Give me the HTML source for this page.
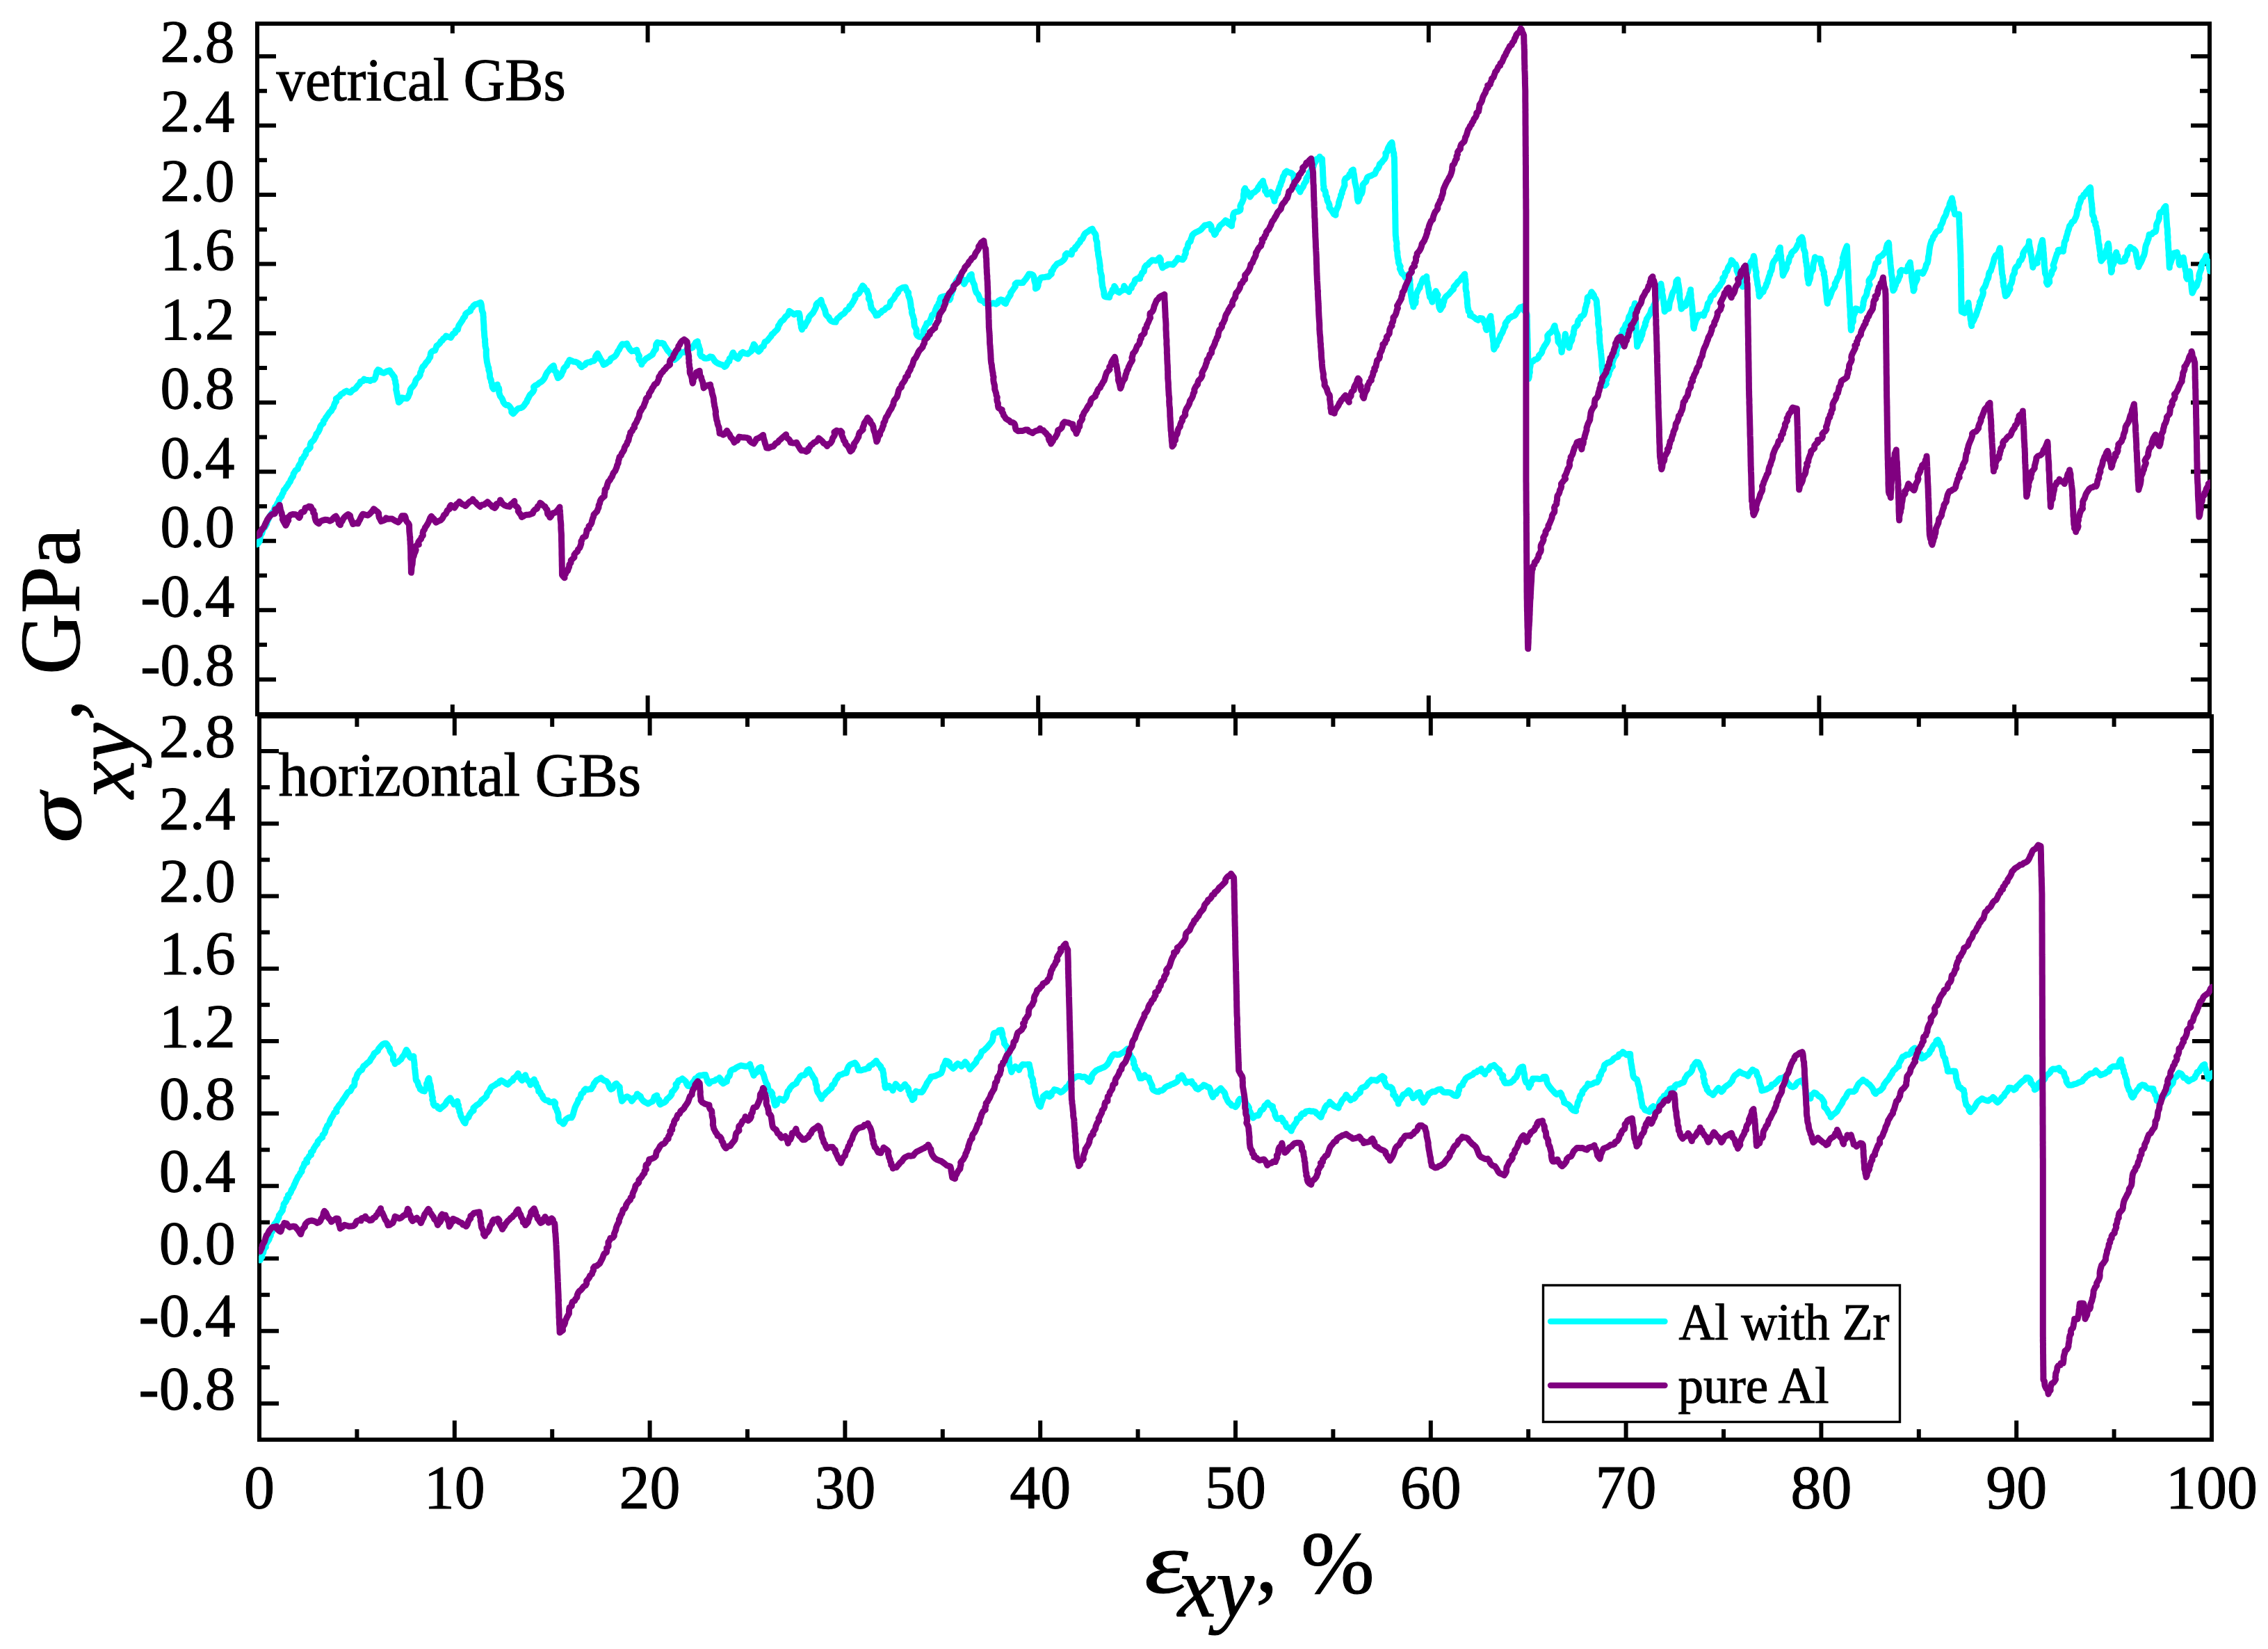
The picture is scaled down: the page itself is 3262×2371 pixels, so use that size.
<!DOCTYPE html>
<html><head><meta charset="utf-8"><title>chart</title>
<style>
html,body{margin:0;padding:0;background:#fff;}
body{width:3262px;height:2371px;overflow:hidden;font-family:"Liberation Serif",serif;}
svg{display:block;position:absolute;left:0;top:0;}
</style></head><body>
<svg width="3262" height="2371" viewBox="0 0 3262 2371">
<rect x="0" y="0" width="3262" height="2371" fill="#fff"/>
<defs>
<clipPath id="ct"><rect x="369" y="34" width="2810" height="993"/></clipPath>
<clipPath id="cb"><rect x="372" y="1030" width="2810" height="1040"/></clipPath>
</defs>
<g stroke="#000" stroke-width="6" fill="none" stroke-linecap="butt">
<rect x="370" y="34" width="2808" height="993"/>
<rect x="373" y="1030" width="2808" height="1040"/>
<path d="M370 81.0h27M3178 81.0h-27M370 130.8h14M3178 130.8h-14M370 180.5h27M3178 180.5h-27M370 230.3h14M3178 230.3h-14M370 280.1h27M3178 280.1h-27M370 329.9h14M3178 329.9h-14M370 379.6h27M3178 379.6h-27M370 429.4h14M3178 429.4h-14M370 479.2h27M3178 479.2h-27M370 528.9h14M3178 528.9h-14M370 578.7h27M3178 578.7h-27M370 628.5h14M3178 628.5h-14M370 678.2h27M3178 678.2h-27M370 728.0h14M3178 728.0h-14M370 777.8h27M3178 777.8h-27M370 827.5h14M3178 827.5h-14M370 877.3h27M3178 877.3h-27M370 927.1h14M3178 927.1h-14M370 976.9h27M3178 976.9h-27M650.8 34v14M650.8 1027v-14M931.6 34v27M931.6 1027v-27M1212.4 34v14M1212.4 1027v-14M1493.2 34v27M1493.2 1027v-27M1774.0 34v14M1774.0 1027v-14M2054.8 34v27M2054.8 1027v-27M2335.6 34v14M2335.6 1027v-14M2616.4 34v27M2616.4 1027v-27M2897.2 34v14M2897.2 1027v-14M373 1080.0h28M3181 1080.0h-28M373 1132.1h15M3181 1132.1h-15M373 1184.2h28M3181 1184.2h-28M373 1236.3h15M3181 1236.3h-15M373 1288.4h28M3181 1288.4h-28M373 1340.6h15M3181 1340.6h-15M373 1392.7h28M3181 1392.7h-28M373 1444.8h15M3181 1444.8h-15M373 1496.9h28M3181 1496.9h-28M373 1549.0h15M3181 1549.0h-15M373 1601.1h28M3181 1601.1h-28M373 1653.2h15M3181 1653.2h-15M373 1705.3h28M3181 1705.3h-28M373 1757.5h15M3181 1757.5h-15M373 1809.6h28M3181 1809.6h-28M373 1861.7h15M3181 1861.7h-15M373 1913.8h28M3181 1913.8h-28M373 1965.9h15M3181 1965.9h-15M373 2018.0h28M3181 2018.0h-28M513.4 1030v15M513.4 2070v-15M653.8 1030v27.5M653.8 2070v-27.5M794.2 1030v15M794.2 2070v-15M934.6 1030v27.5M934.6 2070v-27.5M1075.0 1030v15M1075.0 2070v-15M1215.4 1030v27.5M1215.4 2070v-27.5M1355.8 1030v15M1355.8 2070v-15M1496.2 1030v27.5M1496.2 2070v-27.5M1636.6 1030v15M1636.6 2070v-15M1777.0 1030v27.5M1777.0 2070v-27.5M1917.4 1030v15M1917.4 2070v-15M2057.8 1030v27.5M2057.8 2070v-27.5M2198.2 1030v15M2198.2 2070v-15M2338.6 1030v27.5M2338.6 2070v-27.5M2479.0 1030v15M2479.0 2070v-15M2619.4 1030v27.5M2619.4 2070v-27.5M2759.8 1030v15M2759.8 2070v-15M2900.2 1030v27.5M2900.2 2070v-27.5M3040.6 1030v15M3040.6 2070v-15"/>
</g>
<g clip-path="url(#ct)">
<polyline fill="none" stroke-width="9" stroke-linejoin="round" stroke-linecap="round" stroke="#00ffff" points="369.8,782.7 371.9,780.4 373.5,777.9 373.9,774.8 374.3,771.8 375.1,768.9 376.9,766.5 377.6,763.5 378.4,760.6 380.6,758.4 382.1,755.8 383.6,753.3 384.0,750.2 385.6,747.6 386.8,744.9 388.1,741.9 389.8,739.7 391.3,737.2 394.2,735.3 394.6,732.1 395.6,729.2 397.8,726.9 398.8,724.0 400.6,721.6 401.3,718.5 402.9,716.0 405.0,713.7 405.7,711.0 407.5,708.1 408.2,705.0 410.4,702.8 412.0,700.1 413.9,697.7 415.2,695.0 417.3,692.6 418.2,689.7 419.8,687.0 421.6,684.5 422.1,681.3 423.8,678.7 425.3,676.1 428.4,674.4 429.1,671.2 430.3,668.6 432.3,666.1 433.3,663.2 433.8,660.1 436.6,658.2 437.6,655.4 439.7,653.1 440.0,649.9 441.7,647.4 444.3,645.5 446.3,643.2 446.1,639.6 447.1,636.7 449.3,634.5 451.5,632.4 452.8,629.7 454.3,627.1 455.0,624.0 457.2,621.9 458.5,619.5 459.9,616.5 460.7,613.3 462.4,610.8 465.0,608.8 465.3,605.4 467.5,603.1 468.7,600.3 470.7,597.9 472.3,595.3 474.1,592.8 476.6,590.7 477.8,587.9 479.8,585.5 480.6,582.4 481.7,579.5 483.7,577.1 483.3,573.3 486.6,571.2 488.7,569.6 490.4,566.9 493.3,565.7 495.4,563.5 498.6,562.1 501.4,563.6 504.2,564.3 505.9,562.1 508.2,560.2 511.1,558.9 512.9,556.5 514.8,554.2 517.2,552.1 518.3,548.8 521.8,547.9 523.6,545.2 526.4,546.5 529.7,546.5 532.4,547.7 534.4,546.2 537.7,546.1 539.4,544.0 540.3,540.6 541.2,537.7 541.7,534.5 543.6,531.7 546.6,533.0 548.8,535.3 551.7,536.3 554.5,535.0 557.3,533.5 560.5,532.7 562.0,535.4 563.9,537.5 565.4,539.9 567.5,542.2 567.5,544.9 568.7,547.9 568.8,551.0 569.8,554.0 569.9,557.2 569.6,560.3 570.5,563.4 571.0,566.4 571.6,569.5 572.2,572.6 572.9,575.7 573.5,578.6 575.6,576.8 577.3,574.5 578.1,571.8 581.5,572.5 585.1,573.0 587.1,570.6 588.0,568.0 589.3,565.5 589.8,562.7 590.3,559.8 592.1,557.3 594.2,555.2 596.1,552.6 597.2,549.6 598.1,546.5 600.1,544.0 602.6,541.9 604.3,539.2 604.6,535.7 606.2,533.0 606.7,530.0 608.0,527.5 610.3,525.5 611.8,523.1 613.3,520.9 615.7,518.6 617.0,515.9 618.8,513.4 619.1,510.1 619.8,507.1 622.0,504.8 625.6,503.9 626.9,500.8 627.9,497.5 630.5,495.6 632.6,493.6 633.9,490.8 636.4,489.3 637.6,486.7 640.3,485.4 641.4,483.1 644.8,484.2 648.4,485.4 650.2,482.5 651.5,479.8 654.7,478.5 655.2,475.3 658.5,474.0 659.0,471.1 660.0,467.8 661.8,465.3 663.5,462.8 665.2,460.2 666.4,457.4 668.7,455.2 669.5,451.8 671.5,449.8 674.0,448.3 676.6,447.2 677.3,443.8 679.6,442.0 681.0,439.6 683.6,437.7 686.3,437.1 688.9,436.0 691.3,434.9 692.2,437.7 692.7,440.9 692.9,444.1 693.5,447.3 694.9,450.5 694.9,453.3 695.3,456.2 695.2,459.2 695.5,462.1 695.7,465.0 695.9,467.9 696.0,470.9 696.0,473.8 696.4,476.7 696.6,479.7 696.7,482.6 697.0,485.4 697.7,488.4 697.5,491.4 697.9,494.3 697.9,497.3 698.6,500.2 699.4,503.0 699.2,506.0 699.3,509.0 699.3,511.9 699.7,514.9 700.1,517.8 700.5,520.9 701.2,523.5 701.7,526.3 702.9,529.0 702.8,532.0 703.8,534.7 704.4,537.5 704.4,540.4 704.8,543.3 706.2,546.0 706.5,549.2 707.6,551.4 707.7,554.3 708.3,557.0 710.0,559.6 712.0,557.2 714.6,555.6 715.3,552.9 715.5,555.4 717.5,558.0 718.0,561.0 717.7,564.2 718.6,567.1 719.5,569.8 721.5,572.3 723.0,575.0 723.9,578.1 725.8,580.7 727.8,582.4 730.7,582.5 732.8,584.2 734.4,586.5 735.8,589.1 735.7,592.5 738.1,594.9 740.5,592.3 742.7,589.8 745.2,587.4 748.7,586.7 751.7,585.2 754.0,582.7 755.7,580.0 757.6,577.8 758.4,575.0 759.9,572.6 761.0,570.1 762.6,567.4 765.0,565.3 766.9,562.9 768.2,560.1 767.5,556.3 769.8,554.3 773.0,552.9 775.6,550.5 778.6,548.8 780.7,546.9 782.5,544.7 783.8,542.3 784.8,539.7 786.0,537.2 787.4,535.0 789.6,532.6 791.3,529.9 793.5,527.7 796.2,525.8 797.1,529.0 796.6,532.4 799.8,534.6 800.2,537.8 801.4,540.6 802.5,543.6 805.3,541.5 807.4,539.0 808.5,535.8 810.2,532.9 810.8,529.9 812.8,527.6 815.3,525.5 816.1,522.5 818.0,520.1 819.0,517.5 821.8,518.6 824.6,520.0 827.8,520.2 830.4,521.5 832.9,523.1 834.2,526.1 836.6,527.7 838.7,525.8 841.4,524.6 842.9,522.1 845.4,521.0 848.5,520.8 851.2,519.3 854.2,518.8 856.1,516.6 856.2,513.4 857.5,510.7 859.5,508.2 860.9,511.1 862.4,513.7 863.6,516.4 865.5,518.8 866.9,521.5 868.3,524.5 871.5,523.0 874.1,520.6 877.1,519.3 878.4,515.8 881.2,514.3 883.9,512.6 885.9,510.5 887.5,507.8 888.5,505.1 890.4,502.9 891.5,500.3 892.9,497.9 895.0,494.7 898.6,495.2 901.7,494.1 903.0,497.3 904.6,500.0 906.3,502.7 908.7,504.9 912.3,504.4 915.8,503.1 916.6,506.2 917.8,509.1 919.4,512.0 918.6,515.6 919.9,518.5 922.9,520.8 922.8,524.1 923.7,521.3 925.9,519.5 927.6,517.3 929.8,515.2 932.8,513.7 935.6,511.7 938.6,509.8 939.6,507.1 941.1,504.4 943.4,501.9 943.4,498.5 943.7,495.2 945.6,492.3 948.5,493.5 951.6,493.2 954.4,494.0 955.9,497.1 957.7,499.7 959.3,502.5 961.1,505.0 963.4,507.2 965.0,509.8 966.6,512.4 968.4,514.8 969.9,517.4 972.4,515.5 974.7,513.4 976.9,511.2 978.7,508.5 980.6,506.7 983.5,506.6 985.7,505.2 988.4,503.9 990.6,501.7 993.5,500.8 996.3,499.6 997.4,497.1 999.2,495.0 1000.5,492.4 1003.3,490.8 1003.6,494.2 1005.0,497.0 1005.6,500.1 1006.9,503.0 1006.9,506.2 1006.8,509.4 1008.6,512.2 1011.0,513.0 1012.9,515.0 1015.6,515.3 1018.6,514.9 1021.3,512.8 1024.4,513.5 1026.3,516.4 1028.0,519.2 1030.4,521.1 1033.2,522.8 1036.4,524.0 1039.8,524.9 1042.0,527.4 1044.1,526.1 1045.6,523.6 1046.5,520.8 1049.0,519.3 1049.2,515.6 1052.2,513.3 1052.9,509.9 1054.3,506.9 1055.6,509.4 1057.6,511.5 1058.8,514.1 1061.4,515.9 1063.0,513.4 1064.5,510.9 1065.7,508.3 1068.4,506.4 1071.8,508.2 1075.4,508.9 1078.2,506.6 1081.0,504.6 1081.7,501.3 1083.1,498.4 1084.2,495.1 1086.2,497.6 1086.5,501.1 1088.8,503.2 1091.2,505.3 1093.8,503.0 1095.0,499.5 1098.3,497.6 1099.0,494.7 1100.1,491.7 1103.5,490.2 1105.3,487.7 1107.1,485.4 1109.0,483.5 1110.1,480.8 1112.5,479.2 1114.1,477.2 1117.0,474.7 1119.0,471.9 1119.4,468.6 1121.3,466.2 1122.5,463.6 1124.2,461.5 1126.6,459.9 1128.2,457.8 1130.0,455.1 1132.8,453.1 1134.2,450.2 1135.2,447.3 1137.6,448.8 1139.9,450.6 1142.3,452.2 1145.6,450.6 1149.3,450.5 1150.1,453.4 1150.5,456.3 1150.4,459.2 1151.3,462.0 1151.4,465.0 1152.3,467.8 1152.3,470.7 1153.5,473.8 1154.2,470.6 1157.2,469.4 1158.3,466.9 1159.8,464.2 1161.1,462.1 1162.7,459.8 1163.2,456.8 1164.8,454.4 1166.9,452.3 1169.2,450.0 1170.7,447.2 1172.2,444.5 1173.6,441.6 1173.9,438.0 1175.8,435.6 1178.5,434.0 1180.9,431.3 1181.8,434.9 1182.3,438.0 1184.3,440.6 1185.3,443.5 1186.7,446.3 1187.2,449.4 1188.0,452.3 1189.8,454.5 1192.1,456.3 1193.2,459.0 1195.0,461.1 1198.4,462.7 1202.0,463.1 1203.1,460.2 1204.5,457.8 1207.0,456.3 1208.7,454.2 1210.8,452.4 1213.4,451.1 1215.4,449.0 1216.7,446.1 1219.6,444.8 1221.2,443.0 1221.9,440.2 1224.5,438.6 1225.6,436.0 1227.3,433.8 1228.4,431.1 1230.1,428.7 1230.1,425.0 1233.0,423.4 1235.6,421.5 1237.2,418.8 1237.7,416.0 1239.3,413.4 1240.7,410.8 1243.0,412.9 1244.0,416.0 1246.9,417.6 1247.8,420.7 1249.1,423.4 1249.7,426.3 1249.3,429.4 1250.8,432.0 1252.0,434.8 1252.0,437.8 1252.9,440.6 1253.0,443.1 1255.5,445.8 1257.2,448.4 1259.1,450.9 1260.1,453.7 1262.9,453.1 1264.3,450.4 1267.1,449.4 1268.9,446.9 1272.0,445.6 1274.3,442.8 1277.7,441.5 1279.4,439.6 1280.3,436.9 1280.7,433.9 1282.8,432.0 1284.7,429.9 1286.5,427.8 1287.6,424.8 1289.6,422.6 1291.7,420.3 1292.5,417.1 1295.3,415.1 1298.5,413.4 1302.3,412.9 1303.3,415.6 1304.2,418.4 1306.6,420.6 1306.4,423.7 1307.1,426.5 1308.3,429.1 1309.0,431.9 1309.3,434.3 1309.9,437.6 1310.1,440.4 1310.6,443.3 1311.6,446.0 1311.3,449.0 1312.0,451.8 1313.2,454.4 1313.7,457.3 1314.8,460.0 1314.6,462.6 1315.0,465.7 1315.2,468.6 1316.6,471.2 1318.1,473.7 1318.2,476.6 1317.9,479.6 1319.2,482.5 1321.9,484.2 1325.2,484.4 1327.6,481.7 1328.1,478.7 1328.1,475.5 1329.6,472.8 1330.4,470.6 1332.2,467.7 1332.9,464.7 1336.6,464.1 1337.5,461.5 1338.7,458.6 1339.8,456.0 1340.5,453.1 1343.2,451.4 1344.5,448.9 1345.2,446.0 1346.3,443.4 1347.4,440.7 1349.5,438.5 1350.1,435.7 1352.1,433.4 1351.9,430.2 1353.3,427.5 1356.7,426.4 1360.3,425.7 1363.1,428.5 1365.6,431.4 1367.1,428.7 1366.7,425.6 1368.5,423.1 1368.9,420.3 1370.4,417.7 1370.3,414.7 1370.9,411.8 1372.8,409.8 1374.3,407.5 1375.1,404.8 1376.7,402.5 1378.3,400.2 1379.7,397.9 1382.5,399.8 1384.3,402.4 1385.2,405.6 1386.7,408.4 1388.1,405.8 1389.1,402.8 1392.4,401.7 1393.7,399.0 1394.9,396.2 1397.3,394.5 1397.3,397.5 1398.0,400.5 1398.9,403.5 1399.8,406.5 1401.4,409.3 1401.9,412.4 1402.5,415.5 1403.3,418.3 1404.4,420.9 1406.6,423.1 1407.8,425.7 1408.8,428.4 1409.6,431.1 1412.4,432.4 1415.2,433.5 1416.6,435.9 1419.5,436.4 1422.5,436.5 1425.4,436.6 1429.1,435.7 1432.4,437.2 1435.1,435.8 1436.2,432.4 1439.5,430.7 1442.8,431.7 1443.9,435.1 1446.5,436.6 1447.3,433.7 1448.9,431.2 1450.0,428.6 1451.8,426.2 1453.4,423.8 1453.5,421.1 1455.5,418.6 1457.1,416.4 1458.6,414.1 1460.4,411.9 1460.0,408.4 1462.3,406.5 1465.3,406.6 1468.2,406.7 1471.1,406.6 1472.8,404.1 1474.9,401.9 1476.6,399.4 1478.3,396.9 1479.9,394.1 1483.2,394.2 1485.9,395.7 1487.2,398.7 1487.4,401.5 1487.9,404.3 1488.8,407.0 1489.4,409.7 1489.4,412.6 1489.4,415.1 1492.0,413.4 1493.1,410.6 1493.2,407.4 1494.4,404.7 1495.4,401.8 1497.5,399.2 1500.1,398.7 1502.8,398.5 1505.3,397.8 1508.1,397.9 1510.0,395.8 1512.4,394.0 1512.0,390.5 1514.2,388.6 1515.2,386.0 1516.9,383.4 1518.8,381.6 1520.4,379.2 1523.2,378.2 1525.6,377.2 1528.5,375.0 1530.6,372.8 1532.1,370.2 1532.1,366.5 1534.4,364.3 1537.8,365.2 1541.1,365.9 1541.8,362.8 1542.2,359.7 1546.0,358.3 1546.4,355.7 1549.1,353.3 1550.9,350.4 1553.4,348.2 1554.0,345.3 1556.6,343.5 1557.9,340.9 1559.0,338.3 1560.5,335.8 1563.0,334.0 1565.7,332.4 1568.2,330.3 1571.0,329.0 1572.1,331.6 1573.6,334.1 1575.5,336.5 1576.3,339.5 1576.2,342.3 1576.7,345.2 1577.9,348.0 1578.0,350.9 1578.0,353.8 1578.5,356.7 1578.6,359.6 1579.4,362.4 1579.5,365.3 1579.9,368.2 1580.5,370.6 1581.1,373.9 1581.4,376.9 1581.9,379.8 1582.3,382.7 1582.0,385.7 1582.7,388.6 1582.9,391.6 1583.9,394.5 1584.6,397.3 1584.7,400.3 1584.7,403.3 1585.1,406.1 1585.4,409.0 1585.7,411.8 1586.6,414.5 1587.1,417.3 1587.9,420.0 1587.8,422.9 1588.6,426.1 1591.9,427.1 1595.6,427.4 1596.3,424.5 1597.6,421.9 1599.7,419.6 1599.9,416.6 1602.4,414.5 1602.7,411.4 1604.4,413.7 1605.4,416.5 1606.7,419.1 1609.7,420.6 1612.0,418.6 1614.9,417.2 1616.2,414.6 1616.7,411.3 1618.4,413.6 1618.9,416.7 1622.3,417.3 1623.8,419.7 1623.9,416.1 1627.4,414.3 1627.8,411.0 1630.1,408.6 1631.8,405.9 1632.6,402.3 1635.8,400.5 1639.6,400.7 1639.7,397.7 1641.7,395.3 1642.6,392.3 1645.3,390.2 1645.7,387.1 1646.5,384.1 1648.4,381.6 1651.2,380.3 1652.9,377.8 1655.1,376.0 1657.2,374.0 1659.9,374.3 1662.5,374.9 1665.2,373.0 1667.7,370.3 1669.4,373.1 1669.2,376.3 1669.9,379.3 1670.9,382.2 1672.0,385.0 1674.5,383.2 1677.6,381.9 1680.0,380.0 1683.6,379.9 1687.1,380.6 1688.9,378.5 1690.7,376.1 1692.9,373.9 1694.1,370.9 1697.5,372.5 1701.1,373.3 1703.3,370.3 1703.9,367.1 1705.4,364.3 1705.2,360.8 1706.5,357.9 1708.2,355.6 1708.5,352.0 1709.6,349.2 1712.2,347.0 1712.8,344.0 1714.0,341.2 1714.8,338.2 1717.0,336.0 1719.7,334.1 1722.7,332.8 1725.8,331.2 1727.7,329.8 1729.3,327.7 1731.3,325.8 1732.8,324.0 1736.4,323.4 1739.8,322.3 1741.8,324.7 1742.4,327.5 1742.5,330.5 1745.1,332.3 1746.0,335.0 1746.9,337.5 1748.6,335.4 1749.2,332.4 1751.2,330.3 1753.0,328.1 1753.9,325.4 1756.1,323.1 1758.6,321.3 1760.9,319.1 1762.7,316.9 1765.3,318.3 1766.6,321.5 1769.3,323.2 1771.5,325.1 1771.7,322.5 1771.9,319.7 1772.7,317.0 1773.8,314.3 1773.2,311.4 1773.8,308.6 1775.0,305.8 1777.8,304.5 1781.1,304.1 1783.8,302.3 1784.3,299.6 1783.8,296.4 1784.9,293.6 1786.5,291.0 1787.6,288.2 1788.6,285.4 1788.5,282.4 1788.6,279.4 1789.3,276.5 1789.2,273.5 1790.8,270.7 1791.5,273.7 1794.0,275.5 1794.0,278.8 1797.0,280.3 1797.9,283.1 1799.6,280.5 1801.2,277.7 1804.4,276.4 1806.7,274.0 1808.9,272.4 1809.6,269.4 1811.5,267.2 1812.9,264.7 1814.9,262.6 1816.5,260.1 1816.9,263.1 1817.7,265.9 1818.9,268.6 1820.0,271.3 1819.5,274.4 1821.7,276.8 1822.5,279.5 1825.4,278.3 1827.8,276.2 1829.9,278.3 1830.3,281.3 1831.3,283.9 1832.8,286.4 1833.0,289.3 1833.2,286.2 1834.6,283.5 1835.1,280.4 1837.9,278.1 1838.1,274.9 1839.4,272.1 1840.1,269.2 1841.7,266.3 1842.3,263.2 1843.8,260.4 1844.6,257.3 1845.4,253.8 1847.1,251.5 1848.1,248.3 1850.6,246.2 1852.9,247.5 1855.4,248.3 1857.7,249.1 1860.3,251.7 1860.8,254.5 1861.0,257.4 1862.3,259.9 1861.1,263.2 1862.9,265.9 1864.6,268.2 1867.0,270.4 1868.6,273.2 1870.0,275.9 1870.9,273.2 1872.5,270.7 1874.4,268.4 1875.3,265.2 1876.7,262.7 1878.8,260.3 1878.8,256.7 1880.6,254.1 1882.3,251.3 1882.7,248.5 1885.2,246.6 1886.0,243.9 1888.1,241.8 1889.1,239.1 1889.8,236.4 1891.1,233.9 1892.7,231.5 1893.6,228.7 1896.9,227.7 1898.1,225.3 1899.2,227.5 1901.6,228.4 1901.7,231.7 1901.8,234.8 1902.0,237.8 1902.4,240.9 1902.4,244.0 1902.6,247.1 1902.7,250.1 1902.8,253.2 1903.1,256.3 1903.1,259.4 1903.3,262.4 1903.4,265.8 1904.1,268.6 1903.6,271.9 1905.9,274.5 1906.6,277.5 1906.6,280.8 1908.6,283.4 1908.7,286.6 1909.5,289.5 1911.1,292.1 1912.1,295.0 1911.9,298.3 1914.0,300.8 1915.5,303.1 1917.1,305.4 1918.4,307.9 1921.0,309.3 1920.9,306.3 1921.5,303.2 1922.8,300.3 1924.2,297.5 1925.3,294.5 1925.5,291.4 1926.3,288.7 1927.3,285.8 1928.5,283.3 1928.5,280.4 1930.2,278.0 1930.3,275.1 1931.5,272.7 1932.7,269.5 1934.0,266.5 1933.8,263.1 1933.8,259.8 1935.1,256.7 1937.8,255.2 1940.3,253.1 1941.0,250.4 1943.6,249.0 1943.7,245.8 1946.3,244.0 1946.5,247.5 1947.3,250.4 1947.7,253.5 1948.1,256.5 1948.5,259.5 1948.9,262.6 1949.8,265.9 1950.3,268.5 1951.1,271.4 1951.4,274.5 1951.9,277.4 1952.0,280.5 1952.1,283.5 1952.5,286.5 1953.3,289.5 1954.6,286.7 1955.5,283.8 1956.2,280.9 1958.4,278.5 1959.3,275.6 1959.7,272.8 1960.1,269.3 1960.0,265.9 1962.1,263.3 1964.8,261.0 1965.5,257.9 1966.7,255.0 1969.3,253.5 1972.1,252.6 1974.7,251.1 1977.3,250.1 1978.8,246.9 1979.9,244.0 1982.4,241.7 1983.7,238.8 1984.3,236.0 1987.1,233.7 1989.1,231.0 1991.3,228.7 1992.6,226.1 1993.3,223.4 1992.8,220.3 1995.4,218.2 1995.6,215.3 1996.6,212.6 1998.1,210.0 1999.6,207.2 2001.9,204.7 2002.5,208.1 2002.6,211.3 2003.4,214.4 2003.7,217.5 2004.8,220.5 2004.8,223.7 2005.4,226.6 2005.4,229.9 2005.5,232.9 2005.6,235.9 2005.7,238.9 2005.7,242.0 2005.7,245.0 2005.8,248.0 2005.8,251.1 2005.8,254.1 2005.9,257.1 2006.0,260.1 2006.0,263.2 2006.1,266.2 2006.1,269.2 2006.1,272.3 2006.1,275.3 2006.2,278.3 2006.3,281.4 2006.3,284.4 2006.3,287.4 2006.5,290.4 2006.5,293.5 2006.5,296.5 2006.5,299.5 2006.6,302.6 2006.7,305.6 2006.8,308.6 2006.8,311.6 2006.8,314.7 2006.9,317.7 2006.9,320.7 2007.0,323.8 2007.0,326.8 2007.1,329.8 2007.1,332.8 2007.2,335.9 2007.3,338.8 2007.8,341.7 2007.8,344.7 2008.6,347.6 2009.0,350.5 2008.6,353.5 2008.9,356.4 2009.0,359.4 2009.8,362.2 2009.9,365.2 2010.1,368.1 2010.7,371.5 2011.4,374.1 2011.4,377.3 2012.5,380.2 2014.2,383.0 2013.3,386.4 2014.8,389.2 2016.0,392.6 2017.9,394.3 2020.1,396.4 2021.2,399.2 2024.3,397.0 2026.5,393.9 2026.8,397.0 2027.4,400.0 2028.0,403.0 2027.7,406.1 2028.3,409.1 2028.3,412.1 2028.5,415.2 2028.9,418.2 2029.0,421.3 2029.5,424.3 2030.0,427.5 2030.5,430.2 2030.9,433.0 2031.5,435.8 2032.6,438.5 2032.8,441.2 2033.3,438.5 2035.8,436.1 2036.2,433.1 2035.7,429.9 2036.9,427.2 2036.4,424.0 2037.8,421.3 2038.8,418.9 2040.2,416.0 2042.1,413.7 2042.4,410.6 2043.8,408.1 2045.0,405.5 2045.9,402.3 2047.3,400.3 2050.6,400.1 2051.8,397.5 2051.9,400.5 2052.0,403.5 2053.0,406.4 2053.3,409.4 2053.9,412.4 2054.7,415.3 2054.9,418.4 2055.3,421.4 2056.2,424.3 2056.4,427.1 2058.6,429.2 2059.3,431.7 2059.9,434.2 2060.1,431.5 2060.2,428.6 2062.6,426.4 2064.3,424.1 2064.0,421.0 2065.2,418.5 2066.3,421.4 2068.1,424.0 2066.7,427.5 2067.7,430.3 2069.3,433.0 2069.0,436.2 2069.6,439.2 2070.0,442.2 2071.5,445.4 2073.4,442.2 2075.3,439.6 2075.6,436.2 2076.9,433.3 2077.3,430.0 2079.3,426.9 2081.5,424.9 2084.1,422.7 2086.3,420.0 2088.1,417.9 2090.5,415.8 2091.0,412.5 2093.0,410.2 2095.1,408.3 2096.5,405.5 2098.8,403.8 2100.9,401.8 2102.1,399.4 2104.6,396.7 2106.7,394.1 2106.9,396.9 2107.2,399.8 2107.8,402.8 2107.8,405.8 2108.2,408.7 2108.0,411.7 2108.0,414.7 2108.4,417.7 2109.4,420.6 2109.2,423.6 2109.6,426.6 2110.1,429.5 2110.4,432.5 2110.3,435.5 2110.8,438.4 2110.9,441.3 2111.8,444.5 2112.1,447.7 2115.0,450.2 2114.4,453.6 2117.7,454.7 2120.5,456.5 2123.0,458.8 2126.0,460.3 2128.5,457.6 2132.0,457.9 2133.3,460.7 2134.8,463.1 2135.7,465.9 2137.4,468.3 2136.9,471.5 2138.0,474.5 2138.7,471.2 2139.4,468.3 2139.6,465.2 2140.7,462.5 2141.5,459.6 2142.9,456.9 2144.0,454.4 2144.0,457.1 2144.3,460.1 2145.1,463.1 2145.1,466.1 2145.7,469.1 2146.1,472.1 2146.0,475.1 2146.4,478.1 2146.2,481.2 2146.8,484.2 2147.3,487.1 2147.5,490.2 2148.1,493.1 2148.1,496.1 2148.2,499.2 2148.8,502.4 2150.1,499.2 2152.4,496.9 2152.6,493.5 2154.7,491.0 2156.0,488.0 2157.4,485.4 2158.0,482.3 2159.9,479.8 2161.3,477.1 2162.0,474.6 2163.4,471.5 2165.0,468.9 2165.0,465.6 2166.5,463.0 2168.6,460.7 2170.1,457.8 2172.6,456.5 2175.1,454.8 2178.1,454.0 2180.0,451.9 2181.1,449.2 2183.2,447.1 2184.2,444.3 2186.1,442.1 2188.8,441.4 2191.3,440.3 2191.9,443.3 2192.3,446.6 2194.9,449.1 2196.1,452.1 2196.3,455.1 2196.2,458.0 2196.4,461.0 2196.4,464.0 2196.5,467.0 2196.5,469.9 2196.6,472.9 2196.7,475.9 2196.8,478.8 2196.9,481.8 2196.9,484.8 2197.1,487.7 2197.1,490.7 2197.2,493.7 2197.2,496.7 2197.3,499.6 2197.3,502.6 2197.4,505.6 2197.6,508.5 2197.6,511.5 2197.8,514.5 2198.0,517.4 2198.0,520.4 2197.9,523.4 2198.0,526.4 2198.0,529.3 2198.2,532.3 2198.2,535.3 2198.2,538.2 2198.3,541.2 2198.5,544.5 2199.4,541.2 2199.4,538.2 2200.4,535.3 2200.1,532.1 2200.4,529.1 2201.1,526.2 2201.4,523.1 2202.1,520.4 2205.0,519.4 2207.3,517.2 2210.1,516.5 2212.8,514.1 2213.5,510.9 2216.1,508.8 2217.8,506.1 2218.4,502.8 2220.1,500.0 2221.4,497.3 2223.2,494.8 2224.9,492.1 2226.1,489.3 2225.9,485.9 2225.7,482.5 2228.1,479.5 2230.3,478.1 2232.1,475.9 2233.9,473.6 2234.8,470.7 2236.1,468.2 2236.5,471.0 2237.2,473.9 2238.0,476.7 2239.3,479.4 2240.4,482.2 2240.4,485.2 2240.9,488.0 2241.0,491.4 2243.0,494.0 2244.8,496.8 2246.0,499.7 2245.7,503.0 2246.1,506.4 2246.6,503.2 2247.0,500.3 2247.9,497.5 2249.1,494.7 2249.7,491.8 2250.2,488.9 2250.7,486.0 2250.8,483.0 2251.3,480.2 2251.9,483.1 2251.8,486.2 2254.7,488.4 2255.1,491.4 2255.3,494.4 2256.3,497.2 2256.9,500.1 2257.5,497.2 2257.9,494.2 2259.4,491.5 2260.9,488.8 2261.0,485.7 2262.0,482.9 2263.3,480.1 2263.2,477.0 2264.1,474.1 2264.4,470.9 2267.3,468.9 2269.2,466.3 2269.2,463.0 2270.1,460.6 2272.8,458.8 2273.4,455.3 2276.2,454.1 2278.1,452.2 2279.1,449.2 2279.8,446.2 2280.0,443.1 2281.2,440.2 2281.7,437.2 2283.0,434.3 2282.9,431.1 2283.3,427.6 2286.2,426.1 2287.7,423.2 2289.0,419.8 2290.9,422.2 2292.5,424.5 2292.9,427.5 2295.0,429.5 2296.2,432.3 2296.5,435.1 2296.5,438.1 2297.0,441.1 2297.4,444.1 2297.4,447.1 2297.7,450.1 2297.8,453.1 2298.4,456.1 2298.7,459.1 2298.8,462.1 2298.6,465.1 2299.0,468.1 2299.7,471.1 2300.3,474.1 2299.8,477.1 2300.2,480.3 2300.6,483.1 2300.5,486.1 2300.7,489.2 2300.7,492.2 2301.2,495.2 2301.7,498.1 2301.8,501.2 2302.4,504.1 2302.6,507.1 2302.9,510.1 2303.1,513.1 2303.5,516.1 2303.8,519.1 2304.0,522.1 2303.9,525.2 2304.2,528.2 2304.6,531.1 2304.9,534.0 2305.2,536.9 2305.7,539.8 2305.6,542.7 2306.5,545.6 2307.0,548.4 2307.8,551.3 2308.2,554.4 2310.3,551.8 2308.4,548.0 2311.2,545.9 2311.4,542.9 2313.2,540.4 2314.2,537.7 2314.3,534.6 2316.2,531.7 2316.6,529.1 2319.5,526.9 2318.5,523.4 2319.4,520.5 2320.3,517.6 2321.3,514.7 2323.0,512.1 2324.8,509.5 2324.2,506.5 2325.5,503.4 2325.9,500.3 2327.8,497.8 2328.0,494.7 2329.1,491.9 2329.5,488.8 2331.1,486.1 2331.5,483.1 2332.2,480.0 2334.7,478.1 2333.9,474.3 2336.0,472.0 2337.2,469.3 2338.2,466.4 2340.2,464.4 2341.7,461.5 2342.3,458.4 2342.9,455.4 2344.7,452.9 2345.8,450.1 2346.8,447.2 2347.5,444.3 2350.1,442.1 2350.7,439.1 2351.4,436.2 2351.7,439.0 2351.8,442.0 2351.8,445.0 2352.1,447.9 2352.1,450.9 2352.3,453.8 2352.4,456.8 2352.6,459.7 2352.8,462.7 2353.0,465.6 2353.1,468.6 2353.2,471.6 2353.1,474.5 2353.3,477.5 2353.8,480.4 2353.6,483.4 2353.9,486.3 2354.2,489.3 2354.3,492.2 2354.5,495.2 2354.6,498.2 2355.6,495.4 2356.5,492.6 2358.3,490.2 2359.8,487.6 2359.9,484.6 2361.6,482.1 2362.3,479.2 2362.2,476.6 2363.8,473.5 2364.8,470.5 2366.3,467.8 2366.3,464.5 2367.8,461.8 2368.3,458.6 2370.2,456.1 2371.8,453.3 2373.5,450.6 2374.4,447.5 2375.4,444.4 2377.8,442.1 2378.6,438.9 2380.2,436.0 2381.1,433.3 2382.3,430.6 2383.0,427.7 2383.1,424.7 2383.8,421.8 2385.9,419.4 2386.3,416.5 2387.1,413.6 2387.5,410.7 2389.0,408.1 2389.3,411.2 2389.9,414.2 2390.8,417.2 2390.3,420.4 2391.1,423.5 2391.8,426.5 2392.1,429.6 2392.6,432.7 2392.8,435.8 2393.2,438.8 2393.8,441.9 2393.8,445.0 2394.2,448.0 2396.4,444.9 2400.2,443.8 2400.6,441.0 2401.0,437.9 2401.4,434.8 2402.5,431.9 2403.5,429.0 2404.3,426.0 2405.1,423.0 2406.2,420.2 2408.2,417.4 2409.0,414.3 2410.2,411.3 2410.6,408.0 2410.8,404.7 2413.1,401.9 2413.1,405.1 2413.9,408.1 2414.4,411.0 2414.8,414.0 2415.3,417.0 2415.3,420.1 2415.9,423.0 2415.7,426.1 2415.9,429.2 2416.6,432.1 2417.1,435.1 2417.7,438.1 2417.7,441.1 2418.3,444.2 2420.7,441.2 2424.3,439.7 2425.2,437.1 2425.8,434.0 2427.1,431.1 2428.1,428.1 2429.7,425.4 2429.9,422.1 2431.3,419.3 2431.5,416.5 2431.4,419.1 2431.9,422.0 2432.2,424.9 2432.0,427.9 2432.6,430.8 2433.1,433.8 2433.2,436.7 2433.7,439.7 2434.0,442.6 2434.1,445.6 2434.3,448.5 2434.3,451.5 2434.9,454.4 2435.1,457.4 2435.2,460.3 2435.6,463.3 2435.6,466.2 2435.6,469.2 2436.3,472.3 2436.7,469.1 2437.5,466.3 2438.4,463.4 2439.2,460.5 2440.7,457.9 2442.5,455.3 2442.3,453.0 2444.8,453.2 2448.0,452.1 2450.3,454.1 2451.4,451.2 2452.2,448.2 2454.3,445.7 2454.9,442.6 2455.7,439.6 2456.3,436.5 2458.5,434.0 2459.9,431.3 2460.3,428.1 2462.0,425.4 2464.9,423.8 2466.1,420.7 2468.0,418.2 2470.3,415.8 2471.4,413.3 2473.6,411.2 2474.8,408.5 2476.7,406.2 2478.1,403.5 2477.7,400.0 2480.3,397.8 2481.2,395.3 2481.3,392.2 2483.8,390.1 2484.8,387.4 2485.5,384.6 2487.2,382.2 2488.8,379.7 2489.9,377.0 2490.3,374.1 2492.3,376.0 2493.0,379.3 2496.3,380.2 2497.1,382.9 2498.0,385.8 2497.9,388.9 2499.1,391.7 2500.3,394.4 2501.5,397.2 2502.3,400.3 2503.1,403.1 2504.3,406.1 2505.2,409.1 2506.3,412.3 2507.5,409.1 2508.5,406.1 2509.9,403.3 2510.0,400.0 2511.1,397.0 2512.3,394.0 2513.8,391.2 2514.3,388.3 2515.3,385.1 2515.8,382.0 2517.3,379.3 2518.4,376.4 2520.5,373.9 2521.8,371.1 2522.3,368.2 2523.0,370.9 2523.6,373.8 2523.6,376.7 2523.8,379.7 2524.2,382.6 2524.8,385.4 2525.0,388.4 2526.1,391.2 2525.8,394.2 2525.8,397.1 2526.5,400.0 2527.0,402.9 2527.6,405.8 2527.7,408.7 2528.5,411.5 2529.0,414.4 2529.1,417.4 2530.0,420.2 2529.9,423.2 2530.3,426.2 2532.0,423.7 2533.3,421.1 2536.1,419.5 2536.7,416.5 2538.4,414.1 2539.9,411.5 2540.5,408.5 2542.1,406.0 2542.6,403.0 2543.6,400.2 2544.4,397.3 2545.8,394.6 2546.0,391.5 2547.9,389.0 2548.4,386.4 2548.9,383.1 2549.3,380.1 2550.4,377.4 2551.8,374.8 2554.0,372.5 2555.0,369.7 2557.3,367.5 2558.6,364.8 2557.6,361.2 2558.8,358.6 2560.4,355.9 2560.4,359.1 2560.7,362.2 2561.0,365.3 2561.7,368.3 2561.5,371.5 2562.3,374.5 2562.6,377.6 2563.1,380.6 2563.4,383.7 2563.5,386.8 2564.0,389.9 2564.0,393.0 2564.4,396.2 2565.6,393.2 2567.0,390.4 2568.6,387.7 2569.8,384.8 2569.3,381.3 2571.2,378.7 2572.7,376.0 2573.1,372.8 2573.9,369.8 2576.1,367.2 2576.4,364.4 2578.6,361.7 2581.3,359.8 2583.2,357.2 2584.4,354.7 2585.9,351.4 2587.9,349.1 2587.6,345.5 2589.4,343.0 2591.6,341.0 2592.6,343.6 2593.0,346.6 2593.6,349.5 2593.8,352.5 2594.0,355.4 2594.3,358.4 2595.6,361.2 2596.4,364.2 2596.5,367.0 2596.7,369.9 2597.3,372.8 2597.3,375.8 2598.2,378.7 2598.3,381.6 2599.0,384.5 2599.2,387.5 2599.5,390.4 2599.2,393.4 2599.4,396.4 2599.9,399.3 2600.4,402.2 2601.3,405.1 2601.2,407.4 2601.7,405.1 2602.9,402.3 2603.7,399.4 2603.8,396.3 2604.3,393.3 2605.6,390.6 2607.4,387.9 2607.6,384.8 2607.8,381.8 2608.3,378.8 2609.2,375.9 2609.9,373.0 2610.4,369.8 2612.8,371.7 2615.6,372.0 2618.4,372.3 2619.1,374.8 2619.1,377.7 2619.6,380.6 2621.0,383.2 2621.0,386.1 2622.2,388.8 2623.5,391.5 2623.1,394.5 2624.2,397.2 2624.4,399.8 2625.0,403.0 2625.2,406.1 2625.5,409.1 2625.8,412.1 2626.0,415.1 2626.0,418.1 2626.5,421.1 2626.9,424.1 2627.2,427.1 2627.5,430.1 2627.8,433.1 2628.4,436.4 2628.9,433.0 2629.8,430.0 2631.8,427.5 2632.8,424.6 2633.8,421.7 2634.8,418.7 2636.4,415.8 2638.1,413.7 2639.4,411.0 2639.1,407.8 2640.8,405.4 2642.0,402.7 2642.8,399.9 2644.8,397.7 2645.7,394.9 2646.4,392.2 2646.8,389.0 2648.4,386.3 2649.0,383.3 2649.8,380.4 2650.0,377.3 2651.8,374.7 2650.3,371.2 2651.4,368.3 2652.1,365.4 2653.0,362.5 2654.0,359.6 2655.1,356.8 2656.4,353.8 2656.6,357.0 2656.6,360.0 2656.8,362.9 2657.0,365.9 2657.1,368.9 2657.2,371.8 2657.3,374.8 2657.6,377.8 2657.5,380.7 2657.8,383.7 2657.9,386.7 2658.3,389.6 2658.3,392.6 2658.4,395.6 2658.4,398.6 2658.5,401.5 2658.7,404.5 2658.8,407.5 2659.1,410.4 2659.3,413.4 2659.3,416.4 2659.6,419.3 2659.7,422.3 2659.9,425.2 2660.0,428.2 2660.1,431.2 2660.1,434.2 2660.4,437.1 2660.4,440.1 2660.9,443.2 2661.0,446.3 2661.2,449.4 2661.1,452.5 2661.2,455.6 2661.8,458.6 2661.8,461.7 2661.7,464.9 2662.0,467.9 2662.0,471.0 2662.4,474.7 2663.4,471.2 2663.1,468.0 2663.8,465.0 2665.4,462.2 2665.2,459.1 2665.5,456.0 2666.3,453.0 2667.7,450.2 2668.0,447.1 2668.5,443.8 2671.3,444.2 2673.7,445.7 2676.5,446.4 2678.7,443.8 2679.2,440.9 2680.0,438.0 2679.9,434.9 2680.9,432.1 2681.3,429.2 2683.0,426.7 2684.5,424.1 2685.2,421.1 2685.4,417.9 2686.7,415.0 2687.3,412.2 2689.2,409.5 2687.9,406.1 2688.0,403.1 2689.6,400.6 2691.8,398.3 2693.4,395.8 2694.3,393.1 2694.6,390.3 2695.9,387.4 2696.5,384.4 2697.2,381.4 2697.9,378.4 2701.7,376.5 2701.2,373.1 2701.8,370.3 2704.6,368.7 2707.2,367.1 2709.1,364.8 2711.1,362.4 2713.1,360.3 2712.8,357.0 2713.6,354.3 2714.4,351.5 2716.4,349.1 2716.9,352.4 2716.9,355.4 2717.1,358.5 2717.2,361.6 2717.4,364.6 2718.0,367.6 2718.2,370.7 2718.6,373.7 2718.8,376.7 2719.0,379.8 2719.3,383.0 2719.6,385.7 2720.2,388.6 2720.1,391.5 2720.5,394.4 2721.1,397.2 2721.6,400.1 2721.4,403.0 2722.1,405.8 2722.0,408.8 2722.0,411.7 2722.4,414.6 2722.9,417.8 2724.8,415.1 2725.2,412.2 2726.7,409.8 2726.7,406.6 2729.1,404.5 2730.4,402.1 2731.1,399.3 2732.6,396.7 2732.9,393.8 2732.6,390.7 2734.6,388.3 2737.0,389.0 2739.5,389.1 2741.9,389.9 2742.6,387.4 2744.1,385.0 2744.3,382.1 2746.0,379.8 2747.3,377.3 2747.5,380.3 2748.0,383.2 2748.2,386.2 2748.9,389.1 2749.0,392.1 2749.4,395.0 2749.4,398.0 2749.9,400.9 2750.1,403.9 2750.7,406.7 2751.2,409.7 2751.4,412.6 2752.0,415.5 2752.1,418.3 2753.3,415.7 2753.1,412.5 2753.7,409.6 2754.7,406.7 2756.3,403.9 2757.5,401.1 2757.0,397.9 2757.4,394.8 2758.2,391.9 2760.8,392.1 2763.5,391.6 2765.5,393.5 2766.7,391.2 2767.8,388.7 2769.1,386.1 2769.9,383.5 2770.4,380.6 2772.1,378.3 2772.8,375.6 2773.3,372.6 2773.4,369.6 2774.1,366.7 2774.6,363.7 2774.8,360.7 2775.2,357.8 2775.7,354.8 2776.4,351.8 2777.2,349.0 2778.0,346.1 2779.9,343.6 2780.4,340.6 2782.5,338.2 2783.7,335.3 2785.9,332.9 2789.1,331.2 2791.0,327.9 2790.9,325.2 2792.4,322.8 2793.8,320.3 2794.5,317.6 2795.3,314.9 2796.5,312.4 2798.3,309.7 2799.1,307.3 2799.8,304.4 2801.0,301.7 2802.3,299.0 2803.8,296.5 2804.0,293.5 2805.0,290.7 2806.5,288.1 2807.4,284.9 2808.0,288.2 2808.9,291.0 2808.8,294.0 2809.6,296.8 2810.5,299.6 2810.3,302.6 2811.3,305.3 2811.7,308.0 2814.6,308.4 2817.6,307.9 2817.7,311.3 2817.7,314.4 2818.0,317.4 2818.0,320.5 2818.1,323.5 2818.3,326.6 2818.5,329.7 2818.4,332.7 2818.5,335.8 2818.7,338.8 2818.8,341.9 2819.1,345.0 2819.1,348.0 2819.2,351.1 2819.3,354.1 2819.5,357.2 2819.6,360.3 2819.7,363.3 2819.9,366.4 2819.9,369.4 2819.9,372.5 2820.1,375.8 2820.1,378.6 2820.1,381.6 2820.2,384.7 2820.4,387.7 2820.4,390.7 2820.4,393.8 2820.5,396.8 2820.5,399.8 2820.5,402.9 2820.6,405.9 2820.5,408.9 2820.6,412.0 2820.7,415.0 2820.7,418.0 2820.8,421.0 2820.8,424.1 2820.9,427.1 2820.9,430.1 2821.0,433.2 2821.0,436.2 2821.0,439.2 2821.1,442.3 2821.1,445.3 2821.2,448.1 2823.5,449.0 2825.6,450.2 2826.4,447.2 2828.0,444.4 2829.0,441.5 2830.8,438.8 2831.0,435.3 2831.5,438.6 2831.6,441.6 2832.0,444.6 2832.8,447.5 2833.3,450.5 2833.7,453.4 2833.9,456.5 2834.2,459.5 2835.0,462.4 2835.0,465.4 2835.7,468.6 2835.7,464.9 2837.6,462.3 2839.2,459.5 2840.2,456.5 2841.9,453.7 2842.7,451.0 2843.7,448.3 2844.4,445.5 2845.7,442.9 2846.1,440.0 2847.6,437.5 2847.2,434.3 2848.9,431.9 2849.7,429.1 2851.0,426.3 2852.0,423.6 2852.5,420.6 2851.6,417.1 2853.1,414.4 2855.0,411.8 2856.1,408.9 2857.0,406.0 2857.8,403.0 2859.5,400.4 2860.1,397.5 2860.4,394.4 2861.2,391.7 2863.3,389.3 2864.0,386.5 2865.0,383.8 2865.7,381.1 2866.7,378.3 2867.4,375.5 2868.0,372.5 2869.1,369.7 2870.5,367.0 2873.5,365.2 2874.6,362.4 2875.4,359.5 2876.5,356.7 2877.0,359.7 2876.9,362.8 2877.5,365.9 2877.4,369.0 2877.8,372.1 2878.2,375.2 2878.0,378.3 2878.6,381.4 2878.8,384.5 2879.0,387.6 2879.4,390.6 2879.4,393.6 2880.4,396.6 2880.6,399.5 2881.3,402.4 2880.9,405.5 2881.6,408.3 2881.7,411.3 2882.7,414.1 2883.1,417.1 2883.4,420.0 2884.0,422.9 2884.5,425.8 2886.8,423.7 2888.2,421.0 2889.6,418.2 2891.1,415.8 2890.5,412.3 2891.6,409.5 2893.2,406.8 2893.8,403.9 2894.5,401.0 2894.6,397.9 2895.7,395.1 2897.5,392.4 2897.5,389.4 2898.3,386.2 2899.9,383.7 2902.5,381.8 2903.6,378.7 2904.6,375.5 2907.4,373.5 2908.2,370.9 2909.6,368.3 2909.5,365.1 2910.7,362.4 2912.3,359.9 2914.1,357.4 2916.3,355.1 2917.5,352.4 2918.4,349.6 2918.4,346.9 2918.3,349.5 2918.9,352.4 2919.3,355.3 2920.1,358.2 2920.6,361.1 2920.5,364.1 2921.5,367.0 2922.0,369.9 2922.3,372.9 2922.5,375.8 2923.2,378.8 2923.6,381.7 2923.8,384.4 2924.6,381.8 2926.3,379.3 2930.2,378.2 2929.5,374.4 2931.1,372.4 2931.4,368.9 2932.5,366.1 2933.2,363.2 2934.3,360.4 2934.7,357.3 2934.9,354.3 2935.7,351.4 2936.6,348.6 2937.6,345.3 2938.0,348.7 2938.1,351.6 2938.6,354.6 2938.9,357.5 2938.8,360.5 2939.3,363.5 2939.5,366.4 2939.7,369.4 2940.0,372.3 2940.0,375.3 2940.3,378.3 2940.2,381.3 2940.7,384.2 2941.0,387.2 2941.3,390.0 2941.5,393.2 2943.0,396.1 2943.6,399.1 2944.0,402.2 2943.2,405.5 2944.9,409.2 2947.8,405.9 2947.5,402.4 2947.1,398.9 2949.2,396.2 2950.8,393.4 2951.1,390.2 2953.1,387.7 2954.3,384.9 2953.0,381.5 2954.0,378.7 2955.0,376.0 2955.8,373.2 2956.7,370.4 2957.7,367.6 2958.4,364.8 2960.9,362.4 2960.2,359.5 2962.8,359.1 2964.9,361.0 2967.5,361.4 2967.7,358.1 2968.3,355.3 2968.9,352.4 2969.0,349.5 2969.9,346.7 2971.6,344.2 2971.7,341.2 2972.7,338.5 2973.5,335.7 2974.1,332.9 2975.3,330.2 2976.0,327.4 2976.6,324.9 2978.8,322.3 2980.0,319.3 2983.0,317.6 2984.3,314.8 2985.7,312.1 2986.8,308.9 2987.2,305.8 2987.6,302.6 2989.4,299.9 2989.5,296.6 2990.3,293.6 2991.8,290.8 2992.8,287.8 2993.0,284.8 2996.0,283.3 2996.8,280.2 2999.8,278.9 3000.2,276.2 3002.7,273.8 3004.4,271.4 3006.4,269.6 3007.0,272.3 3006.9,275.4 3007.1,278.4 3007.1,281.5 3007.4,284.6 3007.8,287.6 3008.1,290.6 3008.7,293.6 3008.7,296.7 3009.2,299.7 3009.3,302.4 3009.3,305.9 3009.6,308.9 3011.2,311.6 3012.0,314.5 3011.6,317.7 3014.0,320.2 3013.7,323.3 3015.1,326.1 3015.5,329.1 3016.6,332.0 3016.5,334.9 3016.9,337.8 3017.6,340.6 3017.7,343.6 3018.1,346.5 3018.3,349.4 3019.3,352.3 3019.3,355.2 3019.8,358.1 3020.2,361.0 3021.0,363.9 3020.5,366.9 3021.2,369.8 3021.5,372.7 3022.1,375.3 3023.7,373.0 3025.7,370.7 3027.5,368.3 3027.7,365.1 3029.1,362.2 3029.7,359.1 3031.1,356.3 3031.0,353.0 3032.3,350.2 3032.8,353.1 3033.2,356.0 3033.2,359.1 3033.4,362.1 3033.7,365.0 3034.2,368.0 3034.5,371.0 3035.0,374.0 3034.9,377.0 3035.7,379.9 3036.1,382.9 3036.4,385.9 3036.3,388.9 3036.6,391.6 3037.6,389.1 3037.3,385.9 3037.7,382.9 3039.4,380.2 3040.4,377.4 3040.8,374.4 3042.4,371.7 3042.4,368.6 3042.9,365.7 3043.9,362.7 3044.1,365.7 3045.9,368.0 3045.8,371.0 3046.9,373.6 3049.4,376.1 3052.0,375.9 3054.5,375.6 3056.6,374.1 3056.3,370.6 3058.4,368.4 3059.6,365.9 3059.9,363.0 3060.3,360.1 3062.5,358.0 3063.9,355.2 3066.5,357.2 3069.2,358.6 3071.2,360.9 3072.2,363.9 3072.4,366.9 3073.0,369.9 3073.8,372.8 3074.3,375.8 3074.7,378.8 3076.5,381.5 3075.9,383.8 3076.7,381.6 3078.3,378.8 3079.8,376.0 3081.1,373.1 3082.1,370.0 3083.6,367.3 3084.4,364.3 3085.0,361.3 3085.4,358.2 3085.8,355.1 3086.6,352.1 3088.0,349.3 3088.8,346.3 3090.1,343.4 3090.7,340.4 3091.2,337.3 3094.6,336.9 3097.0,334.2 3100.3,333.2 3100.9,330.9 3101.3,328.0 3101.4,325.1 3101.8,322.2 3103.1,319.5 3104.5,316.8 3105.4,314.1 3105.4,311.1 3105.8,308.3 3107.1,305.5 3110.4,304.2 3111.5,301.2 3112.9,298.5 3114.9,296.4 3114.9,299.2 3115.2,302.2 3115.3,305.2 3115.8,308.2 3115.8,311.2 3116.0,314.2 3116.2,317.2 3116.4,320.2 3116.6,323.2 3116.8,326.2 3117.4,329.1 3117.5,332.1 3117.4,335.1 3117.8,338.1 3118.1,341.1 3117.8,344.1 3118.2,347.1 3118.5,350.2 3118.6,353.0 3118.6,355.9 3118.9,358.7 3119.2,361.6 3119.3,364.5 3119.2,367.4 3119.7,370.2 3119.8,373.1 3119.9,376.0 3120.0,378.9 3120.1,381.8 3120.3,384.8 3120.3,381.6 3121.5,378.8 3122.5,376.0 3123.4,373.2 3124.8,370.5 3125.0,367.5 3125.8,364.5 3128.4,363.5 3131.2,362.8 3131.6,365.9 3133.1,368.8 3133.8,371.8 3133.9,374.9 3134.0,378.1 3134.9,381.1 3136.5,378.4 3138.8,376.2 3139.4,373.1 3140.3,370.3 3140.8,373.2 3141.0,376.4 3141.7,379.4 3142.5,382.5 3142.8,385.6 3143.4,388.7 3144.3,391.7 3144.4,394.9 3144.4,398.1 3145.8,401.2 3146.1,398.1 3147.3,395.5 3148.3,392.8 3149.4,390.1 3149.8,393.2 3150.1,396.3 3150.2,399.4 3150.5,402.5 3151.7,405.5 3151.6,408.7 3152.0,411.8 3152.2,414.9 3152.6,418.0 3153.1,421.2 3154.4,418.5 3155.5,415.7 3157.2,413.3 3159.3,411.1 3160.3,408.4 3161.0,405.5 3162.3,402.8 3163.0,400.0 3162.7,397.0 3163.2,394.1 3164.1,391.4 3165.2,388.7 3166.2,386.0 3165.6,382.8 3167.4,380.3 3167.6,377.5 3169.2,375.1 3171.0,372.8 3172.1,370.2 3173.1,367.7 3173.2,370.5 3173.7,373.4 3175.5,375.9 3176.7,378.6 3177.3,381.5 3177.3,384.5 3178.0,387.3 3178.5,390.0"/>
<polyline fill="none" stroke-width="9" stroke-linejoin="round" stroke-linecap="round" stroke="#800080" points="369.8,770.4 373.2,768.8 373.6,765.2 375.7,762.7 377.5,760.0 379.8,757.6 381.1,754.4 382.2,752.0 383.5,749.6 384.6,747.0 386.2,744.7 387.9,742.5 389.9,740.3 392.3,738.9 395.2,738.7 396.2,736.1 395.8,732.6 399.5,731.5 400.6,728.8 402.2,726.2 402.8,729.3 403.4,732.2 404.1,735.1 405.2,737.8 405.5,740.7 406.9,743.4 406.3,746.6 407.5,749.2 409.4,752.4 411.0,755.6 412.3,753.2 413.2,750.6 414.8,748.2 413.3,744.5 416.0,742.6 418.0,740.3 421.5,739.4 425.1,739.7 427.4,740.9 428.9,743.0 430.3,744.5 431.6,742.5 432.1,739.4 433.3,736.7 437.2,735.6 438.4,732.9 439.1,730.1 441.9,729.7 444.4,728.1 447.2,728.4 448.3,731.7 450.9,734.0 450.6,737.2 452.7,739.7 452.7,742.8 453.2,745.4 454.2,748.8 455.9,751.1 458.5,752.9 460.7,749.8 463.8,748.3 467.3,747.3 471.0,747.4 474.3,749.1 476.8,748.0 478.7,745.8 480.6,743.7 483.1,742.3 484.6,744.6 485.2,747.4 487.1,749.6 487.2,752.6 489.4,754.8 490.2,751.6 492.2,749.2 493.4,746.4 495.4,743.7 497.8,741.4 500.7,739.5 503.6,741.5 504.1,744.8 505.3,747.7 506.6,750.6 507.7,753.6 511.1,752.2 514.8,752.7 515.9,750.0 517.5,747.4 518.7,744.7 520.0,742.0 521.8,739.2 525.3,740.1 528.8,741.0 531.7,739.0 533.8,736.7 535.9,734.4 537.6,731.7 540.1,733.8 542.9,735.8 544.6,737.8 544.7,741.0 545.3,744.0 546.8,746.6 548.2,749.6 551.2,748.5 554.0,747.4 555.2,744.8 557.8,746.2 560.9,745.9 564.0,746.1 566.8,747.8 569.7,749.5 572.8,751.0 574.5,748.9 576.5,746.9 576.9,744.1 578.1,741.7 582.3,741.8 583.3,744.4 583.8,747.3 585.1,750.0 587.3,752.3 588.6,755.0 588.6,758.0 588.7,761.1 588.8,764.0 589.1,766.9 589.4,769.8 589.8,772.8 589.7,775.7 590.1,778.6 590.1,781.6 590.4,784.4 590.5,787.5 590.6,790.5 590.7,793.4 590.8,796.4 590.8,799.4 590.8,802.4 590.9,805.3 591.1,808.3 591.2,811.3 591.3,814.3 591.3,817.2 591.4,820.2 591.4,823.3 591.8,820.2 591.9,817.1 592.3,814.1 593.1,811.2 593.3,808.1 593.6,805.1 593.9,802.2 595.2,799.3 595.9,796.3 597.3,793.5 598.2,790.6 596.8,787.0 599.2,784.0 602.3,783.0 601.7,779.4 603.4,777.1 605.5,775.1 606.2,772.4 608.4,770.0 608.0,766.7 608.7,763.8 610.5,761.4 611.4,758.7 613.3,756.0 614.8,753.6 616.3,750.9 617.5,748.0 618.6,745.0 620.3,742.3 622.1,744.4 624.3,746.3 625.4,749.0 627.3,751.2 630.3,749.4 633.5,748.1 636.1,745.7 637.4,743.3 638.5,740.7 641.1,738.9 642.3,736.3 643.2,734.1 646.2,732.1 646.8,728.9 648.4,726.3 650.9,728.4 653.7,730.0 655.4,727.7 656.6,725.1 659.1,723.5 660.7,721.3 662.7,723.2 664.9,725.0 667.7,726.0 669.5,727.6 671.2,725.7 673.3,723.5 675.4,721.5 678.4,720.2 680.1,717.8 681.4,720.6 684.0,722.2 685.9,724.5 688.1,726.5 690.6,728.5 692.9,726.0 696.2,725.6 698.7,723.7 701.2,721.7 703.6,724.2 706.2,726.2 708.4,728.8 711.7,730.4 713.7,727.9 713.9,724.7 717.2,723.5 719.1,721.5 719.5,718.9 721.1,721.5 722.8,724.4 725.8,726.5 729.2,727.9 732.8,728.4 734.7,725.2 737.6,723.1 739.9,720.6 739.7,723.9 740.9,726.8 743.9,729.1 745.7,731.7 745.2,734.9 747.3,738.0 749.4,740.7 750.4,743.5 752.6,742.5 754.7,740.8 757.5,740.2 760.5,740.1 763.4,739.2 766.3,738.0 767.3,735.0 769.4,732.8 772.5,731.2 773.3,728.0 776.1,726.2 776.8,723.1 779.2,724.6 781.2,726.9 783.8,728.2 785.0,730.9 787.1,733.1 787.2,736.2 787.7,739.2 789.9,741.3 790.9,744.0 793.0,741.5 794.4,738.2 797.9,737.2 800.1,735.4 802.0,733.5 803.6,731.3 805.0,729.1 804.8,731.9 805.5,734.8 805.6,737.7 805.8,740.6 806.0,743.5 806.0,746.5 806.4,749.4 806.7,752.3 806.9,755.2 806.8,758.1 806.9,761.1 807.1,764.0 807.4,767.5 807.5,769.9 807.5,772.9 807.5,775.9 807.6,778.9 807.7,781.9 807.7,784.9 807.8,787.8 807.9,790.8 807.9,793.8 807.9,796.8 808.0,799.8 808.1,802.8 808.1,805.8 808.2,808.8 808.2,811.8 808.3,814.8 808.4,817.7 808.4,820.7 808.4,823.7 808.5,826.7 810.2,828.9 812.0,830.8 811.4,827.7 813.4,825.4 814.2,822.7 816.5,820.6 817.3,817.9 818.6,815.1 818.9,811.7 821.0,809.3 821.2,805.8 823.6,803.5 826.0,801.2 825.9,797.6 827.8,795.1 830.5,793.0 831.5,789.9 833.8,787.6 834.9,784.7 835.9,781.6 835.9,778.3 837.4,775.7 838.5,772.8 842.3,771.2 842.9,768.2 843.7,765.2 844.0,762.0 847.1,760.0 846.9,756.6 849.5,754.5 850.9,751.8 851.5,748.7 852.4,745.7 853.6,743.0 854.0,739.9 856.4,737.6 858.7,735.3 859.7,732.4 861.0,729.7 861.1,726.4 862.6,723.8 863.1,720.6 864.5,717.9 866.6,715.6 869.3,713.5 869.4,710.2 870.0,707.3 870.1,703.8 872.3,701.5 873.1,698.5 873.9,695.5 874.9,692.7 877.2,690.4 878.5,687.6 880.4,685.2 881.3,682.2 882.6,679.5 884.8,677.2 885.9,674.3 887.1,671.5 887.6,669.0 889.2,665.9 889.4,662.7 890.4,659.9 891.0,656.9 893.3,654.7 894.3,651.9 896.1,649.4 897.6,646.8 898.2,643.8 899.5,641.2 901.5,638.8 902.2,635.9 903.9,633.4 904.5,630.4 905.0,627.4 906.5,624.8 906.7,621.6 909.4,619.6 910.2,616.8 912.6,614.6 912.5,611.3 914.2,608.8 915.8,606.2 916.7,603.4 918.3,600.9 919.3,598.0 919.7,595.1 920.6,592.2 922.3,589.8 923.5,587.2 925.5,584.9 926.5,582.1 927.5,579.4 928.7,576.7 929.1,573.6 931.1,571.4 933.2,569.1 933.5,566.0 935.2,563.6 936.9,561.2 938.0,558.2 940.0,555.7 941.3,552.8 944.6,551.1 946.0,548.3 947.4,545.4 947.7,541.9 949.8,539.5 950.9,536.6 953.2,534.7 954.8,532.2 957.0,530.4 958.7,527.9 961.1,526.2 963.6,524.2 963.2,520.7 964.0,517.8 966.4,515.7 968.2,513.3 968.9,510.3 970.7,507.9 971.7,505.3 973.5,502.9 975.5,500.8 975.8,497.7 977.7,495.5 978.7,493.0 981.0,490.2 984.0,488.2 986.3,489.8 988.2,491.6 988.5,494.5 989.1,497.5 988.8,500.5 989.1,503.5 989.6,506.5 990.1,509.4 990.7,512.4 990.6,515.4 991.1,518.3 990.8,521.4 991.5,524.3 991.6,527.3 992.4,530.2 992.1,532.7 992.3,536.3 993.6,539.1 994.6,541.9 995.3,544.9 995.5,547.9 996.3,551.1 997.1,548.2 996.6,545.1 998.7,542.9 1000.4,540.5 1002.4,538.2 1001.6,535.5 1004.0,534.5 1006.1,533.2 1006.5,536.4 1006.6,539.7 1008.6,542.4 1009.1,545.6 1010.4,548.5 1011.1,551.6 1011.6,554.7 1012.1,557.9 1014.4,555.6 1017.4,554.1 1019.8,554.3 1021.6,552.9 1021.8,555.5 1022.6,558.2 1023.6,560.9 1024.0,563.7 1024.5,566.5 1025.4,569.2 1026.2,572.2 1026.5,574.8 1026.7,577.7 1027.3,580.6 1027.6,583.5 1028.4,586.3 1028.9,589.2 1029.5,592.0 1029.2,595.0 1029.7,597.9 1030.2,600.7 1030.7,603.8 1031.7,606.3 1032.0,609.1 1032.8,611.8 1034.1,614.4 1034.2,617.3 1034.9,620.1 1035.0,623.1 1037.8,623.7 1040.2,625.2 1042.5,623.8 1043.9,621.5 1045.5,619.2 1047.3,622.4 1049.5,625.0 1050.8,628.5 1053.1,630.8 1055.0,633.7 1056.1,636.2 1057.0,634.2 1060.5,633.3 1061.5,630.6 1063.1,628.1 1066.6,628.7 1070.1,628.9 1073.7,629.4 1077.2,630.5 1078.2,633.7 1080.6,635.9 1084.2,637.8 1086.4,634.5 1087.8,631.2 1091.2,629.8 1093.5,628.6 1095.5,627.0 1097.6,625.4 1098.0,628.6 1098.8,631.7 1099.8,634.8 1100.5,637.9 1101.7,640.9 1102.5,644.0 1105.9,644.2 1108.8,642.5 1112.2,641.8 1114.1,639.6 1115.9,637.3 1118.8,636.1 1120.5,633.4 1122.9,631.7 1125.3,629.2 1128.0,627.0 1130.6,624.8 1130.4,627.9 1132.4,630.0 1134.9,631.8 1136.4,634.2 1137.0,636.4 1139.9,636.9 1142.9,637.0 1145.8,636.2 1146.8,638.5 1148.1,640.9 1149.6,643.2 1150.9,645.6 1152.8,647.8 1156.5,647.8 1159.8,649.4 1162.4,647.9 1162.6,644.5 1164.8,642.7 1166.1,640.2 1168.6,638.7 1170.6,636.4 1173.7,635.1 1176.0,633.0 1177.4,630.1 1180.0,632.1 1182.5,634.3 1184.5,637.0 1187.6,638.8 1189.7,641.5 1190.7,638.8 1193.6,637.9 1195.4,635.9 1196.8,633.3 1197.4,630.4 1199.2,627.8 1200.7,625.1 1199.9,621.4 1203.1,619.0 1206.1,620.3 1209.1,619.5 1211.0,621.9 1210.5,625.2 1211.7,627.8 1212.9,630.6 1213.6,633.4 1215.8,635.7 1216.1,638.4 1218.8,640.8 1220.6,643.4 1221.9,646.4 1223.2,648.9 1225.5,647.2 1226.7,644.4 1228.3,641.8 1228.1,638.3 1230.1,635.9 1231.9,633.4 1233.2,630.7 1234.8,628.1 1235.2,625.0 1236.2,622.1 1238.7,619.9 1241.2,617.7 1240.7,615.1 1242.4,611.5 1243.1,608.3 1244.9,605.7 1246.7,603.1 1247.8,600.6 1249.4,602.8 1251.7,605.1 1252.5,608.3 1254.8,610.6 1256.0,613.6 1256.2,616.8 1257.1,619.9 1258.4,622.8 1258.9,625.9 1259.6,629.0 1260.3,632.1 1260.8,635.0 1262.1,632.7 1262.7,629.9 1263.5,627.2 1265.6,624.9 1265.6,621.9 1267.1,619.5 1268.7,616.9 1269.4,613.9 1270.8,611.3 1270.8,608.1 1272.8,605.7 1273.4,602.7 1274.5,599.9 1276.4,597.5 1277.7,594.6 1278.9,592.1 1280.5,589.5 1282.3,587.0 1283.3,584.2 1284.9,581.6 1285.1,578.4 1286.3,575.6 1288.2,573.2 1290.1,570.8 1291.0,567.9 1291.7,564.9 1292.4,561.7 1293.7,558.8 1296.5,556.7 1296.8,553.4 1298.5,550.7 1300.5,548.2 1302.0,545.4 1302.6,542.2 1305.6,540.2 1305.8,537.1 1307.6,534.1 1309.3,531.5 1310.0,528.3 1311.9,525.7 1312.9,522.7 1313.7,519.6 1314.8,516.7 1317.1,514.3 1318.5,511.5 1319.9,508.6 1321.1,505.9 1322.8,503.4 1325.0,501.3 1327.0,499.0 1327.8,496.0 1329.5,493.5 1329.7,490.1 1331.3,487.6 1334.0,485.3 1334.7,482.7 1337.3,480.8 1337.4,477.4 1340.1,475.6 1342.2,473.3 1344.9,471.5 1345.0,468.1 1346.8,465.7 1348.0,463.3 1350.0,460.6 1349.8,457.3 1350.9,454.6 1351.4,451.7 1353.2,449.3 1354.9,446.8 1356.7,444.4 1357.4,441.5 1358.6,438.9 1359.8,436.2 1359.6,433.0 1361.4,430.6 1362.1,428.0 1363.9,425.1 1365.0,422.1 1367.3,419.8 1369.2,417.2 1371.3,414.8 1371.7,411.2 1373.9,408.9 1376.2,406.9 1378.7,404.5 1379.5,401.3 1380.7,398.3 1382.2,395.6 1383.3,392.5 1385.0,389.9 1386.9,387.4 1387.8,384.3 1390.2,381.8 1392.4,379.6 1393.7,376.5 1396.1,374.2 1397.6,371.3 1400.8,369.4 1402.0,367.2 1402.9,364.5 1404.5,362.1 1406.2,359.8 1407.6,357.4 1407.6,354.3 1409.6,351.8 1411.3,348.6 1414.9,346.1 1415.3,349.5 1415.8,352.2 1416.1,355.0 1417.7,357.8 1417.8,360.4 1418.0,363.5 1418.2,366.5 1418.2,369.6 1418.7,372.6 1418.7,375.7 1418.9,378.7 1418.9,381.8 1419.0,384.8 1419.3,387.9 1419.3,390.9 1419.5,394.0 1419.9,397.0 1419.8,400.1 1420.1,403.1 1420.3,406.2 1420.3,409.2 1420.5,412.3 1420.6,415.3 1420.7,418.4 1420.9,421.5 1420.8,424.5 1420.8,427.6 1421.0,430.6 1421.1,433.7 1421.3,436.8 1421.4,439.8 1421.5,442.9 1421.7,445.9 1421.8,449.0 1421.9,452.0 1421.9,455.1 1422.0,458.2 1422.2,461.2 1422.2,464.3 1422.3,467.3 1422.3,470.4 1422.6,473.7 1422.8,476.5 1423.1,479.5 1423.2,482.6 1423.4,485.6 1423.5,488.7 1423.5,491.8 1423.7,494.8 1424.1,497.8 1424.2,500.9 1424.5,503.9 1424.7,507.0 1424.9,510.0 1425.0,513.1 1425.1,516.1 1425.4,519.5 1425.7,522.1 1426.4,524.9 1426.6,527.8 1427.0,530.7 1427.4,533.6 1428.1,536.4 1428.2,539.3 1429.1,542.1 1428.7,545.1 1429.0,548.0 1429.6,551.2 1430.4,553.7 1430.7,556.7 1430.7,559.7 1431.7,562.6 1432.7,565.4 1433.0,568.4 1434.3,571.2 1433.8,574.3 1434.2,577.3 1435.4,580.1 1435.3,583.1 1436.0,586.3 1438.3,588.0 1441.2,589.1 1441.0,591.9 1442.8,594.2 1443.3,597.1 1445.2,599.3 1446.5,601.7 1449.0,603.4 1451.7,604.7 1453.5,607.0 1456.4,607.4 1458.8,608.8 1460.0,611.6 1460.3,614.7 1461.2,617.6 1464.1,619.7 1467.6,619.5 1471.1,619.4 1474.5,618.1 1478.2,618.0 1479.8,620.3 1482.8,621.3 1485.2,622.7 1487.5,620.7 1490.4,619.3 1493.7,618.6 1495.8,615.9 1497.3,618.5 1500.6,618.8 1502.3,621.2 1504.5,622.7 1506.1,625.4 1508.7,627.4 1508.2,630.8 1509.2,633.5 1511.1,635.8 1511.6,638.1 1512.7,636.2 1514.4,634.0 1515.0,631.1 1517.5,629.4 1518.8,627.0 1520.4,624.4 1521.2,621.8 1521.6,618.6 1524.8,617.1 1527.0,615.0 1528.0,612.2 1528.6,609.2 1530.9,606.7 1534.0,607.4 1537.1,607.9 1539.9,609.4 1542.9,610.0 1543.4,613.2 1544.0,616.2 1546.2,618.6 1547.7,621.3 1548.1,623.5 1548.7,621.4 1550.3,618.8 1550.5,615.8 1552.7,613.5 1552.9,610.4 1553.2,607.4 1555.2,604.9 1556.7,602.3 1556.3,598.8 1558.1,596.3 1559.0,593.4 1560.9,590.9 1562.7,588.4 1564.0,585.5 1565.5,583.3 1567.5,581.3 1568.3,578.5 1569.0,575.7 1570.4,573.3 1572.8,571.5 1575.4,569.8 1576.0,566.8 1577.7,564.5 1578.5,561.6 1579.9,559.1 1582.4,557.3 1583.3,554.5 1585.1,552.2 1586.3,549.5 1588.2,547.1 1589.0,544.2 1589.8,541.3 1590.7,538.4 1591.7,535.6 1593.8,533.3 1596.1,531.0 1595.6,527.6 1597.9,525.1 1598.3,521.7 1599.7,518.8 1601.4,516.1 1603.4,513.3 1604.1,516.4 1604.7,519.3 1604.3,522.4 1605.8,525.2 1606.3,528.1 1606.8,531.0 1607.0,534.0 1607.9,536.9 1607.9,539.6 1608.6,542.9 1608.3,546.1 1609.2,549.1 1610.2,552.1 1610.8,555.1 1611.5,558.6 1612.8,555.5 1613.4,552.5 1614.4,549.7 1615.7,547.0 1617.8,544.6 1618.5,541.5 1619.0,538.8 1620.2,536.1 1620.7,533.2 1622.6,530.8 1623.1,528.0 1624.5,525.4 1625.6,522.8 1627.3,520.3 1628.7,517.7 1627.9,514.4 1629.0,511.4 1629.4,508.4 1631.7,506.0 1633.4,503.3 1634.4,500.4 1635.6,497.4 1638.0,495.1 1639.2,492.2 1639.6,489.1 1641.4,486.5 1641.2,483.2 1643.8,481.2 1646.1,479.0 1646.3,475.9 1646.8,473.0 1649.0,470.8 1649.3,467.7 1650.7,465.1 1651.9,462.6 1652.9,459.7 1654.5,457.0 1653.9,453.6 1654.1,450.5 1657.1,448.4 1658.6,445.7 1659.5,442.9 1660.1,439.9 1661.4,437.2 1662.5,434.4 1663.6,431.7 1665.9,429.9 1667.3,427.4 1669.5,425.9 1672.3,424.8 1674.8,423.3 1674.8,426.1 1674.9,429.0 1675.0,432.0 1675.3,435.0 1675.4,438.0 1675.5,440.9 1675.7,443.9 1675.8,446.9 1676.0,449.8 1676.1,452.8 1676.1,455.8 1676.5,458.7 1676.7,461.7 1676.9,464.7 1677.0,467.6 1676.9,470.6 1676.9,473.6 1677.2,477.0 1677.3,479.6 1677.3,482.7 1677.5,485.7 1677.9,488.8 1677.9,491.9 1677.8,494.9 1678.1,498.0 1678.3,501.0 1678.4,504.1 1678.3,507.2 1678.6,510.2 1678.7,513.3 1678.7,516.3 1678.9,519.4 1679.0,522.4 1679.3,525.5 1679.4,528.6 1679.4,531.6 1679.7,534.7 1679.6,537.7 1679.7,540.8 1679.7,543.9 1680.0,547.2 1680.3,549.9 1680.4,552.9 1680.4,556.0 1680.6,559.0 1680.8,562.0 1681.0,565.0 1681.1,568.0 1681.6,571.0 1681.8,574.0 1681.6,577.1 1681.8,580.1 1681.9,583.1 1682.4,586.1 1682.6,589.1 1682.7,592.1 1682.8,595.2 1682.8,598.2 1683.1,601.2 1683.2,604.2 1683.5,607.2 1683.6,610.1 1683.7,613.1 1683.9,616.0 1684.0,618.9 1684.6,621.7 1684.6,624.6 1684.8,627.5 1685.2,630.4 1685.2,633.3 1685.6,636.1 1685.9,639.0 1686.0,641.9 1688.2,639.2 1688.3,635.7 1690.5,633.0 1690.6,629.9 1691.3,626.7 1693.0,624.2 1693.8,621.3 1694.2,618.4 1695.4,615.7 1697.4,613.3 1697.6,610.5 1698.8,607.4 1700.6,604.8 1700.5,601.4 1702.8,599.1 1704.8,596.6 1704.5,593.1 1705.4,590.1 1706.6,587.3 1708.3,584.7 1709.9,581.8 1710.9,579.3 1711.4,576.4 1713.2,574.0 1714.7,571.4 1715.8,568.7 1716.2,565.8 1718.0,563.3 1717.7,560.1 1719.0,557.4 1720.5,554.9 1722.6,552.6 1722.9,549.6 1724.0,547.0 1726.4,544.8 1728.0,542.4 1729.2,539.7 1728.7,536.4 1730.0,533.8 1731.4,531.3 1732.8,528.7 1733.9,526.0 1734.6,523.2 1735.8,520.6 1736.0,517.5 1738.1,515.2 1739.4,512.6 1739.9,509.7 1742.5,507.6 1742.8,504.6 1743.2,501.6 1744.9,499.1 1746.1,496.5 1747.3,493.8 1747.9,491.0 1749.5,488.4 1750.2,485.6 1752.0,483.2 1752.1,480.4 1752.9,477.3 1753.7,474.5 1755.8,472.2 1757.5,469.8 1757.2,466.6 1759.4,464.3 1760.4,461.6 1761.7,459.1 1762.2,456.1 1763.0,453.3 1764.4,450.8 1766.2,448.1 1767.0,445.6 1768.7,443.1 1770.0,440.5 1772.5,438.5 1772.3,435.1 1773.4,432.4 1775.0,429.9 1776.7,427.5 1777.0,424.4 1777.7,421.5 1779.9,419.3 1781.5,416.9 1783.0,414.4 1783.8,411.8 1784.3,408.5 1787.0,406.6 1787.9,403.8 1790.6,401.9 1790.7,398.7 1790.6,395.4 1792.8,393.3 1794.6,390.9 1796.2,388.5 1797.5,385.9 1798.4,383.1 1798.9,380.0 1801.4,377.7 1802.3,375.1 1803.4,372.3 1805.0,369.7 1806.2,366.9 1806.3,363.6 1808.0,361.1 1809.3,358.3 1811.0,355.8 1813.7,353.6 1814.2,350.6 1815.7,347.9 1815.2,344.3 1818.2,342.4 1819.0,339.4 1820.8,336.9 1821.3,333.8 1823.2,331.4 1825.3,329.1 1826.4,326.3 1828.0,323.7 1828.8,320.7 1830.1,318.0 1832.2,315.6 1833.5,312.9 1835.2,310.4 1836.6,307.6 1837.8,304.9 1840.1,302.7 1842.3,300.4 1843.0,297.2 1844.1,294.3 1846.0,291.9 1848.2,289.6 1849.6,286.8 1851.6,284.5 1852.4,281.5 1853.3,278.4 1853.9,275.2 1856.9,273.3 1858.4,270.6 1859.2,267.6 1861.2,265.1 1861.8,262.0 1864.4,259.9 1866.2,257.3 1867.8,254.7 1868.2,251.6 1870.7,249.5 1872.1,246.9 1874.0,244.7 1873.6,241.0 1876.1,239.1 1878.2,236.9 1878.8,234.1 1881.7,232.4 1883.7,229.9 1885.8,227.9 1886.1,230.5 1886.5,233.5 1887.2,236.5 1886.8,239.5 1887.6,242.5 1888.2,245.4 1888.6,248.4 1888.6,251.3 1888.7,254.5 1888.8,257.5 1888.8,260.6 1888.9,263.6 1889.3,266.6 1889.3,269.7 1889.4,272.7 1889.5,275.8 1889.6,278.8 1889.6,281.8 1889.8,284.9 1889.8,287.9 1890.1,290.9 1890.1,294.0 1890.2,297.0 1890.4,300.1 1890.6,303.1 1890.7,306.1 1890.7,309.2 1890.7,312.2 1891.1,315.2 1891.1,318.1 1891.3,321.3 1891.3,324.3 1891.4,327.4 1891.6,330.4 1891.6,333.4 1891.8,336.5 1891.8,339.5 1892.0,342.5 1892.2,345.6 1892.3,348.6 1892.4,351.6 1892.4,354.7 1892.7,357.7 1892.8,360.7 1893.0,363.8 1893.1,366.8 1893.3,369.8 1893.3,372.9 1893.4,375.9 1893.5,378.9 1893.7,382.0 1893.7,385.0 1893.8,388.0 1893.9,391.1 1894.0,394.1 1894.2,397.1 1894.3,400.2 1894.4,403.2 1894.6,406.1 1894.8,409.3 1895.0,412.3 1895.0,415.4 1895.5,418.4 1895.4,421.5 1895.5,424.6 1895.7,427.6 1895.8,430.7 1896.1,433.7 1896.2,436.8 1896.4,439.9 1896.5,442.9 1896.5,446.0 1896.7,449.0 1896.8,452.1 1897.0,455.2 1897.2,458.2 1897.4,461.3 1897.7,464.3 1897.8,467.4 1897.8,470.4 1897.8,473.5 1898.1,477.0 1898.2,479.7 1898.6,482.7 1898.9,485.8 1899.0,488.9 1899.1,492.0 1899.6,495.0 1899.5,498.1 1899.9,501.2 1900.1,504.3 1900.4,507.3 1900.4,510.4 1900.6,513.5 1900.8,516.6 1901.3,519.6 1901.4,522.7 1901.6,526.3 1901.9,528.9 1902.3,532.0 1902.9,535.1 1903.5,538.1 1903.3,541.3 1903.6,544.4 1904.7,547.4 1905.2,550.5 1905.0,553.9 1906.8,556.6 1908.4,559.3 1909.1,562.5 1910.2,565.4 1912.2,568.0 1912.7,571.1 1912.5,574.2 1913.1,577.2 1913.4,580.3 1913.9,583.4 1913.7,586.5 1914.5,589.5 1914.7,592.6 1917.1,593.2 1919.2,594.3 1919.8,591.2 1921.3,588.4 1923.1,585.8 1924.9,583.2 1926.3,579.9 1927.9,577.9 1929.2,575.3 1931.4,573.2 1933.0,570.8 1935.1,568.6 1936.6,571.1 1937.4,573.8 1938.9,576.2 1940.3,578.2 1939.6,575.0 1940.9,572.0 1943.1,569.4 1943.2,566.1 1944.3,563.2 1947.3,560.8 1947.4,557.6 1948.5,554.8 1950.0,552.2 1951.5,549.7 1952.0,546.7 1953.3,544.1 1955.3,546.6 1955.0,549.7 1955.4,552.6 1957.3,555.1 1956.9,558.2 1957.9,561.5 1960.2,563.4 1960.2,566.4 1959.8,569.7 1961.4,572.6 1962.2,569.2 1963.0,566.1 1964.2,563.2 1966.0,560.5 1966.7,557.4 1966.8,554.3 1968.8,551.9 1969.6,549.0 1972.4,546.9 1972.2,543.6 1973.8,541.1 1974.8,538.3 1975.0,535.1 1977.3,532.5 1976.7,529.5 1979.0,527.0 1979.4,524.0 1980.1,521.0 1980.7,518.0 1983.5,515.8 1984.5,512.9 1984.4,509.6 1985.6,506.9 1987.2,504.2 1987.8,501.4 1989.1,498.5 1988.8,495.1 1992.1,493.3 1992.6,490.3 1994.7,487.9 1994.3,484.5 1996.4,482.2 1998.2,479.7 1998.4,477.1 1998.8,473.6 1999.9,470.8 2002.1,468.4 2001.8,465.2 2003.4,462.6 2004.0,459.7 2003.9,456.5 2006.2,454.2 2007.6,451.5 2008.4,448.7 2009.1,445.7 2010.4,443.1 2009.5,439.6 2011.1,437.1 2012.4,434.7 2014.0,431.9 2015.5,429.3 2015.8,426.3 2017.0,423.6 2017.1,420.5 2019.1,418.2 2020.2,415.5 2020.9,412.6 2022.1,410.0 2023.3,407.3 2024.5,404.7 2026.0,402.1 2026.5,399.5 2026.3,395.9 2028.5,393.4 2030.5,390.9 2030.2,387.6 2031.6,384.9 2034.6,382.7 2034.1,379.3 2035.9,376.7 2036.6,373.8 2036.4,370.4 2038.0,367.8 2038.1,364.6 2040.6,361.8 2042.1,359.6 2043.5,356.9 2044.5,354.1 2045.0,351.0 2046.8,348.5 2048.6,345.9 2049.6,343.1 2050.9,340.4 2051.7,337.4 2052.8,334.6 2053.0,331.4 2054.6,329.1 2055.1,325.9 2056.0,323.1 2057.2,320.4 2058.3,317.7 2060.8,315.6 2061.2,312.6 2062.1,309.8 2063.1,307.1 2064.3,304.5 2066.4,302.1 2067.9,299.6 2067.7,296.4 2068.7,294.1 2070.4,291.2 2071.3,288.4 2073.0,286.0 2073.4,283.0 2074.5,280.3 2075.4,277.5 2075.6,274.4 2076.3,271.6 2077.5,268.9 2078.6,266.2 2079.9,263.6 2081.1,261.0 2082.8,258.6 2084.2,255.4 2086.0,252.6 2087.1,249.4 2088.1,246.1 2088.7,243.5 2088.7,240.5 2089.2,237.8 2091.4,235.6 2092.4,233.0 2093.3,230.3 2095.2,227.9 2094.9,224.6 2096.5,222.0 2096.4,218.7 2098.1,216.2 2100.4,214.0 2100.5,210.8 2101.5,207.9 2103.9,205.4 2106.0,203.4 2107.0,200.6 2107.5,197.6 2109.0,195.0 2109.9,192.1 2110.7,189.2 2111.6,186.4 2113.4,183.9 2114.4,181.1 2116.4,179.1 2117.2,176.4 2118.9,174.4 2119.9,171.3 2122.1,168.8 2123.5,165.9 2123.7,162.5 2126.6,160.4 2127.1,157.1 2127.7,153.9 2128.0,150.6 2129.9,148.0 2131.4,145.2 2132.1,142.0 2133.0,139.0 2134.5,136.2 2136.4,133.1 2137.0,130.7 2138.1,128.1 2140.2,126.1 2139.7,122.7 2143.4,121.5 2143.8,118.5 2145.1,116.0 2145.5,113.1 2148.1,111.3 2148.9,108.6 2149.9,106.0 2150.7,103.2 2152.8,101.2 2153.9,98.7 2155.0,96.0 2157.7,94.3 2157.9,91.1 2160.3,89.3 2161.4,86.6 2162.6,83.8 2163.5,81.4 2165.3,79.2 2166.1,76.5 2167.6,74.1 2168.7,71.5 2170.3,69.2 2171.3,66.5 2174.2,64.5 2175.3,61.3 2177.6,58.9 2178.5,55.5 2180.1,52.7 2180.9,49.9 2182.8,47.8 2185.3,46.2 2186.3,43.6 2187.3,40.9 2188.8,43.2 2189.3,45.9 2190.7,48.1 2191.7,51.0 2191.7,53.5 2191.8,56.5 2191.9,59.5 2191.9,62.4 2192.2,65.4 2192.2,68.4 2192.3,71.3 2192.5,74.3 2192.5,77.3 2192.5,80.2 2192.5,83.2 2192.6,86.2 2192.7,89.1 2192.7,92.1 2192.9,95.1 2192.8,98.0 2192.9,101.0 2193.1,104.0 2193.2,106.9 2193.3,109.9 2193.3,112.9 2193.4,115.8 2193.4,118.8 2193.5,121.8 2193.6,124.7 2193.7,127.6 2193.8,130.7 2193.8,133.7 2193.8,136.7 2193.8,139.7 2193.8,142.7 2193.8,145.8 2193.9,148.8 2193.9,151.8 2193.9,154.8 2194.0,157.8 2193.9,160.8 2194.0,163.8 2194.0,166.8 2194.0,169.8 2194.0,172.8 2194.0,175.8 2194.0,178.8 2194.1,181.8 2194.1,184.8 2194.1,187.8 2194.1,190.9 2194.1,193.9 2194.2,196.9 2194.2,199.9 2194.2,202.9 2194.2,205.9 2194.2,208.9 2194.3,211.9 2194.3,214.9 2194.3,217.9 2194.3,220.9 2194.3,223.9 2194.4,226.9 2194.4,229.9 2194.4,232.9 2194.4,236.0 2194.5,239.0 2194.5,242.0 2194.5,245.0 2194.5,248.0 2194.5,251.0 2194.5,254.0 2194.5,257.0 2194.6,260.0 2194.6,263.0 2194.6,266.0 2194.6,269.0 2194.7,272.0 2194.7,275.0 2194.7,278.0 2194.7,281.1 2194.7,284.1 2194.8,287.1 2194.8,290.1 2194.8,293.1 2194.8,296.1 2194.8,299.1 2194.9,302.1 2194.9,305.1 2194.9,308.1 2194.9,311.2 2194.9,314.1 2194.9,317.1 2194.9,320.1 2194.9,323.1 2194.9,326.1 2194.9,329.1 2194.9,332.1 2194.9,335.1 2194.9,338.1 2194.9,341.1 2194.9,344.1 2194.9,347.1 2194.9,350.1 2194.9,353.1 2194.9,356.1 2194.9,359.1 2194.9,362.1 2194.9,365.1 2194.9,368.1 2194.9,371.1 2194.9,374.1 2194.9,377.2 2194.9,380.2 2194.9,383.2 2194.9,386.2 2194.9,389.2 2194.9,392.2 2194.9,395.2 2194.9,398.2 2194.9,401.2 2194.9,404.2 2194.9,407.2 2194.9,410.2 2194.9,413.2 2194.9,416.2 2194.9,419.2 2194.9,422.2 2194.9,425.2 2194.9,428.2 2194.9,431.2 2194.9,434.2 2194.9,437.2 2194.9,440.2 2194.9,443.2 2194.9,446.2 2194.9,449.2 2194.9,452.2 2194.9,455.2 2194.9,458.2 2194.9,461.2 2194.9,464.2 2194.9,467.2 2194.9,470.2 2194.9,473.2 2194.9,476.2 2194.9,479.2 2194.9,482.2 2194.9,485.2 2194.9,488.2 2194.9,491.2 2194.9,494.2 2194.9,497.2 2194.9,500.2 2194.9,503.2 2194.9,506.2 2194.9,509.2 2194.9,512.2 2194.9,515.2 2194.9,518.2 2194.9,521.2 2194.9,524.2 2194.9,527.2 2194.9,530.2 2194.9,533.2 2194.9,536.2 2194.9,539.2 2194.9,542.2 2194.9,545.2 2194.9,548.2 2194.9,551.2 2194.9,554.2 2194.9,557.2 2194.9,560.2 2194.9,563.2 2194.9,566.2 2194.9,569.2 2194.9,572.2 2194.9,575.2 2194.9,578.2 2194.9,581.2 2194.9,584.2 2194.9,587.2 2194.9,590.2 2194.9,593.2 2194.9,596.3 2194.9,599.3 2194.9,602.3 2194.9,605.3 2194.9,608.3 2194.9,611.3 2194.9,614.3 2194.9,617.3 2194.9,620.3 2194.9,623.3 2194.9,626.3 2194.9,629.3 2194.9,632.3 2194.9,635.3 2194.9,638.3 2194.9,641.3 2194.9,644.3 2194.9,647.3 2194.9,650.3 2194.9,653.3 2194.9,656.3 2194.9,659.3 2194.9,662.3 2194.9,665.3 2194.9,668.3 2194.9,671.3 2194.9,674.3 2194.9,677.3 2194.9,680.3 2194.9,683.3 2194.9,686.3 2194.9,689.2 2194.9,692.2 2195.0,695.2 2195.0,698.2 2195.0,701.2 2195.0,704.2 2195.1,707.2 2195.1,710.1 2195.1,713.1 2195.1,716.1 2195.1,719.1 2195.1,722.1 2195.2,725.1 2195.2,728.1 2195.2,731.0 2195.2,734.0 2195.3,737.0 2195.3,740.0 2195.4,743.0 2195.4,746.0 2195.4,749.0 2195.3,751.9 2195.4,754.9 2195.4,757.9 2195.4,760.9 2195.4,763.9 2195.5,766.9 2195.5,769.9 2195.5,772.8 2195.5,775.8 2195.6,778.8 2195.6,781.8 2195.6,784.8 2195.6,787.8 2195.6,790.7 2195.6,793.7 2195.7,796.7 2195.7,799.7 2195.7,802.7 2195.7,805.7 2195.7,808.7 2195.8,811.6 2195.8,814.6 2195.8,817.6 2195.9,820.6 2195.9,823.6 2195.9,826.6 2195.9,829.6 2195.9,832.5 2195.9,835.5 2196.0,838.5 2196.0,841.5 2196.0,844.5 2196.0,847.5 2196.0,850.5 2196.1,853.4 2196.1,856.9 2196.1,859.5 2196.2,862.5 2196.3,865.6 2196.3,868.6 2196.3,871.6 2196.4,874.7 2196.4,877.7 2196.6,880.8 2196.6,883.8 2196.7,886.9 2196.7,889.9 2196.8,892.9 2196.9,896.0 2196.9,899.0 2197.0,902.1 2197.2,905.1 2197.3,908.1 2197.2,911.2 2197.3,914.2 2197.4,917.3 2197.4,920.3 2197.4,923.4 2197.5,926.4 2197.6,929.4 2197.7,932.8 2197.8,929.4 2198.0,926.4 2198.2,923.3 2198.2,920.2 2198.4,917.2 2198.4,914.1 2198.6,911.1 2198.6,908.0 2198.9,904.9 2199.0,901.9 2199.3,898.8 2199.4,895.8 2199.7,892.7 2199.8,889.6 2199.8,886.6 2200.1,883.5 2200.1,880.8 2200.3,877.5 2200.3,874.4 2200.5,871.4 2200.6,868.4 2200.7,865.4 2200.9,862.4 2201.3,859.4 2201.3,856.4 2201.5,853.4 2201.6,850.4 2201.8,847.4 2201.9,844.4 2202.1,841.4 2202.3,838.4 2202.6,835.4 2202.7,832.4 2202.8,829.4 2202.9,826.4 2203.2,823.4 2203.3,820.5 2204.5,817.5 2204.7,814.2 2206.9,811.8 2207.2,808.4 2210.1,806.3 2210.9,803.6 2212.7,801.2 2212.9,798.2 2214.3,795.6 2215.9,793.1 2216.4,790.3 2216.0,787.1 2216.2,784.2 2217.5,781.6 2219.0,779.0 2220.1,776.0 2219.6,772.9 2221.3,770.2 2222.9,767.4 2223.0,764.2 2224.9,761.6 2226.9,759.0 2226.9,755.7 2228.6,753.0 2229.7,750.1 2231.0,747.2 2232.1,744.4 2232.3,741.3 2233.8,738.7 2235.7,736.2 2235.9,733.1 2235.5,729.9 2236.6,727.2 2238.8,724.7 2238.8,721.7 2239.6,718.8 2239.6,715.7 2240.0,712.8 2242.1,709.9 2243.0,707.5 2243.5,704.5 2245.1,701.9 2245.7,699.0 2245.4,695.7 2247.3,693.2 2249.2,690.7 2251.6,688.4 2250.4,684.8 2252.1,682.2 2253.1,679.6 2254.1,676.9 2254.9,674.1 2256.7,671.7 2257.6,669.0 2257.3,665.8 2257.8,662.9 2259.1,660.4 2259.1,657.3 2260.9,654.9 2262.1,652.3 2262.7,649.4 2263.7,646.8 2264.4,644.0 2265.9,641.5 2267.3,639.0 2268.1,636.0 2272.1,634.3 2273.3,637.1 2273.7,640.2 2274.2,643.3 2274.9,646.0 2275.3,643.4 2275.5,640.6 2277.1,638.1 2277.5,635.2 2277.4,632.3 2278.9,629.8 2279.3,626.9 2280.1,624.5 2281.0,621.2 2282.1,618.3 2282.0,615.1 2283.1,612.1 2284.0,609.2 2285.5,606.3 2286.8,603.4 2287.0,600.3 2287.6,597.2 2287.9,594.0 2288.7,591.0 2290.2,588.0 2291.6,585.7 2293.4,583.4 2293.2,580.3 2293.6,577.4 2294.1,574.5 2296.3,572.3 2298.0,569.9 2298.7,567.1 2299.0,564.7 2300.2,561.4 2300.7,558.3 2302.0,555.5 2302.1,552.3 2303.6,549.6 2304.5,546.6 2304.5,543.4 2306.6,540.9 2308.2,538.2 2310.1,535.6 2310.5,532.4 2312.3,529.8 2312.2,526.5 2314.4,524.0 2314.5,520.7 2315.7,517.8 2316.0,514.6 2318.2,512.3 2318.9,509.1 2320.8,506.4 2321.2,503.2 2322.3,500.2 2323.7,497.3 2323.5,493.9 2325.2,491.1 2326.2,488.0 2328.3,485.5 2331.4,484.2 2332.5,486.9 2332.5,490.0 2334.0,492.6 2335.4,495.3 2336.2,498.0 2337.1,495.1 2337.7,492.0 2339.7,489.3 2339.9,486.0 2342.0,483.4 2342.2,480.2 2343.3,477.2 2343.9,474.2 2347.0,472.0 2345.6,468.2 2348.0,465.8 2349.7,463.1 2351.0,460.3 2352.6,457.6 2352.2,454.8 2352.5,450.9 2354.3,448.3 2354.8,445.2 2356.3,442.4 2357.5,439.5 2359.5,437.0 2360.7,434.2 2361.3,431.0 2362.2,427.9 2363.9,425.4 2365.5,422.5 2366.7,419.5 2369.1,417.1 2370.2,414.5 2371.0,411.3 2373.2,409.1 2373.1,405.8 2374.2,403.2 2374.6,400.2 2377.0,397.8 2376.9,401.0 2378.7,403.6 2379.4,406.4 2380.3,409.1 2380.2,411.8 2380.3,415.1 2380.5,418.2 2380.5,421.2 2380.5,424.2 2380.7,427.3 2380.8,430.3 2380.9,433.4 2381.1,436.4 2381.2,439.5 2381.2,442.5 2381.3,445.5 2381.3,448.6 2381.5,451.6 2381.6,454.7 2381.7,457.7 2381.9,460.7 2381.8,463.8 2381.8,466.8 2382.1,469.9 2382.1,472.9 2382.2,476.0 2382.2,479.0 2382.5,482.0 2382.6,485.1 2382.6,487.9 2382.8,491.2 2382.9,494.2 2382.9,497.2 2383.0,500.3 2383.0,503.3 2383.1,506.4 2383.3,509.4 2383.5,512.4 2383.4,515.5 2383.4,518.5 2383.5,521.5 2383.7,524.6 2383.7,527.6 2383.8,530.6 2383.8,533.7 2383.9,536.7 2384.0,539.8 2384.2,542.8 2384.2,545.8 2384.4,548.9 2384.3,551.9 2384.5,554.9 2384.6,558.0 2384.6,561.0 2384.6,564.1 2384.8,567.1 2384.9,570.1 2384.9,573.2 2385.0,576.3 2385.2,579.2 2385.1,582.1 2385.1,585.1 2385.3,588.1 2385.4,591.0 2385.5,594.0 2385.6,597.0 2385.7,599.9 2385.8,602.9 2386.0,605.9 2386.1,608.8 2386.2,611.8 2386.3,614.8 2386.3,617.7 2386.4,620.7 2386.4,623.7 2386.4,626.6 2386.6,629.6 2386.7,632.5 2386.7,635.5 2386.9,638.5 2387.1,641.4 2387.1,644.4 2387.1,647.4 2387.2,650.3 2387.4,653.3 2387.4,656.1 2387.9,659.3 2388.4,662.3 2388.4,665.3 2389.7,668.2 2389.2,671.3 2389.8,674.8 2390.8,671.4 2391.1,668.4 2391.5,665.3 2393.4,662.8 2394.0,659.9 2393.9,656.7 2396.2,653.4 2397.1,651.5 2398.7,648.9 2398.3,645.7 2400.7,643.4 2400.7,640.4 2401.8,637.7 2402.0,634.6 2404.1,632.3 2404.5,629.3 2405.4,626.5 2406.6,623.9 2406.9,620.9 2408.2,618.4 2409.6,615.5 2409.9,612.4 2410.3,609.4 2412.1,606.8 2413.3,604.1 2414.1,601.2 2414.4,598.1 2416.9,595.8 2417.5,592.8 2419.0,590.2 2419.9,587.3 2420.3,584.3 2420.8,581.2 2421.2,578.2 2423.6,575.8 2424.2,572.8 2426.2,570.4 2427.6,567.7 2428.0,564.6 2428.6,561.6 2430.1,559.0 2431.7,556.4 2431.7,553.2 2432.3,550.4 2434.6,548.0 2434.2,544.6 2435.9,542.2 2436.7,539.3 2438.2,536.7 2439.6,534.1 2440.1,531.2 2441.4,528.5 2443.4,526.1 2444.1,523.3 2444.3,520.5 2445.7,517.4 2446.7,514.4 2448.4,511.8 2448.8,508.6 2449.6,505.5 2450.4,502.6 2451.6,499.7 2453.1,496.9 2454.2,494.0 2455.1,491.0 2456.3,488.7 2457.0,485.3 2458.5,482.7 2460.1,480.2 2460.9,477.3 2462.0,474.6 2462.1,471.4 2463.8,469.0 2465.6,466.5 2465.7,463.4 2467.4,460.9 2468.3,458.4 2469.4,455.5 2470.3,452.7 2470.1,449.6 2472.5,447.4 2474.6,445.0 2475.2,442.2 2476.3,439.5 2474.2,435.8 2475.6,433.3 2476.8,430.6 2478.3,428.0 2479.5,425.0 2480.2,421.7 2482.5,419.3 2483.5,416.2 2486.3,413.7 2486.8,417.0 2486.7,420.0 2488.1,422.7 2488.9,425.5 2490.3,427.8 2490.5,425.1 2492.7,423.0 2494.2,420.5 2495.1,417.9 2495.6,415.0 2496.7,412.4 2498.3,410.0 2500.2,407.5 2500.3,404.4 2499.5,401.1 2502.7,398.9 2503.3,396.0 2503.3,392.9 2504.3,390.3 2506.9,387.8 2508.2,384.6 2510.3,381.9 2510.5,385.0 2510.9,387.8 2510.9,390.8 2511.6,393.6 2512.1,396.5 2512.6,399.4 2512.7,402.3 2512.4,405.2 2513.1,407.9 2513.2,411.1 2513.3,414.0 2513.3,417.0 2513.3,420.0 2513.4,423.0 2513.4,426.0 2513.6,428.9 2513.6,431.9 2513.6,434.9 2513.6,437.9 2513.6,440.9 2513.7,443.9 2513.8,446.8 2513.8,449.8 2513.8,452.8 2513.9,455.8 2514.0,458.8 2514.0,461.8 2514.0,464.7 2514.1,467.7 2514.2,470.7 2514.2,473.7 2514.2,476.7 2514.3,479.7 2514.3,482.6 2514.4,485.6 2514.5,488.6 2514.5,491.6 2514.4,494.6 2514.6,497.6 2514.6,500.5 2514.6,503.5 2514.7,506.5 2514.8,509.5 2514.8,512.5 2514.8,515.5 2514.9,518.4 2515.0,521.4 2515.0,524.4 2515.0,527.4 2515.1,530.4 2515.1,533.3 2515.2,536.3 2515.2,539.3 2515.3,542.3 2515.3,545.3 2515.3,548.3 2515.4,551.2 2515.4,554.2 2515.4,557.2 2515.5,560.6 2515.6,563.2 2515.6,566.2 2515.7,569.3 2515.8,572.3 2516.0,575.3 2515.9,578.3 2516.0,581.3 2516.2,584.4 2516.2,587.4 2516.2,590.4 2516.3,593.4 2516.4,596.4 2516.5,599.5 2516.6,602.5 2516.7,605.5 2516.7,608.5 2516.8,611.6 2516.9,614.6 2517.0,617.6 2517.0,620.6 2517.0,623.6 2517.1,626.7 2517.3,629.7 2517.4,632.7 2517.5,635.7 2517.5,638.7 2517.7,641.8 2517.7,644.8 2517.7,647.8 2517.8,650.8 2517.8,653.9 2517.9,656.9 2518.0,659.9 2518.0,662.9 2518.1,665.9 2518.1,669.0 2518.3,672.0 2518.3,675.0 2518.4,678.0 2518.6,681.0 2518.7,684.1 2518.8,687.1 2518.8,690.1 2518.9,693.1 2518.9,696.1 2519.1,699.2 2519.2,702.2 2519.2,705.2 2519.3,708.2 2519.3,711.3 2519.4,714.3 2519.5,717.3 2519.5,720.3 2520.5,723.1 2520.4,726.0 2520.5,728.9 2520.8,731.8 2521.7,734.6 2521.4,737.5 2522.3,740.7 2523.7,737.6 2524.8,734.8 2526.0,732.1 2525.5,728.8 2526.5,726.0 2527.3,723.1 2528.3,720.3 2529.7,717.4 2530.9,714.5 2531.5,711.4 2532.9,708.5 2534.4,705.7 2534.9,702.5 2534.5,699.0 2536.3,695.6 2536.7,693.3 2538.0,690.6 2539.1,687.8 2540.3,685.1 2541.3,682.3 2543.3,679.8 2543.6,676.8 2544.1,673.8 2544.9,670.9 2546.4,668.3 2546.9,665.3 2548.0,662.5 2549.1,659.8 2549.7,656.8 2549.9,653.8 2551.0,651.0 2552.1,648.2 2553.2,645.4 2554.6,642.8 2556.4,640.2 2557.3,637.4 2558.0,634.4 2560.8,632.5 2561.7,629.6 2561.6,626.2 2564.4,623.8 2564.1,621.1 2565.4,618.5 2566.3,615.7 2567.6,613.0 2567.3,609.9 2568.9,607.4 2570.5,604.8 2570.0,601.6 2571.8,599.1 2572.4,596.4 2574.1,593.9 2576.4,591.8 2576.7,588.6 2578.4,586.0 2581.4,587.0 2584.4,587.6 2584.5,590.4 2584.5,593.5 2584.6,596.5 2584.7,599.6 2584.8,602.6 2584.9,605.6 2585.0,608.7 2585.1,611.7 2585.3,614.7 2585.3,617.8 2585.3,620.8 2585.4,623.8 2585.5,626.9 2585.5,629.9 2585.6,633.0 2585.8,636.0 2585.8,639.0 2586.0,642.1 2586.0,645.1 2586.0,648.1 2586.2,651.2 2586.1,654.2 2586.3,657.2 2586.4,660.4 2586.5,663.2 2586.4,666.1 2586.5,669.1 2586.6,672.0 2586.7,675.0 2586.8,677.9 2586.9,680.8 2587.1,683.8 2587.0,686.7 2587.2,689.6 2587.2,692.6 2587.3,695.5 2587.5,698.4 2587.6,701.4 2587.6,704.0 2588.2,701.3 2588.6,698.3 2590.3,695.7 2591.8,693.0 2592.8,690.1 2593.1,687.0 2594.4,684.2 2596.1,681.6 2597.0,678.7 2597.2,675.6 2597.8,672.6 2599.4,669.9 2598.6,666.4 2600.8,663.9 2601.0,660.8 2602.0,657.9 2603.1,655.0 2604.4,652.3 2604.7,648.8 2607.3,646.6 2609.7,644.2 2609.7,640.6 2611.8,638.1 2614.6,635.9 2614.4,632.6 2617.7,632.0 2620.4,630.3 2621.5,627.5 2620.8,624.1 2622.7,621.7 2625.6,619.7 2627.0,617.1 2626.4,613.7 2627.7,611.1 2628.4,608.2 2629.2,605.3 2629.7,602.2 2631.9,599.7 2632.0,596.6 2633.9,594.0 2634.0,590.8 2635.9,588.2 2635.9,585.0 2635.8,581.8 2636.8,578.9 2638.4,576.1 2640.0,573.6 2641.1,570.8 2640.9,567.6 2643.4,565.3 2644.0,562.4 2644.8,559.5 2645.1,556.5 2647.1,554.0 2647.6,551.0 2648.4,547.9 2651.0,546.0 2653.9,544.4 2656.4,542.2 2656.9,539.3 2657.9,536.5 2657.8,533.5 2659.4,530.9 2659.5,527.9 2659.7,525.0 2661.1,522.3 2662.5,519.7 2663.3,516.9 2662.7,513.7 2663.2,510.9 2664.5,508.1 2665.8,505.5 2667.1,502.9 2668.4,500.2 2667.8,496.8 2670.7,494.8 2670.4,491.5 2672.1,489.0 2672.5,486.1 2674.4,483.6 2676.4,481.3 2676.5,478.5 2677.4,475.4 2678.8,472.9 2680.1,470.3 2681.1,467.7 2683.1,465.4 2683.3,462.3 2685.2,460.0 2685.5,457.0 2687.6,454.9 2688.5,452.4 2690.0,449.3 2691.9,446.6 2693.5,443.9 2693.8,440.6 2694.6,437.6 2694.7,434.5 2695.6,431.7 2697.9,429.4 2697.0,426.1 2699.8,424.0 2700.8,421.3 2700.8,418.3 2701.8,415.6 2702.4,412.7 2704.8,410.4 2704.9,407.3 2707.1,405.0 2707.6,402.1 2708.4,399.0 2708.5,402.2 2709.0,405.2 2709.4,408.1 2709.7,411.1 2710.7,414.0 2711.6,416.9 2711.7,419.9 2712.0,422.9 2712.0,425.9 2712.1,428.9 2712.1,431.8 2712.2,434.8 2712.2,437.8 2712.2,440.8 2712.2,443.8 2712.3,446.8 2712.3,449.8 2712.4,452.8 2712.4,455.8 2712.4,458.8 2712.5,461.8 2712.5,464.8 2712.5,467.7 2712.5,470.7 2712.6,473.7 2712.6,476.7 2712.6,479.7 2712.7,482.7 2712.7,485.7 2712.7,488.7 2712.7,491.7 2712.8,494.7 2712.8,497.7 2712.8,500.7 2712.9,503.7 2712.9,506.6 2713.0,509.6 2713.0,512.6 2713.0,515.6 2713.1,518.6 2713.1,521.6 2713.2,524.6 2713.1,527.6 2713.2,530.6 2713.2,533.6 2713.2,536.6 2713.3,539.6 2713.4,542.6 2713.4,545.5 2713.4,548.5 2713.4,551.5 2713.5,554.5 2713.5,557.1 2713.5,560.5 2713.6,563.6 2713.6,566.6 2713.6,569.6 2713.7,572.7 2713.8,575.7 2713.8,578.7 2713.9,581.8 2714.0,584.8 2714.0,587.8 2714.0,590.9 2714.1,593.9 2714.1,596.9 2714.2,600.0 2714.2,603.0 2714.3,606.0 2714.3,609.1 2714.4,612.1 2714.4,615.1 2714.4,618.2 2714.5,621.2 2714.6,624.2 2714.6,627.3 2714.7,630.3 2714.7,633.3 2714.7,636.4 2714.8,639.4 2714.9,642.4 2714.9,645.5 2714.9,648.1 2715.0,651.6 2715.1,654.6 2715.1,657.7 2715.2,660.7 2715.4,663.8 2715.3,666.9 2715.4,669.9 2715.5,673.0 2715.7,676.1 2715.7,679.1 2715.8,682.2 2715.9,685.3 2715.9,688.3 2716.0,691.4 2715.9,694.5 2716.0,697.5 2716.2,700.6 2716.3,703.6 2716.4,707.0 2717.1,709.8 2718.9,712.6 2719.3,715.5 2719.3,712.7 2719.5,709.7 2719.8,706.6 2720.1,703.5 2719.9,700.4 2720.0,697.4 2720.3,694.3 2720.6,691.2 2720.8,688.2 2721.1,685.1 2721.1,682.0 2721.1,679.0 2721.5,675.9 2721.3,672.8 2721.6,669.7 2721.8,666.6 2723.0,663.9 2723.3,660.9 2724.7,658.3 2725.1,655.3 2725.2,652.2 2726.4,649.5 2727.3,646.8 2727.4,649.6 2727.5,652.6 2727.7,655.6 2727.8,658.5 2727.9,661.5 2728.4,664.5 2728.5,667.4 2728.5,670.4 2728.8,673.4 2728.8,676.4 2729.1,679.3 2729.1,682.3 2729.4,685.3 2729.4,688.2 2729.8,691.2 2729.9,694.2 2730.2,697.1 2729.9,700.1 2730.2,703.4 2730.4,706.1 2730.4,709.1 2730.5,712.2 2730.5,715.2 2730.7,718.2 2730.8,721.3 2730.8,724.3 2731.0,727.3 2731.0,730.4 2731.0,733.4 2731.1,736.4 2731.3,739.5 2731.4,742.5 2731.8,745.5 2731.7,747.9 2731.4,745.4 2731.9,742.3 2732.4,739.2 2733.6,736.2 2733.7,733.0 2734.8,730.1 2735.0,726.9 2735.2,723.8 2736.0,720.7 2736.4,717.5 2736.7,714.6 2738.0,712.0 2740.1,709.7 2739.5,706.3 2742.0,704.1 2743.0,701.4 2744.0,698.6 2744.8,695.6 2746.9,698.0 2748.2,700.8 2750.5,702.9 2752.8,705.1 2754.1,702.3 2754.7,699.5 2755.4,696.7 2756.6,694.0 2758.1,691.5 2759.0,688.8 2758.3,685.5 2759.0,682.7 2760.6,680.2 2761.9,677.6 2762.2,674.5 2764.1,672.1 2764.5,669.1 2767.3,667.0 2768.9,664.5 2769.3,661.5 2770.9,658.9 2771.0,655.9 2771.2,658.7 2771.3,661.7 2771.4,664.6 2771.6,667.6 2771.7,670.5 2771.9,673.5 2772.0,676.5 2772.0,679.4 2772.1,682.4 2772.4,685.3 2772.5,688.3 2772.5,691.2 2772.7,694.2 2772.9,697.2 2773.0,700.1 2773.2,703.3 2773.2,706.1 2773.3,709.0 2773.4,712.0 2773.5,715.0 2773.7,718.0 2773.8,720.9 2774.0,723.9 2773.9,726.9 2774.0,729.9 2774.0,732.8 2774.2,735.8 2774.3,738.8 2774.4,741.8 2774.6,744.8 2774.6,747.7 2774.7,750.7 2774.8,753.7 2775.0,756.7 2774.9,759.6 2775.0,762.6 2775.2,765.6 2775.3,768.9 2775.8,771.5 2776.4,774.5 2777.7,777.3 2777.7,780.3 2779.0,783.3 2779.7,780.3 2780.7,777.5 2781.1,774.6 2782.5,772.0 2782.7,769.0 2783.9,766.3 2784.1,763.3 2784.2,760.3 2785.5,757.6 2786.6,754.9 2787.9,752.1 2788.3,749.1 2788.7,746.0 2791.0,743.6 2792.6,741.0 2792.8,737.9 2793.7,735.0 2794.6,731.9 2795.7,729.4 2795.9,726.3 2797.6,723.7 2799.5,721.2 2799.6,718.0 2800.4,715.1 2801.0,712.1 2802.1,709.3 2803.7,706.4 2806.3,705.8 2808.4,704.0 2811.0,703.1 2812.7,700.5 2813.2,697.5 2814.0,694.6 2815.1,691.8 2815.7,688.8 2818.2,686.5 2817.4,683.0 2818.8,680.3 2820.1,677.8 2820.6,674.7 2823.1,672.5 2822.8,669.4 2824.0,666.8 2825.6,664.3 2826.8,661.6 2827.0,658.7 2827.4,656.2 2827.9,652.7 2829.5,649.9 2829.5,646.7 2830.6,643.8 2831.1,640.8 2832.2,637.9 2833.4,635.0 2834.7,632.1 2835.8,629.2 2836.7,626.3 2836.5,623.6 2838.9,621.3 2842.0,620.5 2843.7,618.1 2845.6,615.9 2845.7,612.7 2846.7,610.0 2848.0,607.4 2849.1,604.8 2849.0,601.7 2850.7,599.3 2851.5,596.5 2852.7,593.8 2853.6,591.1 2854.7,588.4 2856.7,586.3 2858.8,584.3 2859.7,581.3 2862.0,579.3 2862.1,582.3 2862.0,585.4 2862.3,588.3 2862.5,591.3 2862.8,594.3 2863.1,597.3 2863.0,600.3 2863.5,603.3 2863.7,606.3 2863.7,609.3 2864.0,612.3 2863.9,615.3 2864.0,618.3 2864.3,621.3 2864.7,624.3 2864.5,627.3 2864.9,630.9 2865.0,633.3 2865.1,636.2 2865.3,639.2 2865.5,642.1 2865.7,645.1 2866.1,648.0 2865.9,651.0 2866.0,653.9 2866.2,656.9 2866.4,659.9 2866.5,662.8 2866.7,665.8 2866.6,668.7 2867.1,671.7 2867.3,674.6 2867.4,677.6 2867.4,674.6 2869.6,672.2 2870.1,669.4 2869.6,666.2 2871.2,663.7 2872.1,661.0 2875.0,658.9 2874.7,655.9 2876.2,653.2 2876.4,650.3 2877.6,647.6 2877.7,644.7 2879.9,642.3 2880.9,639.6 2880.6,636.5 2882.0,634.1 2884.5,632.5 2886.2,629.9 2888.2,627.7 2891.1,626.4 2892.6,623.8 2893.5,620.6 2895.2,617.8 2897.4,615.3 2898.3,611.8 2900.6,609.8 2901.8,607.0 2902.0,603.7 2903.9,601.2 2903.9,597.8 2906.5,595.7 2909.2,593.7 2909.3,590.9 2909.3,593.3 2909.6,596.4 2909.5,599.5 2909.8,602.5 2910.1,605.6 2910.3,608.6 2910.4,611.7 2910.6,614.8 2910.7,617.8 2910.9,620.9 2911.0,624.0 2911.1,627.0 2911.1,630.1 2911.3,633.2 2911.6,636.2 2911.8,639.3 2911.8,642.4 2912.2,645.4 2912.2,648.3 2912.4,651.5 2912.5,654.4 2912.4,657.4 2912.6,660.4 2912.6,663.4 2912.8,666.4 2913.1,669.3 2913.0,672.3 2913.3,675.3 2913.4,678.3 2913.5,681.2 2913.6,684.2 2913.6,687.2 2913.6,690.2 2913.8,693.2 2914.0,696.1 2914.1,699.1 2914.2,702.1 2914.3,705.1 2914.5,708.0 2914.5,711.0 2914.7,714.1 2915.7,711.1 2915.6,707.9 2916.6,705.0 2916.9,702.0 2917.8,699.1 2917.3,695.8 2918.5,693.0 2919.3,690.0 2921.0,687.3 2920.8,684.1 2922.0,681.2 2922.0,678.0 2924.5,675.7 2926.3,673.2 2926.3,670.0 2927.1,667.1 2927.9,664.2 2928.6,661.3 2928.9,658.2 2931.1,655.7 2934.1,654.8 2936.6,653.0 2938.4,650.1 2939.2,647.2 2941.1,644.5 2942.4,641.6 2943.7,638.7 2944.9,635.2 2945.1,638.8 2945.4,641.9 2945.3,645.0 2945.4,648.0 2945.5,651.1 2945.9,654.2 2946.0,657.2 2946.1,660.3 2946.5,663.4 2946.7,666.4 2946.8,669.5 2946.8,672.6 2946.8,675.7 2947.2,678.7 2947.4,681.8 2947.5,684.6 2947.5,687.8 2947.6,690.7 2947.7,693.6 2948.0,696.5 2948.1,699.4 2948.3,702.3 2948.3,705.3 2948.7,708.2 2948.7,711.1 2948.7,714.0 2948.7,716.9 2948.9,719.8 2949.2,722.7 2949.2,725.6 2949.3,728.7 2949.8,725.7 2949.8,722.7 2950.5,719.9 2952.3,717.3 2952.2,714.4 2953.0,711.6 2953.2,708.7 2954.1,705.9 2954.7,703.0 2954.4,699.3 2957.0,696.9 2958.0,693.8 2961.6,691.9 2962.0,689.1 2963.5,691.9 2967.3,692.9 2969.3,695.6 2970.0,692.8 2970.9,689.9 2973.0,687.4 2973.3,684.3 2974.1,681.4 2976.0,678.8 2976.6,675.7 2977.1,678.8 2978.0,681.8 2978.0,684.8 2978.1,687.9 2978.7,690.9 2979.1,694.0 2979.4,697.0 2979.8,700.0 2980.2,703.2 2980.6,706.1 2980.7,709.1 2980.6,712.1 2980.9,715.1 2981.0,718.1 2981.2,721.0 2981.2,724.1 2981.4,727.0 2981.4,730.1 2981.7,733.0 2981.9,736.0 2981.9,739.0 2982.0,742.0 2982.5,745.0 2982.5,748.0 2982.7,751.0 2982.8,753.7 2983.7,756.7 2983.5,759.7 2985.6,762.0 2985.7,764.8 2986.2,762.1 2988.2,759.6 2989.1,756.8 2988.2,753.6 2988.5,750.7 2989.5,748.0 2989.2,745.0 2990.6,742.3 2991.1,739.5 2992.0,736.5 2993.2,733.7 2995.5,731.3 2995.0,727.9 2995.7,724.9 2995.6,721.7 2996.7,718.8 2998.4,716.2 2999.2,713.2 3000.2,710.3 3001.7,707.8 3003.3,705.4 3005.0,702.9 3007.5,701.2 3009.9,700.7 3012.1,699.0 3014.8,699.4 3016.0,696.5 3016.5,693.4 3017.1,690.3 3018.8,687.5 3018.4,684.1 3019.7,681.3 3021.0,678.4 3020.7,675.0 3022.1,671.8 3023.3,669.2 3024.0,666.1 3024.5,662.9 3025.9,660.0 3026.8,657.0 3028.6,654.3 3029.4,651.2 3031.2,648.4 3032.3,651.3 3032.8,654.3 3033.2,657.4 3033.6,660.4 3035.0,663.2 3035.7,666.1 3036.4,669.1 3036.6,672.2 3037.9,669.5 3038.1,666.6 3039.2,663.9 3040.3,661.2 3041.0,658.4 3043.0,656.1 3042.1,652.7 3045.0,650.7 3046.1,648.0 3045.7,645.4 3046.9,642.1 3046.8,638.9 3049.3,636.7 3051.5,634.4 3052.2,631.6 3053.8,629.0 3054.1,625.9 3054.8,623.4 3056.2,620.3 3056.7,617.3 3057.0,614.2 3058.2,611.5 3060.1,608.9 3061.4,606.2 3062.4,603.4 3063.2,600.5 3063.9,597.8 3065.3,595.0 3066.2,592.2 3066.5,589.3 3067.7,586.7 3068.4,583.9 3069.4,581.0 3069.5,584.2 3069.9,587.3 3070.0,590.4 3070.3,593.4 3070.5,596.5 3070.4,599.6 3070.4,602.7 3070.7,605.7 3071.0,608.8 3071.5,611.9 3071.5,614.9 3071.5,618.0 3071.7,621.1 3072.0,624.1 3072.0,627.2 3072.3,630.2 3072.4,633.3 3072.6,636.3 3072.8,639.2 3072.7,642.2 3072.8,645.2 3073.0,648.2 3073.4,651.2 3073.4,654.2 3073.5,657.1 3073.7,660.1 3073.7,663.1 3074.1,666.1 3074.2,669.1 3074.3,672.1 3074.4,675.1 3074.5,678.0 3074.8,681.0 3074.8,684.0 3075.1,687.0 3075.0,690.0 3075.2,693.0 3075.4,695.9 3075.7,698.9 3075.9,701.9 3075.9,704.3 3076.5,701.8 3077.5,698.9 3078.4,695.9 3078.9,692.8 3079.3,689.7 3079.0,686.5 3080.1,683.5 3081.5,680.7 3082.1,677.6 3083.6,674.8 3083.9,671.7 3085.4,668.9 3086.4,666.0 3084.9,662.3 3086.3,659.5 3088.5,656.9 3089.7,654.0 3089.8,650.9 3090.6,647.9 3091.2,645.1 3093.6,642.5 3095.1,639.7 3094.9,636.2 3096.0,633.2 3097.0,630.2 3098.6,627.5 3100.3,624.9 3100.8,627.7 3101.8,630.4 3102.9,633.1 3102.4,636.3 3103.9,638.8 3105.8,641.3 3107.0,638.3 3107.4,635.3 3108.1,632.2 3108.8,629.2 3108.3,625.9 3109.5,623.0 3111.1,620.2 3111.4,617.1 3112.3,614.2 3112.8,611.1 3114.9,607.6 3115.4,605.6 3116.4,602.9 3116.4,599.9 3118.3,597.5 3120.5,595.2 3120.9,592.3 3121.3,589.4 3121.2,586.3 3123.1,583.9 3124.4,581.3 3123.9,578.1 3125.8,575.3 3127.4,573.2 3128.2,570.3 3127.4,566.8 3129.9,564.6 3131.4,562.0 3132.7,559.4 3133.6,556.6 3134.9,554.0 3136.2,551.1 3138.2,548.5 3138.2,545.3 3138.9,542.4 3139.6,539.4 3139.7,536.2 3141.1,533.4 3142.1,530.6 3141.8,527.3 3144.0,525.0 3145.4,522.0 3147.0,519.3 3147.9,516.4 3148.7,513.4 3150.2,510.7 3152.1,508.1 3152.0,505.2 3152.8,507.5 3153.1,510.3 3153.7,513.1 3155.3,515.6 3155.8,518.4 3156.7,521.3 3156.8,524.2 3156.8,527.2 3157.0,530.2 3157.1,533.2 3157.1,536.3 3157.2,539.3 3157.1,542.4 3157.2,545.4 3157.4,548.4 3157.5,551.4 3157.5,554.5 3157.5,557.5 3157.8,560.5 3157.8,563.6 3157.8,566.6 3157.9,569.6 3157.9,572.7 3158.1,575.7 3158.2,578.7 3158.3,581.8 3158.4,584.8 3158.5,587.8 3158.5,590.9 3158.5,594.3 3158.6,596.9 3158.6,600.0 3158.8,603.0 3158.8,606.0 3158.8,609.1 3158.9,612.1 3159.0,615.1 3159.0,618.2 3159.0,621.2 3159.1,624.2 3159.2,627.3 3159.3,630.3 3159.4,633.3 3159.5,636.4 3159.5,639.4 3159.5,642.4 3159.6,645.5 3159.6,648.5 3159.7,651.5 3159.8,654.5 3159.8,657.6 3159.8,660.6 3159.9,663.6 3160.0,666.7 3160.0,669.7 3160.0,672.7 3160.3,675.8 3160.2,678.8 3160.3,681.8 3160.3,685.0 3160.4,687.9 3160.6,691.0 3160.7,694.1 3161.0,697.1 3161.1,700.2 3161.2,703.3 3161.3,706.3 3161.3,709.4 3161.4,712.5 3161.6,715.5 3161.7,718.6 3162.0,721.6 3162.2,724.7 3162.3,727.8 3162.4,730.8 3162.4,733.9 3162.6,737.0 3162.8,740.0 3162.9,743.1 3163.9,740.4 3164.2,737.5 3164.6,734.6 3165.5,731.9 3165.2,728.9 3165.0,725.9 3166.1,723.2 3167.2,720.5 3167.6,717.4 3167.8,714.4 3170.4,712.0 3170.7,708.8 3172.5,706.2 3173.1,703.2 3174.5,700.8 3176.2,698.7 3176.2,695.7 3178.5,693.8"/>
</g>
<g clip-path="url(#cb)">
<polyline fill="none" stroke-width="9" stroke-linejoin="round" stroke-linecap="round" stroke="#00ffff" points="374.2,1812.0 375.2,1809.3 377.1,1806.8 376.8,1803.6 378.7,1801.2 379.1,1798.2 379.9,1795.4 382.4,1793.2 382.1,1790.3 383.6,1787.3 385.3,1784.8 387.0,1782.3 387.7,1779.3 389.3,1776.7 389.7,1773.5 391.5,1770.8 392.3,1768.3 392.9,1765.4 393.7,1762.7 394.7,1760.1 396.8,1757.9 398.3,1755.5 399.5,1752.9 401.0,1750.5 401.3,1747.5 403.1,1745.1 404.7,1742.7 406.4,1740.3 406.7,1737.2 407.9,1734.6 408.1,1731.4 410.0,1729.1 412.0,1726.2 411.9,1723.6 414.8,1721.8 414.3,1718.4 417.0,1716.4 418.4,1713.9 419.2,1711.1 420.9,1708.6 422.3,1706.1 423.1,1703.6 424.7,1700.6 425.8,1697.6 427.3,1694.8 428.6,1692.0 430.7,1689.6 431.9,1686.7 434.1,1684.4 434.2,1681.0 435.7,1678.4 437.2,1675.7 437.8,1672.7 441.6,1671.2 440.8,1667.4 443.5,1665.0 444.6,1662.4 447.6,1660.5 447.3,1656.7 450.2,1654.8 451.1,1651.7 452.8,1649.1 454.6,1646.3 456.5,1644.3 457.1,1641.4 459.1,1639.2 461.0,1637.1 463.7,1635.5 464.0,1632.1 466.3,1630.0 467.7,1627.2 468.1,1624.0 469.7,1621.4 470.7,1618.4 473.3,1616.3 474.1,1613.2 475.1,1610.3 476.5,1607.7 478.1,1605.2 479.6,1602.7 480.8,1599.9 484.1,1598.6 483.7,1594.8 486.1,1591.9 487.1,1590.0 489.0,1587.8 491.0,1585.6 492.3,1582.9 493.9,1580.4 495.7,1578.1 497.1,1575.8 498.9,1572.9 500.7,1570.3 503.9,1568.8 505.3,1566.0 506.6,1562.9 509.3,1561.1 510.0,1558.3 510.0,1555.2 510.5,1552.3 512.5,1550.1 513.1,1547.3 514.0,1544.6 516.1,1541.9 517.4,1539.8 520.3,1538.5 521.6,1535.7 522.8,1532.9 525.5,1531.3 527.4,1529.2 529.8,1527.4 532.0,1525.5 533.2,1522.7 535.0,1520.4 536.8,1517.9 538.1,1514.8 540.8,1513.0 543.4,1511.0 544.4,1508.1 546.5,1505.7 548.5,1503.4 550.7,1501.3 553.0,1500.3 555.5,1500.3 557.4,1502.6 558.5,1505.1 560.4,1507.1 560.6,1510.0 561.8,1512.5 563.6,1515.1 565.7,1517.6 565.5,1521.0 565.4,1524.3 567.4,1526.8 568.1,1529.7 569.8,1527.8 572.5,1527.0 574.4,1525.0 577.0,1522.9 578.6,1519.8 580.7,1517.4 582.1,1514.9 583.1,1512.3 584.5,1509.6 586.5,1512.2 587.7,1515.0 588.4,1518.0 590.1,1520.5 592.4,1519.2 594.9,1518.8 594.9,1521.7 595.4,1524.5 595.8,1527.4 596.1,1530.3 596.2,1533.2 596.4,1536.0 597.0,1538.9 597.1,1541.7 597.5,1544.6 597.9,1547.5 598.0,1550.5 598.4,1553.2 600.4,1555.5 601.2,1558.2 601.9,1561.0 603.6,1563.3 604.3,1566.0 607.3,1568.1 610.6,1569.0 611.6,1566.6 612.9,1564.0 613.8,1561.3 613.5,1558.2 615.1,1555.7 615.4,1552.8 616.9,1550.3 617.3,1553.5 617.9,1556.7 619.0,1559.7 619.6,1562.9 619.6,1566.1 620.7,1569.2 621.0,1572.4 621.4,1575.4 622.4,1578.2 621.8,1581.3 623.2,1584.0 623.1,1587.1 624.8,1589.7 628.3,1589.9 630.0,1593.1 632.7,1594.7 635.3,1592.3 637.9,1590.2 640.6,1587.7 641.7,1585.4 643.2,1582.9 645.4,1580.8 647.5,1578.8 648.9,1581.1 650.1,1583.6 652.1,1585.6 653.2,1588.0 655.5,1585.8 657.9,1583.4 658.0,1586.5 659.5,1589.2 659.1,1592.4 660.8,1595.1 660.8,1598.2 662.2,1601.0 662.6,1604.2 664.0,1606.8 665.5,1609.6 666.8,1612.5 669.0,1615.0 669.9,1611.8 670.6,1608.4 674.0,1606.6 674.9,1603.4 676.8,1600.6 678.3,1598.3 681.2,1596.9 680.8,1593.2 683.1,1591.2 685.5,1588.9 688.6,1587.3 691.0,1584.7 692.5,1582.2 695.2,1580.3 697.7,1578.2 699.9,1575.9 700.5,1572.6 702.5,1570.3 704.2,1568.0 705.4,1565.1 707.0,1562.7 709.9,1561.2 712.2,1559.9 714.3,1558.2 717.1,1557.4 718.5,1554.7 721.0,1553.5 723.3,1554.9 725.7,1556.3 727.9,1558.1 730.4,1559.3 732.6,1557.1 734.6,1554.9 737.5,1553.6 738.3,1550.6 741.3,1548.7 743.5,1546.2 745.2,1543.5 746.1,1546.2 748.5,1548.2 748.9,1551.3 750.9,1553.5 752.2,1550.7 754.2,1548.3 755.6,1545.8 756.4,1548.8 757.7,1551.7 759.9,1554.2 762.1,1556.7 762.9,1559.8 764.9,1557.3 765.9,1554.2 768.3,1552.0 769.1,1554.9 771.0,1557.5 771.3,1560.6 773.4,1563.2 774.4,1566.0 774.6,1569.1 777.2,1570.7 778.0,1573.5 780.2,1575.2 780.7,1578.2 782.4,1580.2 785.0,1581.9 788.3,1582.5 790.3,1584.7 793.6,1584.7 796.6,1583.7 798.7,1585.9 798.2,1589.2 798.8,1592.2 800.5,1594.8 801.4,1597.9 802.6,1600.3 803.1,1603.3 803.1,1606.3 803.5,1609.2 805.1,1612.4 808.0,1613.8 810.2,1616.0 812.0,1613.9 812.9,1610.7 815.5,1608.4 818.4,1606.8 821.9,1607.1 823.5,1604.4 824.5,1601.5 825.2,1598.5 826.1,1595.6 826.9,1592.6 828.2,1589.8 829.7,1586.9 831.2,1584.1 831.9,1581.0 834.7,1578.8 835.3,1575.6 836.0,1572.9 839.0,1571.2 840.0,1568.0 842.3,1565.7 845.0,1566.8 847.6,1566.0 850.2,1566.1 851.6,1563.5 853.4,1561.1 854.2,1558.1 856.2,1555.8 858.1,1553.3 861.2,1551.8 864.4,1549.8 866.9,1552.2 869.5,1553.8 872.3,1554.8 874.5,1557.5 875.6,1560.5 876.7,1563.5 878.6,1566.2 881.3,1564.9 882.8,1562.4 884.1,1559.7 886.5,1557.9 888.6,1560.9 891.2,1562.9 891.4,1565.9 891.7,1568.9 892.2,1571.8 892.6,1574.7 893.4,1577.6 893.9,1580.5 894.4,1583.3 896.7,1580.9 898.8,1578.2 902.2,1576.7 905.1,1578.5 907.4,1580.4 908.5,1583.2 910.3,1581.3 911.5,1578.9 914.1,1577.4 915.7,1575.2 916.4,1572.9 918.5,1574.7 921.3,1576.4 922.3,1579.5 924.3,1582.0 926.6,1584.0 929.3,1585.4 932.2,1587.0 935.4,1585.0 938.5,1583.6 940.1,1580.5 941.2,1577.0 944.8,1575.0 945.2,1579.0 948.1,1581.5 947.9,1585.2 949.5,1588.1 952.5,1586.3 955.8,1585.0 958.0,1582.9 959.4,1580.1 961.9,1578.3 964.0,1576.2 966.0,1573.5 966.3,1570.2 969.0,1567.9 970.9,1565.3 972.8,1562.7 972.0,1559.0 974.5,1557.0 975.8,1553.8 978.9,1552.7 981.4,1550.9 984.0,1553.0 986.5,1555.3 987.6,1558.6 989.4,1561.5 992.2,1561.6 994.7,1562.6 994.2,1559.0 996.3,1556.3 998.5,1553.7 1000.0,1550.8 1002.9,1550.5 1004.2,1547.7 1006.7,1546.2 1009.4,1546.3 1012.0,1545.5 1014.7,1545.4 1015.6,1548.7 1016.8,1551.7 1017.6,1555.0 1020.0,1558.0 1022.3,1555.3 1025.2,1554.5 1028.0,1553.8 1030.2,1552.1 1032.9,1551.4 1034.7,1549.6 1036.7,1552.0 1037.3,1555.4 1040.1,1557.9 1042.8,1556.2 1045.4,1555.0 1045.7,1551.8 1046.9,1549.1 1049.1,1547.0 1050.0,1544.2 1050.3,1541.2 1052.1,1538.7 1054.4,1537.6 1057.0,1537.0 1058.7,1535.2 1062.1,1533.5 1065.4,1532.0 1068.8,1532.6 1072.1,1533.4 1074.8,1533.0 1077.3,1532.1 1078.7,1530.1 1079.1,1532.5 1080.5,1535.2 1080.8,1538.3 1082.3,1541.0 1083.1,1543.9 1084.1,1546.4 1085.4,1543.8 1088.4,1542.0 1089.4,1538.8 1091.4,1535.9 1094.7,1534.5 1094.7,1538.0 1095.3,1540.9 1097.3,1543.5 1098.6,1546.3 1099.3,1549.2 1100.1,1551.9 1101.1,1554.8 1102.1,1557.4 1103.8,1559.8 1104.4,1562.6 1104.9,1565.3 1105.4,1567.8 1108.7,1569.3 1110.8,1572.1 1110.5,1575.2 1112.0,1577.9 1112.9,1580.8 1113.2,1583.7 1114.1,1586.6 1114.8,1589.3 1117.2,1587.7 1117.7,1584.5 1119.2,1582.1 1121.4,1579.8 1124.5,1580.7 1126.8,1582.6 1128.4,1580.3 1130.5,1578.0 1131.5,1575.2 1132.1,1572.3 1133.0,1569.3 1135.1,1567.2 1136.2,1564.5 1138.2,1562.4 1140.1,1560.3 1142.9,1559.0 1145.4,1557.5 1146.3,1554.8 1148.0,1552.7 1149.5,1550.5 1150.8,1547.9 1153.2,1546.3 1156.3,1545.9 1158.8,1543.9 1160.0,1541.6 1161.2,1539.1 1163.6,1537.6 1164.6,1540.4 1166.1,1543.1 1168.1,1545.7 1169.2,1547.9 1170.5,1550.1 1172.1,1551.8 1172.8,1555.2 1173.2,1558.4 1174.7,1561.3 1174.6,1564.6 1175.1,1567.8 1176.1,1570.6 1177.9,1572.9 1179.1,1575.3 1180.6,1577.6 1181.5,1580.1 1182.3,1577.2 1184.4,1575.2 1186.5,1573.2 1188.1,1571.0 1190.9,1568.7 1193.4,1566.2 1196.1,1564.3 1196.5,1560.7 1199.6,1558.9 1200.8,1556.0 1201.7,1553.0 1204.1,1550.5 1205.4,1547.8 1207.3,1545.7 1210.8,1544.9 1213.8,1543.3 1217.5,1542.7 1218.2,1539.5 1219.1,1536.3 1220.5,1533.3 1222.8,1530.9 1226.2,1529.5 1229.5,1528.0 1231.5,1530.4 1233.1,1533.0 1233.9,1535.9 1234.8,1538.8 1238.3,1539.0 1241.5,1537.9 1244.2,1537.5 1246.8,1536.2 1249.5,1535.8 1249.9,1533.0 1252.1,1531.6 1254.8,1530.6 1256.3,1528.7 1258.5,1527.3 1260.2,1525.2 1262.0,1528.4 1264.3,1531.0 1266.8,1533.5 1267.3,1536.2 1269.7,1538.4 1270.0,1541.2 1270.8,1543.9 1270.8,1547.0 1271.3,1549.7 1271.9,1552.5 1271.9,1555.5 1272.9,1558.3 1272.7,1561.3 1273.5,1564.2 1276.2,1562.8 1278.8,1561.3 1280.3,1564.0 1283.6,1565.0 1284.2,1568.0 1284.9,1564.7 1286.7,1561.8 1288.2,1558.5 1290.4,1561.0 1292.5,1563.3 1294.9,1565.6 1297.3,1563.5 1299.7,1561.4 1301.5,1559.1 1302.9,1561.2 1305.0,1563.2 1306.6,1565.4 1306.7,1568.5 1308.2,1570.7 1308.5,1573.7 1310.0,1576.2 1311.8,1578.6 1312.2,1581.5 1314.9,1579.1 1315.2,1575.6 1315.6,1572.2 1317.5,1569.1 1320.1,1570.4 1322.9,1570.1 1325.5,1570.6 1327.6,1568.4 1329.0,1565.5 1330.6,1562.9 1332.2,1560.0 1333.1,1557.5 1334.8,1555.3 1336.3,1553.0 1338.0,1550.8 1338.9,1548.1 1342.3,1547.7 1345.5,1547.0 1348.3,1545.6 1351.1,1544.5 1353.6,1543.1 1355.0,1540.0 1355.9,1537.1 1356.3,1533.9 1358.0,1531.2 1359.1,1528.3 1360.2,1525.4 1363.2,1526.2 1365.6,1528.1 1365.8,1531.8 1368.4,1533.9 1370.9,1536.3 1373.4,1534.2 1375.1,1531.5 1377.6,1529.4 1380.5,1531.0 1382.9,1533.2 1384.7,1531.2 1386.6,1529.1 1388.2,1526.8 1390.4,1529.1 1391.6,1532.1 1393.9,1534.4 1394.9,1537.4 1396.9,1534.6 1399.3,1532.1 1401.6,1529.6 1404.0,1527.1 1404.9,1523.6 1407.2,1521.2 1409.6,1518.8 1410.9,1515.6 1411.9,1512.2 1415.1,1510.4 1417.6,1507.9 1419.8,1505.9 1421.7,1503.5 1423.7,1501.2 1425.6,1498.8 1427.3,1496.4 1427.8,1493.6 1428.5,1490.9 1428.7,1488.1 1429.6,1485.6 1432.3,1484.8 1434.9,1484.3 1436.9,1481.4 1440.3,1481.1 1441.1,1484.0 1441.9,1486.7 1441.7,1489.6 1442.5,1492.2 1443.6,1494.8 1444.3,1497.3 1444.4,1500.4 1446.1,1502.6 1447.6,1504.8 1449.6,1506.8 1449.6,1509.8 1450.0,1512.8 1450.4,1515.8 1450.7,1518.8 1451.3,1521.7 1451.2,1524.8 1451.7,1527.8 1451.7,1530.8 1452.8,1533.4 1453.8,1536.0 1454.1,1538.8 1454.9,1541.5 1456.1,1538.3 1458.3,1536.0 1460.3,1533.5 1462.2,1535.1 1464.6,1536.3 1465.6,1538.5 1466.6,1535.6 1468.6,1533.1 1470.9,1530.6 1474.1,1530.7 1477.2,1530.6 1480.3,1530.4 1480.9,1533.9 1481.7,1537.0 1482.5,1540.1 1482.9,1543.2 1482.7,1546.5 1484.3,1549.5 1485.7,1552.4 1485.5,1555.7 1486.6,1558.7 1486.5,1562.0 1487.9,1565.0 1488.3,1567.9 1488.6,1570.9 1489.0,1573.6 1489.9,1576.2 1490.6,1578.9 1491.6,1581.5 1492.3,1584.1 1493.8,1586.3 1494.2,1589.0 1496.3,1591.2 1497.3,1587.9 1498.1,1585.0 1499.2,1582.2 1500.3,1579.3 1500.3,1576.4 1503.0,1574.2 1505.6,1572.2 1506.2,1575.5 1509.6,1576.6 1512.3,1574.5 1512.3,1571.0 1515.0,1569.4 1516.3,1566.6 1519.8,1567.3 1522.8,1568.8 1525.6,1570.6 1527.9,1569.4 1530.0,1567.6 1532.0,1565.7 1533.6,1563.4 1535.8,1562.1 1537.5,1559.5 1538.7,1557.1 1540.8,1555.2 1540.5,1552.7 1543.5,1551.2 1546.0,1549.4 1548.4,1547.9 1551.1,1547.4 1553.8,1547.6 1556.3,1548.8 1559.8,1548.2 1562.6,1550.0 1564.6,1553.3 1567.3,1555.3 1568.6,1552.6 1570.2,1550.0 1570.2,1546.7 1572.0,1544.1 1574.3,1541.7 1576.7,1539.3 1579.9,1537.6 1582.4,1536.7 1585.0,1535.5 1587.8,1534.5 1590.2,1532.8 1592.5,1530.7 1594.2,1528.1 1595.7,1525.4 1596.8,1522.5 1598.5,1520.1 1600.0,1517.6 1602.6,1515.7 1606.2,1516.4 1609.8,1516.2 1613.1,1514.4 1616.2,1512.7 1618.9,1510.4 1621.5,1508.0 1622.3,1510.9 1622.9,1514.0 1625.4,1516.2 1626.6,1519.4 1628.7,1521.4 1630.0,1524.0 1630.9,1526.8 1630.3,1529.4 1632.4,1532.5 1632.3,1536.2 1635.2,1538.3 1636.6,1541.3 1637.8,1544.2 1638.7,1547.4 1639.8,1550.3 1642.8,1550.2 1644.3,1547.7 1646.1,1545.8 1648.5,1548.9 1652.4,1549.4 1652.9,1552.2 1654.3,1555.3 1655.7,1558.3 1657.2,1561.3 1657.1,1564.4 1658.6,1567.1 1661.0,1568.4 1663.4,1569.5 1666.2,1569.8 1668.6,1568.0 1671.3,1568.1 1674.0,1565.9 1676.2,1563.2 1679.2,1561.6 1682.0,1560.9 1684.4,1559.3 1687.1,1558.4 1690.2,1556.9 1693.1,1555.2 1695.0,1552.2 1695.0,1548.9 1698.9,1548.5 1699.7,1546.0 1701.5,1548.5 1702.6,1551.4 1704.6,1554.0 1706.0,1557.0 1708.5,1555.5 1711.2,1555.4 1713.9,1554.9 1715.1,1558.1 1717.6,1559.7 1718.9,1562.4 1720.5,1564.9 1723.3,1566.3 1725.9,1564.1 1728.9,1562.5 1731.2,1560.1 1733.9,1561.0 1736.2,1562.7 1739.1,1563.5 1740.4,1565.9 1741.4,1568.8 1741.9,1571.8 1743.1,1574.6 1744.5,1577.4 1745.7,1574.2 1749.1,1572.7 1750.1,1569.6 1753.2,1567.3 1755.8,1564.8 1757.5,1566.9 1759.3,1569.0 1761.2,1570.9 1762.3,1573.9 1762.8,1577.1 1764.4,1579.8 1765.6,1582.7 1767.5,1585.5 1769.7,1586.9 1771.4,1589.5 1774.6,1589.9 1776.9,1591.6 1779.2,1589.2 1780.5,1586.2 1781.1,1582.9 1783.2,1580.1 1786.6,1580.6 1789.5,1578.9 1790.6,1581.8 1791.3,1584.8 1792.5,1587.6 1794.9,1590.0 1796.5,1592.7 1795.9,1595.8 1798.1,1598.6 1799.4,1601.5 1800.6,1604.5 1802.2,1607.3 1804.4,1605.3 1806.8,1603.7 1810.0,1604.0 1811.2,1601.6 1812.3,1599.1 1813.3,1596.5 1816.2,1595.2 1817.9,1592.8 1818.9,1589.9 1821.6,1587.9 1823.3,1585.3 1824.7,1587.9 1827.5,1589.5 1830.6,1590.9 1830.5,1593.9 1832.4,1597.2 1833.7,1600.1 1833.9,1603.4 1835.2,1606.2 1836.8,1608.7 1840.1,1608.4 1843.1,1607.3 1845.0,1609.9 1845.7,1613.2 1848.8,1615.0 1849.4,1618.3 1850.8,1620.9 1854.3,1621.3 1855.7,1623.8 1857.3,1626.0 1858.1,1622.9 1859.9,1620.2 1861.3,1617.3 1863.5,1614.7 1865.2,1611.8 1865.4,1608.8 1868.7,1607.8 1870.6,1605.8 1871.2,1603.0 1873.1,1601.1 1876.3,1601.4 1878.1,1598.2 1881.0,1597.6 1883.6,1597.3 1886.2,1598.1 1888.9,1597.8 1891.8,1598.5 1893.6,1601.0 1895.8,1602.4 1897.5,1604.5 1899.9,1606.3 1901.0,1602.8 1902.1,1599.9 1904.2,1597.4 1905.0,1594.4 1906.2,1591.7 1908.4,1588.9 1912.1,1587.6 1912.5,1584.3 1914.0,1586.0 1916.2,1587.8 1918.1,1589.8 1920.4,1591.2 1922.9,1591.9 1925.1,1593.2 1925.6,1590.2 1927.4,1587.9 1928.8,1585.5 1929.8,1582.8 1931.4,1580.9 1933.6,1578.9 1935.0,1576.6 1936.1,1574.1 1938.2,1576.8 1940.5,1579.3 1942.4,1582.0 1944.5,1580.2 1947.7,1579.5 1949.5,1577.3 1950.3,1574.9 1953.6,1572.5 1956.5,1570.5 1956.6,1566.7 1958.9,1564.1 1961.9,1563.1 1964.5,1561.6 1966.5,1559.2 1968.1,1556.5 1970.7,1554.7 1972.4,1552.6 1974.9,1553.1 1977.7,1553.1 1980.3,1553.9 1982.9,1551.5 1985.4,1549.3 1988.2,1547.4 1991.0,1549.5 1989.9,1553.4 1991.8,1556.0 1992.8,1558.9 1994.5,1561.7 1996.9,1563.0 2000.0,1562.9 2002.3,1564.9 2003.0,1567.7 2004.3,1570.4 2003.6,1574.0 2007.1,1576.0 2007.4,1578.8 2009.0,1581.3 2011.2,1583.7 2011.2,1587.0 2011.6,1583.8 2013.8,1581.6 2015.2,1579.2 2016.8,1576.7 2018.1,1574.0 2021.3,1572.8 2023.7,1570.3 2026.0,1567.7 2028.4,1570.1 2029.2,1573.3 2031.5,1575.7 2032.3,1578.8 2034.8,1577.1 2036.8,1574.7 2038.4,1571.8 2041.8,1570.4 2042.9,1573.8 2044.3,1576.5 2043.8,1580.0 2046.0,1582.4 2047.1,1585.3 2049.1,1583.0 2050.2,1580.3 2051.7,1577.8 2053.7,1575.5 2054.4,1572.8 2057.7,1571.3 2060.7,1569.4 2063.9,1569.8 2066.1,1567.9 2068.5,1566.6 2072.2,1566.1 2074.3,1568.6 2076.4,1570.6 2079.1,1570.8 2081.7,1570.6 2084.3,1570.7 2087.2,1571.8 2089.6,1573.8 2092.2,1575.4 2095.3,1575.8 2097.1,1573.2 2097.1,1570.0 2098.6,1567.4 2098.7,1564.2 2100.1,1561.7 2103.6,1560.1 2104.5,1556.5 2106.4,1554.0 2107.9,1551.0 2110.1,1549.0 2112.7,1547.8 2115.6,1546.2 2118.4,1545.0 2120.5,1542.3 2123.8,1541.6 2125.6,1539.5 2128.6,1538.9 2130.4,1536.6 2130.6,1540.3 2134.1,1541.7 2135.7,1544.5 2136.2,1541.3 2138.4,1539.4 2141.2,1538.0 2142.3,1535.4 2144.1,1533.2 2146.8,1532.7 2148.9,1531.5 2151.3,1534.3 2154.2,1536.9 2156.7,1538.7 2156.8,1542.5 2159.5,1544.9 2161.8,1546.6 2160.7,1550.2 2162.7,1552.4 2163.4,1555.2 2164.8,1557.4 2167.5,1557.0 2170.1,1557.2 2172.5,1556.7 2174.5,1555.0 2176.7,1553.5 2178.1,1550.9 2180.8,1548.9 2182.0,1545.8 2183.7,1542.9 2184.0,1539.3 2186.0,1536.0 2187.9,1534.6 2190.5,1533.7 2191.0,1536.8 2191.1,1539.6 2192.0,1542.4 2192.6,1545.2 2192.7,1548.1 2193.2,1551.0 2193.9,1553.9 2195.0,1556.5 2198.0,1558.3 2198.7,1561.3 2199.2,1563.8 2199.7,1561.5 2201.8,1559.2 2201.3,1556.0 2203.8,1553.9 2204.5,1551.1 2207.8,1550.9 2211.1,1551.0 2214.4,1551.6 2217.7,1551.1 2219.7,1548.4 2223.0,1548.2 2224.3,1551.4 2224.6,1554.5 2225.5,1557.6 2227.0,1560.2 2228.7,1562.6 2230.4,1564.8 2232.3,1567.0 2234.4,1569.2 2236.5,1571.6 2238.9,1573.5 2241.5,1572.1 2244.2,1571.1 2245.9,1573.6 2246.5,1576.7 2248.1,1579.4 2249.4,1582.2 2249.5,1585.2 2252.8,1586.8 2256.1,1588.5 2258.3,1590.8 2259.9,1593.9 2262.7,1596.4 2266.7,1597.6 2265.8,1594.1 2267.7,1591.6 2268.8,1588.9 2269.1,1585.9 2270.3,1583.2 2272.0,1580.6 2272.0,1577.5 2273.3,1574.7 2275.7,1572.6 2275.9,1569.0 2278.6,1566.5 2279.8,1564.6 2281.8,1562.7 2283.5,1560.6 2283.9,1558.1 2287.2,1559.7 2290.5,1558.3 2293.7,1556.4 2297.1,1556.2 2298.7,1553.9 2300.1,1551.3 2299.9,1547.9 2302.4,1545.6 2302.8,1542.7 2304.2,1539.9 2306.5,1537.4 2306.8,1534.2 2307.7,1531.2 2309.8,1529.8 2311.8,1528.2 2314.3,1527.6 2317.0,1526.2 2319.3,1524.5 2320.9,1522.1 2324.0,1520.3 2327.5,1519.3 2328.5,1516.0 2332.1,1515.1 2334.1,1512.5 2336.8,1514.7 2339.4,1516.8 2341.9,1515.5 2344.7,1515.4 2344.9,1518.5 2344.9,1521.6 2345.6,1524.6 2345.7,1527.6 2346.4,1530.7 2347.0,1533.7 2347.2,1536.7 2348.0,1539.7 2348.3,1542.8 2348.7,1546.0 2349.6,1548.7 2351.6,1550.7 2354.4,1552.2 2355.3,1555.2 2355.8,1558.0 2356.7,1560.8 2357.7,1563.6 2357.8,1566.6 2358.4,1569.5 2359.3,1572.5 2359.8,1575.5 2359.8,1578.7 2360.8,1581.8 2361.2,1585.0 2361.9,1588.3 2362.4,1591.2 2364.8,1593.3 2365.9,1596.0 2369.3,1597.2 2372.5,1598.5 2373.7,1595.7 2375.1,1592.8 2377.8,1590.7 2380.7,1593.1 2384.4,1593.5 2386.0,1591.0 2385.9,1587.9 2386.8,1585.2 2388.2,1582.7 2389.7,1580.1 2392.1,1578.7 2393.2,1575.6 2396.3,1574.3 2397.4,1572.5 2398.7,1570.2 2401.6,1568.7 2401.6,1565.9 2404.8,1564.7 2408.2,1564.5 2409.2,1561.1 2411.4,1559.3 2414.8,1559.2 2418.0,1557.4 2421.4,1556.3 2422.6,1553.7 2423.4,1550.8 2425.1,1548.3 2426.7,1545.5 2429.3,1544.0 2431.6,1541.9 2433.3,1539.5 2434.2,1536.6 2434.6,1533.7 2436.6,1531.7 2437.7,1529.2 2439.9,1527.1 2442.7,1527.5 2443.9,1529.4 2445.4,1532.8 2446.3,1536.0 2447.8,1538.9 2449.2,1541.6 2450.2,1544.6 2449.6,1547.7 2450.3,1550.5 2451.6,1553.2 2451.3,1556.2 2452.4,1558.9 2453.2,1561.8 2455.0,1563.7 2455.0,1566.8 2456.8,1568.8 2458.5,1571.0 2461.5,1572.4 2463.8,1574.5 2465.4,1572.2 2467.3,1569.6 2469.0,1567.3 2471.7,1564.3 2473.9,1566.8 2475.7,1569.8 2478.4,1567.4 2479.8,1564.1 2482.3,1562.0 2484.8,1560.3 2487.2,1558.8 2488.9,1556.7 2491.3,1554.2 2492.2,1551.1 2493.7,1548.4 2495.5,1546.0 2498.0,1544.4 2500.2,1542.6 2502.1,1540.9 2504.1,1542.2 2506.3,1543.5 2508.7,1544.1 2511.7,1545.2 2514.0,1547.2 2515.2,1544.5 2517.0,1542.3 2519.0,1540.2 2520.6,1537.9 2523.0,1539.8 2525.9,1540.8 2526.9,1543.2 2527.1,1546.1 2528.9,1548.5 2529.9,1550.9 2530.5,1554.0 2530.9,1556.9 2531.9,1559.7 2533.1,1562.5 2533.6,1565.3 2533.9,1568.2 2537.3,1567.4 2540.5,1566.2 2543.8,1564.5 2547.1,1563.0 2548.2,1559.7 2551.8,1558.9 2553.7,1556.7 2556.0,1554.8 2557.8,1552.5 2560.3,1550.4 2563.7,1549.9 2566.9,1548.3 2567.7,1551.7 2569.5,1554.2 2570.9,1557.0 2573.5,1559.3 2575.6,1561.9 2578.8,1562.9 2581.8,1561.5 2583.4,1558.8 2585.4,1556.2 2588.6,1554.7 2592.1,1553.4 2593.1,1556.4 2594.6,1558.9 2596.1,1561.3 2596.0,1564.0 2597.1,1566.9 2597.6,1569.6 2598.0,1572.4 2598.3,1575.2 2600.0,1577.9 2604.0,1579.4 2604.4,1575.4 2607.1,1573.3 2609.3,1571.0 2612.0,1572.0 2613.9,1574.1 2615.9,1576.2 2618.9,1577.6 2620.8,1580.1 2622.5,1582.8 2623.8,1585.4 2623.6,1588.5 2623.7,1591.6 2626.2,1593.7 2627.8,1596.0 2629.2,1598.7 2630.8,1601.2 2632.8,1603.5 2633.1,1606.3 2634.9,1604.1 2637.2,1601.9 2639.7,1600.2 2642.0,1598.2 2643.4,1595.8 2644.6,1593.0 2646.3,1590.9 2648.0,1588.2 2649.8,1585.6 2650.7,1582.5 2652.9,1579.4 2654.7,1577.6 2655.9,1574.7 2657.4,1572.0 2659.5,1569.5 2662.8,1569.5 2666.1,1569.5 2668.7,1567.6 2669.8,1564.6 2671.3,1561.8 2672.8,1558.9 2674.8,1556.7 2677.4,1554.8 2679.4,1552.5 2681.4,1554.4 2684.2,1555.5 2686.0,1557.7 2688.7,1559.4 2690.8,1561.7 2692.6,1564.0 2694.3,1567.0 2695.3,1570.1 2697.6,1572.6 2699.5,1570.2 2702.0,1568.8 2704.7,1567.6 2706.4,1565.6 2708.6,1563.2 2709.4,1560.0 2711.2,1557.5 2712.9,1555.0 2715.2,1552.7 2716.7,1550.6 2718.1,1548.3 2719.4,1545.8 2721.3,1543.8 2722.2,1541.0 2724.0,1538.7 2726.3,1537.1 2728.1,1534.6 2731.0,1533.2 2730.9,1530.4 2732.0,1527.6 2733.8,1525.0 2735.0,1522.3 2736.3,1519.6 2739.3,1518.6 2741.9,1516.5 2745.1,1516.3 2748.1,1514.6 2749.1,1511.2 2751.2,1508.9 2753.9,1507.0 2755.7,1509.6 2757.0,1512.2 2759.2,1514.4 2762.4,1515.5 2761.4,1519.9 2764.4,1521.9 2767.9,1520.4 2770.2,1517.6 2773.2,1516.0 2775.2,1513.9 2775.9,1511.0 2778.2,1509.0 2779.1,1506.3 2780.3,1504.1 2782.3,1501.7 2784.7,1500.1 2784.9,1496.6 2787.3,1495.1 2788.3,1497.7 2790.1,1500.1 2790.6,1503.2 2792.6,1505.6 2792.9,1508.3 2793.5,1511.0 2794.3,1513.7 2794.4,1516.6 2795.5,1519.2 2797.9,1522.2 2797.8,1524.2 2798.6,1526.9 2799.2,1529.6 2799.8,1532.4 2800.9,1535.0 2801.0,1537.9 2801.4,1540.4 2804.0,1540.3 2806.7,1540.3 2809.3,1540.1 2811.9,1540.3 2812.7,1543.5 2813.3,1546.4 2813.3,1549.4 2814.1,1552.2 2814.6,1555.1 2816.0,1557.8 2816.7,1560.6 2817.2,1563.2 2820.0,1563.9 2821.8,1566.1 2824.3,1567.1 2824.8,1570.1 2825.5,1573.0 2825.3,1576.2 2826.1,1579.1 2826.3,1582.2 2827.2,1585.2 2827.8,1588.4 2829.8,1590.5 2831.8,1592.9 2831.9,1596.3 2833.8,1598.8 2836.0,1596.2 2838.4,1593.9 2840.4,1591.2 2841.9,1588.4 2843.5,1585.4 2845.7,1583.2 2848.3,1581.4 2850.7,1579.5 2853.4,1581.0 2856.4,1582.1 2859.5,1582.8 2861.8,1581.1 2864.6,1579.9 2866.5,1577.6 2868.9,1579.7 2870.3,1582.7 2872.8,1585.1 2875.6,1582.9 2877.7,1580.4 2879.5,1577.6 2882.3,1575.7 2883.1,1573.0 2885.0,1570.9 2887.0,1568.7 2888.4,1566.2 2889.4,1563.9 2891.9,1564.2 2894.5,1564.9 2896.4,1567.1 2899.2,1565.4 2900.5,1562.3 2903.0,1560.4 2905.2,1558.0 2907.3,1555.9 2909.7,1554.0 2912.3,1552.2 2914.0,1549.4 2916.9,1549.4 2919.3,1551.1 2920.7,1553.7 2920.7,1556.9 2923.3,1558.9 2924.6,1561.5 2927.2,1563.5 2926.3,1566.8 2928.7,1565.5 2930.3,1563.2 2931.5,1560.7 2932.2,1557.6 2935.1,1555.8 2936.3,1553.9 2939.5,1553.0 2941.2,1550.8 2942.0,1548.0 2943.9,1546.0 2946.4,1544.1 2948.7,1541.9 2950.1,1539.0 2952.7,1536.9 2955.7,1537.2 2958.7,1536.7 2961.5,1535.5 2962.5,1539.1 2965.6,1540.6 2968.5,1542.5 2969.0,1545.6 2970.1,1548.6 2971.9,1551.3 2971.9,1554.7 2973.3,1557.5 2975.6,1560.3 2978.3,1560.3 2981.0,1559.8 2983.5,1558.7 2986.1,1558.4 2988.9,1556.8 2991.9,1555.7 2994.9,1554.8 2996.5,1551.9 2999.0,1550.0 3000.9,1547.5 3003.7,1545.9 3006.1,1543.8 3009.7,1543.4 3012.5,1541.9 3014.3,1539.1 3016.5,1541.4 3019.1,1543.5 3021.3,1545.9 3024.5,1544.6 3027.8,1543.5 3030.1,1541.4 3033.5,1540.3 3034.3,1536.8 3036.4,1535.0 3038.9,1533.5 3042.4,1533.3 3045.9,1533.6 3047.5,1531.2 3048.0,1528.3 3048.9,1525.5 3050.5,1523.5 3050.8,1526.4 3050.8,1529.8 3052.9,1532.6 3053.1,1535.9 3054.7,1539.5 3054.5,1542.0 3056.2,1544.6 3056.5,1547.5 3057.7,1550.3 3058.7,1553.0 3058.9,1556.0 3059.2,1559.0 3060.0,1561.8 3061.2,1564.4 3061.9,1567.2 3063.9,1569.5 3064.5,1572.4 3065.3,1575.2 3067.1,1577.9 3069.3,1575.5 3070.1,1572.4 3072.0,1570.0 3073.7,1567.5 3075.8,1565.4 3077.6,1561.8 3081.1,1559.8 3084.7,1560.6 3086.9,1563.6 3089.9,1565.2 3093.4,1565.3 3097.0,1565.5 3096.7,1568.6 3099.0,1571.1 3099.6,1574.1 3101.7,1576.7 3101.8,1579.8 3102.2,1582.6 3105.3,1581.4 3108.1,1579.4 3111.0,1577.6 3112.8,1574.7 3115.4,1572.6 3118.1,1570.2 3118.9,1567.7 3118.9,1564.6 3120.9,1562.2 3122.8,1559.8 3125.1,1557.5 3125.8,1554.6 3125.1,1551.9 3128.0,1549.7 3130.6,1547.9 3132.0,1544.9 3133.9,1542.6 3137.2,1543.9 3139.1,1546.6 3140.9,1549.6 3144.0,1550.2 3145.7,1552.9 3148.0,1554.7 3150.8,1552.7 3153.9,1551.4 3156.8,1549.5 3157.6,1546.7 3159.5,1544.6 3160.0,1541.7 3163.2,1540.4 3164.3,1537.8 3165.6,1535.6 3167.8,1532.4 3170.9,1530.4 3170.9,1533.3 3172.0,1536.2 3172.9,1539.2 3173.6,1542.2 3174.9,1545.1 3175.5,1548.2 3176.1,1551.1 3178.1,1548.4 3180.7,1546.0 3181.4,1543.0"/>
<polyline fill="none" stroke-width="9" stroke-linejoin="round" stroke-linecap="round" stroke="#800080" points="374.2,1799.4 375.3,1796.5 376.8,1793.7 377.3,1790.5 378.9,1787.8 380.5,1785.0 381.4,1782.0 382.1,1779.4 383.3,1776.3 385.2,1774.1 386.3,1771.5 387.7,1769.0 389.6,1766.9 391.5,1764.7 394.7,1764.2 397.8,1763.3 398.3,1766.8 400.7,1769.1 403.5,1770.9 404.7,1768.5 405.2,1765.8 406.2,1763.3 408.6,1761.3 408.9,1758.5 412.4,1759.4 414.2,1762.5 416.7,1764.6 419.3,1763.6 421.9,1763.3 424.6,1763.7 426.8,1766.5 428.9,1768.9 430.6,1771.6 432.5,1774.6 433.5,1771.4 434.5,1768.6 436.1,1766.1 438.4,1764.0 438.8,1760.9 440.4,1758.7 442.7,1756.6 445.3,1755.4 448.3,1755.0 451.2,1755.6 453.8,1756.7 456.2,1758.4 458.8,1757.3 460.9,1755.4 461.9,1752.4 464.1,1749.9 464.8,1747.0 465.4,1743.9 466.6,1741.3 468.9,1744.0 470.3,1747.3 471.5,1750.0 473.4,1752.2 475.4,1754.3 476.6,1756.8 478.8,1754.9 481.4,1753.5 483.5,1752.0 486.1,1752.2 487.0,1754.9 486.9,1757.9 487.7,1760.7 488.7,1763.4 489.3,1766.4 491.5,1764.9 493.6,1763.3 495.6,1761.3 498.7,1762.2 501.9,1763.3 505.1,1763.1 508.2,1762.5 510.8,1760.6 511.9,1758.0 512.9,1755.9 516.1,1754.5 519.2,1755.0 519.9,1751.7 523.4,1751.1 525.5,1749.0 526.7,1752.0 529.6,1753.2 531.8,1754.8 534.8,1754.3 536.7,1751.4 539.7,1750.1 540.9,1747.8 543.1,1745.7 544.2,1742.8 546.1,1740.5 547.6,1737.5 547.8,1741.1 549.7,1743.5 551.0,1746.3 552.3,1749.1 553.2,1751.6 554.4,1754.1 556.3,1756.3 557.1,1758.9 558.0,1761.6 560.6,1761.2 562.7,1759.6 564.9,1758.5 566.2,1755.3 567.5,1752.3 568.1,1749.1 571.3,1750.4 574.4,1752.0 576.9,1751.1 578.8,1749.3 580.7,1747.5 584.4,1746.4 584.8,1743.4 585.9,1740.8 586.4,1738.2 588.1,1740.6 588.0,1743.9 589.7,1746.6 590.9,1749.5 591.4,1752.7 593.3,1755.7 595.6,1754.0 597.6,1752.2 599.6,1751.0 600.9,1753.6 603.8,1755.5 605.3,1758.5 606.5,1755.9 607.5,1753.4 609.0,1751.1 609.9,1748.5 610.6,1746.3 612.8,1743.4 614.5,1740.7 616.0,1738.3 617.6,1740.2 618.2,1743.0 620.1,1745.1 621.7,1747.7 623.6,1750.0 624.7,1753.1 627.4,1755.3 628.6,1758.4 629.5,1761.4 630.9,1759.0 633.1,1756.9 634.4,1754.4 633.3,1750.9 634.1,1748.2 635.9,1745.9 638.1,1747.0 640.6,1747.2 641.3,1750.1 643.2,1752.4 644.2,1755.0 645.5,1757.5 645.8,1760.3 646.3,1763.5 648.1,1760.6 649.0,1757.7 652.0,1755.7 651.6,1752.4 654.7,1753.8 657.9,1755.2 660.9,1757.1 664.2,1758.4 665.7,1760.9 668.4,1761.7 670.5,1763.3 672.3,1760.5 673.2,1757.3 674.5,1754.4 676.8,1751.9 676.8,1748.5 679.5,1746.6 681.6,1744.1 684.2,1743.7 686.8,1743.1 689.4,1742.7 690.0,1745.8 690.2,1749.0 691.3,1752.0 691.1,1755.3 691.9,1758.4 692.1,1761.6 692.6,1764.7 694.1,1767.7 695.6,1770.8 695.4,1774.5 697.3,1777.3 698.1,1774.4 700.4,1772.5 702.2,1770.3 703.6,1767.9 704.3,1764.8 705.5,1761.9 707.8,1759.5 708.1,1756.3 709.9,1753.7 713.2,1753.4 716.2,1752.3 718.1,1754.4 717.2,1757.8 719.0,1760.2 720.2,1762.7 721.7,1765.2 722.5,1767.6 723.8,1765.2 725.7,1762.8 726.8,1760.0 728.8,1757.7 730.4,1755.5 732.7,1753.6 734.4,1751.4 736.9,1749.9 738.3,1747.8 741.3,1745.4 742.7,1741.9 745.2,1739.0 746.1,1742.1 747.4,1744.6 748.9,1747.0 749.5,1749.7 750.9,1752.1 752.5,1754.3 752.2,1757.4 755.2,1758.8 755.6,1761.6 757.6,1759.4 759.6,1757.2 760.0,1754.3 761.2,1751.7 762.0,1748.9 763.5,1746.2 763.7,1742.7 765.9,1740.2 768.3,1737.7 769.4,1740.7 770.5,1743.5 770.4,1746.7 772.9,1749.0 773.0,1751.9 774.9,1754.0 776.2,1756.3 777.7,1758.4 780.5,1756.9 780.6,1753.5 783.2,1751.8 784.0,1749.5 785.0,1751.4 786.7,1753.5 788.5,1755.6 788.8,1758.0 791.3,1757.1 790.9,1753.5 793.5,1751.9 795.4,1753.9 795.2,1757.0 797.6,1758.8 798.0,1761.5 798.2,1764.7 798.3,1767.9 798.5,1771.0 799.0,1774.2 799.1,1777.3 799.4,1780.5 799.5,1783.6 799.8,1786.9 799.9,1789.7 800.1,1792.7 800.1,1795.7 800.4,1798.6 800.6,1801.6 800.7,1804.5 800.8,1807.5 800.9,1810.4 801.2,1813.4 801.1,1816.3 801.2,1819.3 801.3,1822.3 801.6,1825.2 801.6,1828.2 801.8,1831.1 802.0,1834.2 802.0,1837.1 802.2,1840.0 802.3,1843.0 802.5,1846.0 802.5,1849.0 802.6,1851.9 802.8,1854.9 802.9,1857.9 803.1,1860.9 803.2,1863.8 803.2,1866.8 803.5,1869.8 803.3,1872.8 803.4,1875.8 803.6,1878.7 803.8,1881.7 803.9,1884.7 803.9,1887.1 804.1,1890.8 804.0,1894.0 804.4,1897.1 804.4,1900.3 804.4,1903.4 804.8,1906.6 804.9,1909.7 805.0,1912.9 805.1,1916.0 807.3,1914.4 809.5,1912.9 809.2,1910.1 810.0,1907.0 811.7,1904.6 812.7,1902.0 813.0,1899.1 814.3,1896.5 815.5,1893.9 816.9,1891.3 818.4,1888.8 818.4,1885.7 818.6,1882.6 819.1,1879.7 822.3,1877.7 822.4,1874.7 823.4,1871.8 826.5,1870.3 827.7,1867.6 829.9,1865.4 830.2,1862.1 831.3,1859.3 833.0,1856.7 835.5,1854.8 837.5,1852.5 839.2,1850.0 842.3,1848.1 843.7,1845.4 843.6,1841.8 845.7,1839.4 847.5,1837.0 848.7,1834.0 851.4,1832.0 852.1,1829.0 853.6,1826.4 853.4,1823.3 855.3,1820.9 858.3,1820.2 860.4,1818.3 862.8,1816.6 864.0,1813.8 865.5,1811.1 866.8,1808.3 867.8,1805.3 869.1,1802.6 872.3,1800.7 872.8,1797.7 872.6,1794.5 875.1,1792.3 874.9,1789.1 874.9,1785.9 877.0,1783.1 877.8,1780.2 881.4,1779.6 883.3,1777.1 883.3,1774.0 884.5,1771.1 885.8,1768.2 886.2,1765.1 887.4,1762.1 888.8,1759.3 890.3,1756.5 890.4,1753.2 892.0,1750.4 892.8,1747.5 894.6,1745.1 895.3,1742.3 896.0,1739.5 898.6,1737.7 900.0,1735.3 900.6,1732.4 902.2,1729.8 903.9,1727.4 906.5,1725.2 907.1,1722.1 909.7,1720.0 909.9,1716.6 911.0,1713.7 912.4,1711.0 913.3,1708.3 914.1,1704.8 916.3,1702.5 918.8,1700.3 918.8,1696.7 921.1,1694.4 923.2,1692.0 924.3,1689.6 926.9,1686.9 927.1,1683.7 929.4,1681.4 928.7,1677.9 929.2,1674.8 932.0,1672.8 933.2,1670.0 933.8,1666.9 936.5,1666.5 938.9,1665.4 941.2,1664.2 943.2,1662.3 943.7,1659.0 944.3,1656.0 946.4,1653.5 948.0,1650.8 949.5,1647.9 951.8,1645.5 955.1,1644.3 957.4,1641.6 958.2,1639.1 961.2,1637.6 961.3,1634.5 962.7,1632.0 964.4,1629.8 963.8,1626.4 966.8,1624.5 966.5,1621.2 967.5,1618.5 969.3,1615.7 969.5,1613.1 970.7,1610.5 973.0,1608.3 973.7,1605.5 974.7,1603.1 977.6,1601.0 978.9,1597.6 981.5,1595.7 984.0,1593.3 985.0,1590.9 986.7,1588.7 988.3,1586.4 989.7,1584.1 990.7,1581.1 991.5,1578.7 992.5,1576.0 995.2,1574.0 995.3,1570.9 996.3,1568.1 997.4,1565.5 999.4,1563.1 999.8,1559.8 1001.7,1557.3 1003.5,1554.7 1006.2,1557.4 1006.5,1560.6 1006.7,1563.8 1006.9,1567.0 1007.3,1570.1 1007.1,1573.3 1007.5,1576.5 1008.1,1579.6 1008.0,1582.4 1010.4,1585.2 1013.4,1586.9 1016.7,1588.1 1020.0,1588.9 1020.2,1592.3 1021.4,1594.9 1023.6,1597.1 1023.9,1600.0 1024.0,1603.0 1024.3,1605.7 1025.2,1608.5 1025.5,1611.4 1025.6,1614.2 1025.3,1617.2 1026.1,1620.0 1026.7,1623.1 1028.1,1625.5 1029.4,1628.2 1031.4,1630.5 1032.0,1633.0 1035.5,1634.4 1037.4,1637.1 1038.1,1640.5 1039.9,1642.9 1040.5,1645.9 1042.0,1648.6 1044.1,1651.1 1046.6,1648.4 1050.4,1647.6 1052.1,1644.8 1054.6,1641.8 1056.8,1639.2 1057.7,1636.1 1058.0,1632.7 1058.7,1629.7 1060.6,1627.4 1063.0,1625.6 1062.5,1622.2 1062.8,1619.2 1065.4,1617.1 1066.5,1615.0 1067.6,1612.4 1069.9,1610.6 1071.3,1608.2 1072.1,1605.6 1074.0,1608.2 1076.1,1611.3 1079.0,1608.6 1080.4,1605.7 1080.3,1602.1 1082.3,1599.5 1082.7,1596.1 1083.9,1592.6 1087.9,1591.4 1089.4,1588.5 1090.8,1585.4 1092.0,1582.5 1093.1,1579.7 1093.2,1576.6 1093.4,1573.7 1095.3,1570.6 1096.8,1567.6 1097.4,1564.4 1098.9,1566.6 1097.7,1569.9 1099.9,1572.1 1101.0,1574.7 1101.4,1577.5 1102.0,1580.3 1102.3,1583.2 1102.0,1586.3 1102.7,1589.1 1104.2,1591.8 1104.7,1594.7 1105.4,1597.5 1105.5,1600.5 1107.8,1602.7 1109.2,1605.2 1109.4,1607.6 1109.9,1610.8 1110.3,1613.5 1110.6,1616.2 1111.1,1618.9 1112.1,1621.4 1114.1,1623.1 1116.3,1624.4 1117.4,1626.9 1118.5,1629.6 1121.5,1631.0 1122.3,1633.9 1124.1,1636.2 1126.8,1635.0 1129.4,1633.7 1130.7,1636.1 1131.7,1638.7 1133.0,1641.3 1133.4,1643.9 1133.9,1640.8 1136.7,1638.4 1138.0,1635.4 1138.8,1632.3 1139.3,1629.2 1143.0,1628.3 1143.8,1625.4 1144.9,1623.0 1145.5,1625.7 1145.8,1628.7 1148.1,1630.9 1149.4,1633.0 1151.6,1634.9 1153.1,1637.0 1154.8,1638.7 1157.9,1638.4 1160.1,1636.2 1162.8,1634.9 1164.0,1631.9 1166.5,1629.7 1167.5,1626.6 1169.5,1624.3 1172.1,1622.5 1174.5,1620.8 1176.9,1618.9 1179.1,1621.1 1179.8,1623.9 1180.3,1626.8 1181.5,1629.4 1181.7,1632.8 1182.5,1635.9 1184.1,1638.9 1184.6,1642.2 1186.7,1644.9 1187.7,1648.0 1189.5,1651.2 1192.0,1649.8 1194.7,1649.2 1197.5,1649.3 1199.0,1651.7 1201.3,1653.5 1201.4,1656.6 1202.8,1658.9 1204.0,1661.6 1205.2,1664.3 1206.2,1667.1 1208.5,1669.3 1209.5,1672.2 1210.5,1669.4 1211.8,1666.7 1212.8,1663.8 1215.4,1661.8 1216.1,1658.5 1216.6,1655.9 1218.7,1653.6 1219.5,1650.8 1220.2,1648.0 1222.5,1645.8 1222.6,1642.6 1224.2,1640.0 1225.7,1637.3 1226.5,1634.2 1227.7,1631.2 1229.4,1628.4 1230.8,1625.7 1233.2,1623.1 1236.2,1621.5 1238.8,1620.8 1241.5,1620.1 1243.1,1617.6 1246.6,1617.4 1248.2,1615.2 1249.3,1618.1 1251.3,1621.0 1252.7,1624.5 1253.3,1627.0 1254.1,1629.8 1254.6,1632.7 1254.8,1635.6 1255.1,1638.5 1256.4,1641.2 1256.2,1643.9 1257.4,1646.5 1258.1,1649.3 1260.2,1651.2 1261.5,1653.9 1263.1,1656.9 1266.8,1657.8 1268.2,1654.8 1270.2,1652.5 1270.8,1650.0 1273.3,1651.7 1276.2,1653.8 1277.8,1655.9 1277.4,1659.0 1278.2,1661.6 1278.7,1664.4 1280.2,1667.2 1280.4,1669.7 1281.9,1672.2 1281.7,1675.1 1284.4,1677.2 1284.2,1680.0 1286.1,1678.4 1289.3,1678.6 1290.9,1676.2 1293.0,1673.9 1294.9,1671.5 1297.3,1669.6 1298.9,1667.0 1301.1,1664.5 1304.0,1663.0 1306.9,1661.7 1310.2,1662.2 1313.5,1661.5 1315.6,1658.6 1318.1,1656.1 1321.5,1654.6 1324.1,1653.3 1326.7,1651.9 1329.5,1650.7 1331.4,1649.1 1333.8,1648.0 1334.9,1646.0 1336.2,1647.7 1337.0,1650.3 1338.9,1652.3 1338.9,1655.2 1339.8,1657.9 1340.9,1660.6 1342.9,1663.6 1344.9,1665.7 1347.6,1667.3 1350.9,1668.7 1353.8,1669.6 1356.4,1671.5 1358.9,1673.4 1361.3,1675.4 1364.1,1676.4 1366.9,1677.3 1367.8,1680.7 1368.1,1683.9 1368.7,1687.1 1369.2,1690.3 1369.6,1693.1 1373.6,1694.7 1373.9,1691.4 1375.7,1688.6 1377.0,1685.6 1378.9,1682.7 1380.9,1680.6 1381.2,1677.5 1382.1,1674.7 1381.7,1671.4 1383.5,1669.0 1385.6,1666.8 1386.9,1664.1 1388.4,1661.7 1388.8,1658.8 1390.3,1656.4 1391.1,1653.6 1392.6,1651.2 1392.7,1648.2 1393.6,1645.7 1394.7,1642.5 1395.7,1639.5 1398.2,1637.1 1398.2,1633.6 1399.4,1630.7 1401.6,1628.3 1403.0,1625.4 1404.2,1622.6 1405.3,1619.7 1406.2,1616.8 1408.7,1614.4 1408.9,1611.2 1409.6,1608.6 1411.0,1605.6 1411.6,1602.6 1412.9,1600.0 1414.3,1597.5 1417.3,1595.6 1416.8,1592.2 1418.2,1589.6 1418.1,1586.4 1420.3,1584.0 1421.5,1581.4 1423.2,1578.9 1424.4,1576.2 1425.3,1573.3 1426.9,1570.8 1428.3,1568.1 1430.0,1565.7 1430.5,1562.9 1431.2,1560.1 1431.4,1557.1 1433.6,1554.9 1434.3,1552.1 1434.6,1549.2 1436.3,1546.9 1438.1,1544.4 1438.6,1541.5 1439.6,1538.8 1439.7,1535.8 1439.7,1532.7 1442.2,1530.6 1442.6,1527.6 1444.9,1525.5 1445.7,1522.7 1446.9,1520.1 1448.1,1517.2 1450.2,1514.9 1452.1,1512.4 1453.3,1509.6 1455.1,1507.1 1456.8,1504.5 1457.6,1501.6 1457.9,1498.2 1460.4,1496.2 1461.3,1493.2 1462.2,1490.4 1462.8,1487.4 1464.0,1484.6 1466.9,1482.6 1469.4,1480.7 1470.9,1478.0 1472.7,1475.6 1471.5,1471.7 1473.9,1469.6 1474.1,1466.3 1476.3,1463.5 1477.6,1461.3 1479.3,1458.7 1479.4,1455.4 1479.7,1452.2 1480.7,1449.3 1482.7,1446.8 1484.9,1444.4 1485.6,1442.0 1487.3,1438.7 1487.2,1435.3 1487.9,1432.3 1489.6,1429.6 1491.0,1426.8 1491.8,1423.4 1494.8,1421.9 1496.5,1419.4 1499.0,1417.4 1500.0,1414.3 1503.2,1412.9 1505.9,1411.1 1507.0,1408.6 1509.7,1405.8 1510.1,1402.6 1511.2,1399.6 1511.6,1396.3 1513.4,1393.6 1514.4,1390.6 1516.3,1388.0 1517.9,1385.6 1518.6,1382.7 1520.8,1380.5 1520.2,1377.1 1521.3,1374.5 1523.0,1372.3 1524.3,1369.7 1526.1,1367.6 1525.4,1364.1 1528.3,1362.6 1530.0,1359.6 1532.6,1357.0 1533.1,1360.4 1534.5,1363.2 1535.8,1365.8 1535.8,1369.1 1535.9,1372.1 1536.0,1375.1 1536.1,1378.1 1536.2,1381.1 1536.3,1384.1 1536.3,1387.1 1536.4,1390.1 1536.3,1393.1 1536.5,1396.1 1536.5,1399.1 1536.7,1402.1 1536.6,1405.1 1536.8,1408.1 1536.9,1411.1 1537.0,1414.1 1537.0,1417.1 1537.2,1420.1 1537.3,1423.1 1537.3,1426.2 1537.3,1429.1 1537.4,1432.2 1537.6,1435.2 1537.6,1438.2 1537.7,1441.3 1537.8,1444.3 1537.9,1447.3 1538.0,1450.4 1538.1,1453.4 1538.1,1456.4 1538.2,1459.5 1538.3,1462.5 1538.3,1465.5 1538.5,1468.6 1538.5,1471.6 1538.6,1474.6 1538.7,1477.7 1538.7,1480.7 1538.9,1483.7 1539.0,1486.7 1539.0,1489.8 1539.1,1492.8 1539.2,1495.8 1539.3,1498.9 1539.4,1501.9 1539.4,1504.9 1539.5,1508.2 1539.7,1511.0 1539.7,1514.0 1539.9,1517.0 1539.9,1520.1 1539.9,1523.1 1540.0,1526.1 1540.0,1529.1 1540.2,1532.1 1540.2,1535.2 1540.3,1538.2 1540.5,1541.2 1540.4,1544.2 1540.6,1547.2 1540.7,1550.3 1540.8,1553.3 1540.9,1556.3 1541.0,1559.3 1540.9,1562.4 1541.2,1565.4 1541.1,1568.4 1541.2,1571.4 1541.2,1574.4 1541.3,1577.5 1541.4,1580.9 1541.9,1583.4 1541.9,1586.3 1542.5,1589.2 1542.8,1592.1 1543.0,1595.0 1543.3,1597.9 1543.7,1600.8 1543.6,1603.8 1544.0,1606.7 1544.8,1609.5 1544.9,1612.5 1545.1,1615.4 1545.2,1618.7 1545.4,1621.3 1545.7,1624.2 1545.8,1627.1 1546.4,1630.1 1546.1,1633.0 1546.5,1636.0 1546.9,1638.9 1546.8,1641.9 1547.2,1644.8 1547.5,1647.7 1547.5,1650.7 1547.4,1653.6 1547.9,1656.6 1548.2,1659.5 1548.4,1662.4 1548.8,1665.3 1549.8,1668.1 1550.3,1671.0 1551.3,1673.7 1551.5,1676.5 1553.5,1674.3 1553.8,1670.9 1556.3,1668.7 1558.3,1666.4 1557.9,1663.3 1558.7,1660.5 1559.8,1657.9 1560.7,1655.2 1560.9,1652.3 1562.6,1649.8 1564.2,1647.3 1565.7,1644.7 1566.8,1641.9 1567.1,1638.7 1568.3,1636.0 1569.2,1633.1 1572.4,1631.2 1572.0,1628.1 1574.0,1625.3 1575.7,1622.7 1576.0,1619.5 1577.2,1616.7 1578.5,1613.9 1580.6,1611.5 1580.1,1607.9 1581.9,1605.4 1583.1,1602.7 1584.7,1599.9 1585.1,1596.7 1587.3,1594.3 1588.6,1591.4 1588.8,1588.1 1589.7,1585.1 1593.0,1583.2 1593.0,1579.8 1593.3,1576.5 1595.7,1574.0 1596.1,1571.0 1597.9,1568.4 1599.7,1565.8 1600.2,1562.6 1600.9,1559.5 1604.1,1557.6 1603.9,1554.0 1604.8,1551.0 1606.7,1548.5 1608.3,1545.8 1609.6,1543.0 1610.5,1539.9 1612.9,1537.6 1613.3,1534.3 1614.5,1531.4 1616.9,1529.1 1618.8,1526.6 1620.0,1523.6 1620.9,1520.9 1622.4,1517.9 1623.7,1515.2 1623.7,1512.1 1624.5,1509.1 1626.3,1506.6 1627.9,1504.0 1628.2,1500.9 1628.8,1498.0 1630.3,1495.2 1632.2,1492.8 1633.0,1489.7 1634.0,1486.8 1635.2,1483.9 1636.4,1481.1 1638.2,1478.5 1639.0,1475.4 1640.4,1472.7 1641.5,1469.8 1643.0,1466.8 1644.3,1464.1 1645.9,1461.5 1646.1,1458.0 1648.4,1455.7 1650.1,1453.0 1651.3,1450.1 1652.0,1447.0 1653.5,1444.2 1655.6,1441.8 1656.6,1438.7 1659.2,1436.6 1660.2,1433.6 1662.0,1431.1 1661.6,1427.2 1664.8,1425.4 1666.6,1422.8 1666.6,1419.7 1669.2,1417.6 1669.7,1414.6 1670.2,1411.7 1672.9,1409.6 1674.5,1407.1 1674.5,1404.4 1676.6,1401.5 1678.0,1398.7 1677.4,1395.0 1679.2,1392.4 1681.6,1390.1 1682.7,1387.2 1683.6,1384.2 1684.5,1381.2 1685.6,1378.3 1687.1,1375.3 1688.5,1373.1 1688.5,1369.6 1691.9,1368.5 1693.4,1366.1 1693.2,1362.6 1696.0,1361.0 1698.1,1359.0 1699.7,1356.6 1701.7,1354.1 1703.5,1351.5 1705.0,1348.7 1705.1,1345.1 1705.9,1341.9 1708.2,1339.5 1711.0,1337.5 1712.3,1334.2 1713.4,1331.7 1714.9,1329.1 1716.8,1326.7 1717.5,1323.7 1720.2,1321.8 1721.6,1319.1 1723.9,1317.0 1724.9,1314.3 1726.6,1311.6 1728.7,1309.4 1730.7,1307.0 1731.8,1304.2 1732.5,1301.1 1734.5,1298.8 1736.7,1296.6 1737.5,1294.0 1740.5,1292.3 1742.3,1290.0 1743.3,1287.1 1746.3,1285.8 1747.0,1283.1 1749.9,1281.2 1752.0,1278.9 1753.6,1276.1 1756.4,1274.1 1758.1,1272.2 1760.3,1270.1 1762.4,1267.9 1762.6,1264.5 1764.3,1262.0 1766.2,1259.9 1768.8,1258.6 1770.6,1256.3 1772.6,1259.1 1774.5,1261.7 1774.7,1264.9 1774.8,1268.2 1774.9,1271.2 1775.0,1274.1 1774.9,1277.1 1775.1,1280.1 1775.2,1283.0 1775.3,1286.0 1775.2,1289.0 1775.3,1291.9 1775.4,1294.9 1775.5,1297.9 1775.5,1300.8 1775.6,1303.8 1775.6,1306.8 1775.7,1309.7 1775.7,1312.7 1775.9,1315.7 1776.0,1318.6 1775.9,1321.6 1776.0,1324.6 1776.1,1327.5 1776.1,1330.5 1776.3,1333.5 1776.3,1336.4 1776.4,1339.4 1776.5,1342.4 1776.4,1345.3 1776.6,1348.3 1776.6,1351.3 1776.8,1354.2 1776.7,1357.2 1776.8,1360.2 1776.8,1363.1 1776.9,1366.1 1777.0,1369.1 1777.0,1372.0 1777.1,1375.0 1777.2,1377.9 1777.3,1380.9 1777.4,1383.8 1777.5,1386.8 1777.5,1389.7 1777.5,1392.7 1777.6,1395.7 1777.8,1398.6 1777.8,1401.6 1777.8,1404.5 1777.9,1407.5 1778.0,1410.4 1778.0,1413.4 1778.2,1416.3 1778.2,1419.3 1778.3,1422.3 1778.3,1425.2 1778.4,1428.2 1778.5,1431.1 1778.5,1434.1 1778.5,1437.0 1778.7,1440.0 1778.7,1442.9 1778.7,1445.9 1778.8,1448.9 1778.9,1451.8 1778.9,1454.8 1779.0,1457.7 1779.1,1460.6 1779.4,1463.7 1779.5,1466.7 1779.4,1469.8 1779.3,1472.8 1779.7,1475.8 1779.7,1478.9 1779.8,1481.9 1779.9,1484.9 1780.0,1488.0 1780.0,1491.0 1780.2,1494.0 1780.2,1497.1 1780.3,1500.1 1780.4,1503.1 1780.5,1506.2 1780.7,1509.2 1780.7,1512.2 1780.9,1515.2 1781.0,1518.3 1781.1,1521.3 1781.2,1524.3 1781.3,1527.4 1781.5,1530.4 1781.5,1533.4 1781.6,1536.5 1781.7,1539.3 1783.2,1542.1 1784.6,1544.9 1786.4,1547.4 1787.2,1550.3 1787.1,1553.3 1787.4,1556.3 1787.3,1559.3 1787.4,1562.4 1788.0,1565.3 1788.5,1568.3 1789.0,1571.2 1789.5,1574.2 1789.9,1577.3 1790.2,1580.5 1790.5,1583.6 1790.7,1586.8 1790.6,1589.9 1790.7,1593.1 1791.7,1596.2 1791.6,1599.4 1791.8,1602.0 1793.2,1605.3 1793.3,1608.3 1793.7,1611.3 1792.8,1614.5 1794.3,1617.3 1795.5,1620.1 1795.9,1622.6 1796.1,1626.0 1796.5,1629.0 1796.7,1632.0 1797.1,1634.9 1797.0,1637.9 1797.2,1640.9 1797.3,1643.9 1797.8,1646.9 1798.1,1649.8 1799.4,1652.6 1801.1,1655.2 1801.3,1658.4 1803.8,1660.7 1803.7,1663.6 1807.0,1664.5 1809.1,1666.9 1811.6,1668.3 1814.7,1667.6 1817.9,1666.9 1820.0,1669.5 1821.5,1672.2 1822.6,1675.4 1825.6,1673.0 1829.0,1672.1 1830.9,1670.2 1834.4,1670.5 1835.3,1667.7 1836.9,1664.5 1836.3,1661.2 1838.3,1658.7 1838.6,1655.7 1838.8,1652.6 1840.0,1649.7 1842.9,1647.3 1843.8,1643.7 1844.4,1646.4 1844.6,1649.4 1845.4,1652.3 1847.4,1654.8 1847.9,1657.3 1850.4,1655.4 1852.5,1652.8 1854.2,1650.1 1857.4,1648.5 1859.6,1645.9 1862.1,1643.8 1864.7,1643.3 1867.3,1643.3 1869.9,1643.5 1871.5,1646.5 1872.6,1649.7 1872.4,1653.4 1874.7,1656.4 1874.8,1659.3 1875.3,1662.5 1876.1,1665.6 1876.1,1668.8 1877.1,1671.8 1877.1,1675.1 1877.5,1678.2 1877.8,1681.1 1878.1,1684.3 1879.0,1687.1 1878.7,1690.2 1880.4,1692.8 1880.0,1695.9 1881.0,1699.1 1882.9,1701.5 1885.7,1703.3 1886.4,1700.5 1887.3,1697.6 1890.1,1696.1 1892.0,1693.8 1893.6,1691.6 1894.4,1688.8 1895.7,1686.3 1895.2,1683.1 1897.1,1680.8 1898.3,1678.3 1900.4,1676.0 1899.4,1672.2 1902.6,1670.5 1902.4,1667.1 1904.6,1664.9 1906.2,1662.4 1909.1,1660.6 1910.1,1657.7 1911.2,1654.7 1912.1,1651.7 1913.3,1648.9 1915.6,1646.2 1917.2,1644.2 1918.8,1641.8 1921.8,1640.5 1922.8,1637.5 1925.1,1635.7 1927.8,1634.4 1930.4,1632.7 1933.3,1632.0 1936.1,1630.5 1938.5,1632.5 1940.9,1634.1 1943.5,1635.3 1945.6,1637.2 1948.9,1636.6 1952.2,1635.9 1955.1,1634.3 1956.8,1636.3 1957.9,1639.0 1960.9,1640.5 1961.4,1643.6 1964.5,1642.5 1967.7,1642.0 1970.5,1641.3 1971.8,1638.7 1974.0,1637.1 1975.1,1640.0 1976.9,1642.5 1976.9,1645.8 1978.7,1648.0 1981.6,1649.4 1983.9,1651.5 1986.6,1653.1 1989.9,1654.2 1992.9,1656.4 1993.1,1659.2 1995.0,1661.4 1996.0,1664.0 1998.6,1665.9 1999.2,1668.8 2000.7,1666.3 2002.3,1664.0 2003.6,1661.5 2004.6,1658.9 2005.5,1656.2 2006.2,1653.2 2007.3,1650.5 2009.0,1648.3 2011.8,1646.5 2013.4,1644.3 2014.6,1641.7 2016.0,1639.2 2018.4,1637.4 2019.7,1634.9 2021.3,1632.9 2023.9,1632.9 2026.7,1632.7 2029.1,1633.4 2030.4,1631.4 2033.1,1630.1 2034.3,1627.4 2037.0,1626.1 2038.9,1623.8 2039.5,1620.5 2041.8,1618.2 2044.8,1618.3 2047.1,1620.2 2049.6,1621.3 2050.1,1624.7 2051.3,1627.7 2051.8,1630.9 2052.0,1634.1 2052.8,1637.2 2053.5,1640.3 2054.2,1643.5 2054.1,1646.7 2054.7,1649.9 2055.1,1653.0 2055.9,1656.5 2056.2,1659.1 2056.7,1662.0 2057.5,1664.9 2057.8,1667.8 2058.0,1670.8 2059.0,1673.6 2059.1,1676.2 2061.7,1677.4 2064.1,1679.0 2067.0,1678.6 2069.3,1676.9 2072.1,1676.0 2074.2,1674.4 2076.6,1673.0 2078.0,1670.8 2080.0,1668.2 2081.8,1666.0 2083.8,1664.0 2085.3,1661.5 2085.2,1658.0 2087.5,1656.3 2089.2,1653.5 2090.5,1650.5 2092.2,1647.8 2094.9,1646.0 2096.9,1643.0 2097.4,1640.5 2099.8,1638.6 2102.0,1636.6 2103.2,1634.5 2105.8,1635.4 2108.7,1635.7 2111.1,1636.9 2113.0,1639.9 2115.2,1642.1 2117.3,1644.6 2119.9,1646.5 2122.3,1648.7 2123.8,1651.3 2125.2,1654.7 2126.3,1657.9 2127.8,1661.3 2130.0,1663.4 2133.1,1665.0 2136.2,1666.5 2139.7,1666.1 2142.0,1668.5 2143.0,1671.6 2145.0,1674.4 2147.1,1676.0 2150.0,1676.8 2151.6,1678.9 2153.5,1682.0 2154.9,1684.9 2156.9,1687.0 2160.4,1688.1 2163.5,1689.9 2165.2,1687.3 2166.6,1684.5 2166.6,1681.3 2167.0,1678.1 2168.8,1675.2 2169.9,1672.5 2171.4,1669.8 2173.9,1667.6 2175.4,1664.9 2174.7,1661.5 2176.9,1659.3 2178.7,1657.0 2178.7,1653.9 2180.7,1651.8 2182.3,1648.9 2183.4,1645.9 2184.3,1642.7 2186.5,1640.3 2187.3,1637.5 2189.0,1634.8 2191.3,1632.5 2192.1,1636.4 2193.9,1639.3 2195.2,1641.9 2197.0,1640.0 2196.2,1636.3 2198.2,1634.0 2200.5,1631.2 2201.6,1628.2 2204.6,1626.2 2207.1,1624.3 2208.1,1621.0 2210.5,1618.9 2210.7,1615.7 2212.4,1613.0 2215.4,1612.5 2218.5,1611.5 2218.6,1614.7 2220.1,1617.2 2221.3,1619.7 2221.4,1622.4 2221.7,1625.0 2223.4,1627.9 2223.7,1631.1 2223.7,1634.4 2225.7,1637.3 2226.8,1639.9 2226.8,1643.0 2227.4,1646.0 2229.1,1648.7 2229.6,1651.5 2230.5,1654.8 2231.4,1657.9 2231.1,1661.2 2231.6,1664.4 2232.3,1667.9 2233.4,1670.1 2236.2,1669.9 2237.6,1667.9 2240.2,1667.2 2240.9,1670.5 2243.3,1672.3 2244.6,1674.9 2246.8,1676.7 2249.3,1674.6 2251.2,1672.2 2253.0,1669.6 2253.4,1666.7 2256.1,1663.9 2259.6,1662.8 2261.4,1659.7 2262.5,1656.9 2264.0,1654.5 2266.2,1652.5 2268.0,1650.6 2270.6,1650.5 2273.3,1650.7 2275.9,1650.4 2279.0,1652.1 2282.5,1653.1 2284.7,1650.3 2287.8,1649.4 2290.9,1648.5 2293.1,1646.7 2293.5,1649.5 2295.4,1652.2 2296.3,1655.2 2297.1,1658.4 2297.5,1661.3 2299.2,1663.8 2301.1,1666.2 2301.9,1663.2 2302.3,1660.1 2303.7,1657.3 2304.9,1654.4 2306.3,1651.4 2309.0,1650.4 2311.6,1649.5 2314.2,1647.9 2316.5,1646.1 2319.6,1645.9 2322.0,1644.8 2323.1,1641.9 2325.9,1640.8 2327.5,1638.8 2328.8,1635.8 2329.2,1632.6 2331.5,1630.5 2332.2,1627.5 2334.1,1625.0 2336.6,1623.1 2337.3,1620.2 2337.0,1616.7 2339.4,1614.3 2340.6,1611.3 2343.4,1609.5 2347.4,1608.1 2347.8,1610.8 2348.0,1613.6 2348.4,1616.4 2349.0,1619.2 2349.5,1622.0 2349.5,1624.8 2349.9,1627.6 2350.0,1630.2 2350.5,1633.6 2350.8,1636.8 2352.2,1639.7 2352.6,1642.8 2353.8,1645.8 2354.0,1648.3 2355.6,1646.2 2357.7,1643.7 2357.8,1640.2 2358.4,1637.0 2360.6,1633.8 2361.3,1631.3 2363.6,1628.8 2364.9,1625.9 2365.0,1622.4 2367.2,1619.7 2367.0,1616.8 2368.5,1614.4 2370.2,1612.0 2371.2,1609.4 2373.7,1610.8 2374.7,1613.2 2375.1,1615.6 2376.6,1613.0 2377.4,1609.8 2379.3,1607.1 2380.4,1604.4 2380.8,1600.9 2382.9,1598.7 2385.9,1596.8 2386.3,1593.7 2387.0,1590.9 2390.0,1588.7 2392.2,1586.1 2393.7,1583.1 2396.3,1581.2 2398.9,1582.5 2400.0,1580.2 2401.6,1577.7 2403.6,1575.4 2403.7,1572.2 2406.2,1572.0 2408.2,1573.4 2408.3,1576.4 2408.8,1579.2 2409.1,1582.0 2409.1,1584.8 2409.4,1587.7 2409.4,1590.5 2409.8,1593.3 2410.1,1596.1 2411.0,1599.1 2411.0,1602.3 2411.3,1605.4 2411.9,1608.4 2412.7,1611.5 2412.7,1614.7 2412.9,1617.4 2414.1,1619.9 2414.3,1622.7 2414.4,1625.5 2416.1,1628.1 2416.4,1631.4 2418.0,1634.3 2420.1,1637.2 2421.9,1635.0 2424.7,1633.7 2426.8,1631.9 2428.0,1629.5 2429.8,1631.9 2431.2,1634.9 2432.2,1638.0 2433.3,1640.7 2433.8,1637.7 2435.7,1635.2 2438.3,1633.1 2439.9,1630.6 2441.2,1628.1 2443.0,1626.1 2445.0,1624.2 2445.2,1621.2 2446.0,1623.8 2448.1,1625.7 2448.4,1628.6 2450.5,1630.3 2451.8,1632.9 2454.4,1634.5 2454.9,1637.4 2456.0,1639.9 2457.1,1642.2 2458.8,1640.2 2459.1,1637.1 2460.7,1634.9 2462.8,1632.9 2463.6,1630.2 2465.1,1627.9 2466.9,1630.0 2468.5,1632.3 2470.4,1634.3 2473.0,1636.5 2474.5,1639.3 2475.7,1642.5 2477.6,1640.3 2478.8,1637.6 2480.2,1635.1 2482.3,1633.3 2485.2,1632.4 2487.6,1630.6 2490.2,1629.3 2491.4,1632.2 2491.9,1635.5 2494.6,1637.9 2495.5,1641.0 2496.2,1643.8 2497.1,1646.5 2498.9,1648.8 2499.5,1651.4 2500.9,1648.9 2502.9,1646.3 2502.4,1642.8 2503.4,1639.9 2504.8,1637.3 2505.8,1634.4 2507.4,1632.0 2508.8,1629.5 2509.3,1626.6 2511.6,1624.4 2511.4,1621.6 2512.4,1618.3 2514.2,1615.7 2515.7,1613.0 2515.5,1609.6 2516.8,1606.8 2518.0,1603.9 2519.3,1600.9 2519.7,1597.5 2522.0,1594.6 2522.0,1597.9 2522.7,1601.0 2523.0,1604.2 2523.3,1607.3 2523.9,1610.4 2524.0,1613.6 2524.4,1616.7 2524.6,1619.6 2524.6,1623.0 2525.0,1626.1 2525.3,1629.1 2525.9,1632.2 2525.7,1635.3 2525.9,1638.4 2525.9,1641.5 2526.3,1644.6 2526.5,1647.6 2527.9,1645.4 2530.6,1643.9 2531.2,1641.5 2531.3,1637.9 2534.6,1636.3 2535.8,1633.6 2535.8,1630.5 2536.1,1627.5 2537.3,1624.9 2539.2,1622.0 2539.9,1619.4 2542.2,1617.0 2543.2,1614.0 2543.9,1610.8 2545.9,1608.3 2547.1,1605.5 2548.5,1602.6 2549.9,1599.9 2551.7,1597.3 2552.4,1594.3 2553.8,1591.6 2554.9,1588.7 2555.0,1585.7 2556.8,1583.1 2557.5,1580.3 2558.2,1577.5 2559.8,1575.0 2561.2,1572.5 2562.6,1569.9 2563.0,1567.2 2563.1,1563.7 2564.7,1560.9 2566.0,1558.0 2567.3,1555.1 2568.1,1552.0 2568.7,1548.9 2569.6,1545.8 2571.5,1543.5 2572.7,1540.9 2573.2,1538.0 2574.3,1535.4 2575.3,1532.7 2576.2,1529.9 2577.5,1527.6 2578.6,1525.1 2580.6,1523.0 2581.0,1520.2 2582.8,1517.8 2585.6,1516.3 2588.1,1514.2 2592.1,1512.6 2593.0,1515.6 2593.4,1518.5 2593.6,1521.5 2593.8,1524.5 2594.7,1527.4 2594.7,1530.4 2594.9,1533.4 2595.3,1536.5 2595.4,1539.5 2595.4,1542.6 2595.5,1545.6 2595.8,1548.7 2596.0,1551.7 2596.2,1554.8 2596.3,1557.8 2596.6,1560.9 2596.7,1563.9 2596.8,1567.2 2596.9,1570.1 2597.0,1573.2 2597.3,1576.2 2597.4,1579.3 2597.6,1582.4 2597.7,1585.5 2597.8,1588.6 2598.2,1591.7 2598.4,1594.8 2598.3,1597.9 2598.4,1600.9 2598.7,1604.3 2599.4,1607.2 2599.5,1610.4 2599.9,1613.6 2601.0,1616.7 2601.3,1619.5 2601.7,1622.6 2602.5,1625.2 2603.7,1627.7 2604.0,1630.3 2605.7,1633.2 2605.9,1636.4 2606.9,1639.4 2607.9,1642.6 2610.4,1640.4 2612.5,1638.2 2614.6,1636.1 2617.1,1638.5 2619.8,1640.8 2622.2,1642.7 2624.7,1644.0 2626.5,1646.3 2629.2,1644.8 2629.7,1641.7 2631.2,1639.3 2633.1,1636.7 2636.0,1635.1 2638.8,1632.9 2639.7,1629.7 2642.3,1627.2 2642.3,1624.5 2643.3,1626.5 2644.4,1629.1 2645.4,1631.7 2646.3,1634.6 2648.5,1636.7 2649.9,1639.3 2650.3,1642.4 2651.6,1644.9 2651.5,1641.9 2652.8,1639.4 2654.9,1637.2 2657.1,1634.9 2656.9,1632.1 2659.5,1633.0 2662.2,1631.8 2663.0,1634.4 2663.6,1637.2 2664.8,1639.7 2665.5,1642.3 2666.1,1645.6 2668.7,1646.5 2670.1,1648.5 2672.6,1646.2 2675.4,1643.8 2678.0,1644.2 2679.4,1645.9 2679.7,1649.2 2679.8,1652.1 2680.2,1655.0 2680.1,1657.9 2680.3,1660.8 2680.5,1663.7 2681.0,1666.5 2680.8,1669.4 2681.1,1672.3 2681.5,1675.2 2681.5,1678.0 2681.6,1681.1 2682.8,1683.9 2682.9,1686.9 2683.7,1689.7 2684.1,1692.6 2685.3,1689.8 2685.4,1686.7 2687.0,1684.0 2688.6,1681.3 2688.6,1678.3 2689.9,1675.6 2690.4,1672.8 2691.2,1670.1 2692.9,1667.8 2692.8,1664.8 2693.9,1662.1 2696.6,1660.6 2696.7,1657.6 2697.6,1655.1 2698.9,1652.2 2700.0,1649.2 2701.3,1646.3 2703.7,1644.0 2703.5,1640.4 2703.9,1637.1 2706.5,1634.9 2708.1,1631.9 2708.9,1629.0 2710.3,1626.2 2711.4,1623.2 2712.1,1620.1 2713.6,1617.3 2714.9,1614.4 2715.5,1611.3 2717.3,1608.6 2718.7,1606.0 2720.4,1603.2 2722.5,1600.9 2722.8,1597.7 2724.2,1595.1 2725.1,1592.2 2725.8,1589.2 2726.8,1586.3 2727.5,1583.3 2730.2,1581.3 2731.2,1578.4 2732.8,1575.8 2733.0,1572.7 2733.8,1569.7 2735.2,1567.0 2737.9,1564.9 2739.9,1562.4 2741.7,1559.9 2741.7,1556.6 2742.4,1553.6 2742.4,1550.4 2743.0,1547.4 2744.9,1544.9 2746.9,1542.2 2747.7,1539.6 2748.1,1536.7 2749.7,1534.1 2751.3,1531.6 2752.5,1529.0 2754.7,1526.7 2754.0,1523.3 2755.5,1520.8 2756.2,1517.9 2757.0,1515.1 2758.6,1512.6 2758.7,1509.5 2760.9,1507.3 2762.2,1504.6 2764.0,1502.2 2764.6,1499.3 2766.5,1496.9 2766.1,1493.6 2766.8,1490.8 2769.9,1488.8 2770.5,1485.9 2771.9,1483.4 2772.1,1480.3 2772.8,1477.4 2773.8,1474.7 2775.0,1472.3 2776.7,1469.6 2777.3,1466.7 2776.9,1463.4 2779.3,1461.2 2781.0,1458.8 2782.8,1456.3 2782.9,1453.2 2782.5,1449.9 2783.9,1447.3 2786.4,1445.2 2787.4,1442.5 2788.6,1439.8 2789.1,1437.0 2790.4,1434.2 2791.9,1431.6 2793.6,1429.1 2795.6,1426.9 2796.1,1423.7 2799.2,1422.1 2801.2,1419.8 2801.4,1416.4 2803.2,1413.7 2805.3,1411.6 2806.4,1408.8 2806.7,1405.7 2807.2,1402.6 2809.9,1400.4 2811.0,1397.6 2811.8,1394.7 2813.9,1392.3 2813.5,1388.8 2814.5,1386.0 2815.4,1383.1 2817.2,1380.5 2817.4,1377.0 2819.9,1374.8 2821.2,1371.9 2823.0,1369.3 2824.3,1366.4 2824.7,1363.1 2827.9,1361.3 2830.4,1359.1 2831.3,1356.3 2832.5,1353.0 2834.4,1350.4 2836.4,1347.9 2837.4,1344.9 2838.3,1341.8 2840.7,1339.5 2842.4,1336.9 2843.6,1333.9 2845.4,1331.5 2846.5,1328.3 2848.6,1325.9 2850.1,1323.1 2852.5,1320.9 2853.6,1317.9 2854.3,1314.6 2855.2,1311.5 2857.8,1309.4 2859.5,1306.4 2861.8,1305.0 2863.6,1302.8 2864.9,1300.2 2866.3,1297.7 2868.1,1295.5 2870.7,1294.1 2872.2,1291.6 2873.5,1288.9 2874.6,1286.1 2876.9,1283.7 2877.8,1280.6 2880.7,1278.7 2880.9,1275.2 2883.3,1272.9 2884.4,1269.9 2887.1,1267.8 2887.6,1264.9 2889.6,1262.0 2891.4,1259.4 2892.8,1256.5 2893.7,1253.2 2896.0,1251.0 2898.2,1248.4 2900.7,1247.1 2903.2,1245.4 2905.5,1243.5 2908.7,1243.0 2910.5,1241.1 2913.4,1240.1 2915.7,1238.6 2917.5,1236.2 2919.0,1233.5 2920.1,1230.6 2921.7,1227.9 2922.7,1224.8 2924.5,1222.0 2927.5,1220.5 2929.6,1217.9 2931.6,1215.0 2935.1,1216.6 2935.2,1219.9 2935.3,1222.9 2935.4,1225.9 2935.5,1228.9 2935.5,1231.9 2935.5,1234.8 2935.6,1237.8 2935.7,1240.8 2935.8,1243.8 2935.9,1246.8 2935.9,1249.8 2936.0,1252.7 2936.1,1255.7 2936.1,1258.7 2936.3,1261.7 2936.4,1264.7 2936.4,1267.7 2936.5,1270.6 2936.6,1273.6 2936.7,1276.6 2936.7,1279.6 2936.8,1282.6 2936.9,1285.6 2936.9,1288.6 2936.9,1291.6 2936.9,1294.6 2936.9,1297.6 2936.9,1300.6 2936.9,1303.7 2936.9,1306.7 2936.9,1309.7 2937.0,1312.7 2937.0,1315.7 2937.0,1318.7 2937.0,1321.8 2937.0,1324.8 2937.0,1327.8 2937.0,1330.8 2937.0,1333.8 2937.0,1336.8 2937.0,1339.8 2937.1,1342.9 2937.1,1345.9 2937.1,1348.9 2937.1,1351.9 2937.1,1354.9 2937.1,1357.9 2937.1,1361.0 2937.1,1364.0 2937.1,1367.0 2937.1,1370.0 2937.1,1373.0 2937.2,1376.0 2937.2,1379.1 2937.2,1382.1 2937.2,1385.1 2937.2,1388.1 2937.2,1391.1 2937.2,1394.1 2937.2,1397.2 2937.2,1400.2 2937.3,1403.2 2937.3,1406.2 2937.3,1409.2 2937.3,1412.2 2937.3,1415.2 2937.3,1418.3 2937.3,1421.3 2937.3,1424.3 2937.3,1427.3 2937.3,1430.3 2937.4,1433.3 2937.4,1436.4 2937.4,1439.4 2937.4,1442.4 2937.4,1445.4 2937.4,1448.4 2937.4,1451.4 2937.4,1454.5 2937.4,1457.5 2937.4,1460.5 2937.4,1463.5 2937.5,1466.5 2937.5,1469.5 2937.5,1472.6 2937.5,1475.6 2937.5,1478.6 2937.5,1481.6 2937.5,1484.6 2937.5,1487.6 2937.5,1490.6 2937.5,1493.7 2937.6,1496.7 2937.6,1499.7 2937.6,1502.6 2937.6,1505.6 2937.6,1508.6 2937.6,1511.6 2937.6,1514.6 2937.6,1517.6 2937.7,1520.5 2937.7,1523.5 2937.7,1526.5 2937.7,1529.5 2937.7,1532.5 2937.7,1535.4 2937.7,1538.4 2937.7,1541.4 2937.7,1544.4 2937.8,1547.4 2937.8,1550.4 2937.8,1553.3 2937.8,1556.3 2937.8,1559.3 2937.8,1562.3 2937.8,1565.3 2937.8,1568.2 2937.9,1571.2 2937.9,1574.2 2937.9,1577.2 2937.9,1580.2 2937.9,1583.2 2937.9,1586.1 2937.9,1589.1 2938.0,1592.1 2938.0,1595.1 2938.0,1598.1 2938.0,1601.0 2938.0,1604.0 2938.0,1607.0 2938.0,1610.0 2938.0,1613.0 2938.0,1616.0 2938.1,1618.9 2938.1,1621.9 2938.1,1624.9 2938.1,1627.9 2938.1,1630.9 2938.1,1633.8 2938.1,1636.8 2938.1,1639.8 2938.2,1642.8 2938.1,1645.8 2938.2,1648.8 2938.2,1651.7 2938.2,1654.7 2938.2,1657.7 2938.2,1660.7 2938.2,1663.7 2938.3,1666.6 2938.3,1669.6 2938.3,1672.0 2938.3,1675.6 2938.3,1678.6 2938.3,1681.6 2938.3,1684.6 2938.3,1687.6 2938.3,1690.5 2938.3,1693.5 2938.3,1696.5 2938.3,1699.5 2938.3,1702.5 2938.3,1705.5 2938.3,1708.5 2938.3,1711.5 2938.3,1714.4 2938.3,1717.4 2938.3,1720.4 2938.3,1723.4 2938.3,1726.4 2938.3,1729.4 2938.3,1732.4 2938.3,1735.4 2938.3,1738.3 2938.3,1741.3 2938.3,1744.3 2938.3,1747.3 2938.3,1750.3 2938.3,1753.3 2938.3,1756.3 2938.3,1759.3 2938.3,1762.3 2938.3,1765.2 2938.3,1768.2 2938.3,1771.2 2938.3,1774.2 2938.3,1777.2 2938.3,1780.2 2938.3,1783.2 2938.3,1786.2 2938.3,1789.1 2938.3,1792.1 2938.3,1795.1 2938.3,1798.1 2938.3,1801.1 2938.3,1804.1 2938.3,1807.1 2938.3,1810.1 2938.3,1813.0 2938.3,1816.0 2938.3,1819.0 2938.3,1822.0 2938.3,1825.0 2938.3,1828.0 2938.3,1830.8 2938.3,1834.0 2938.3,1837.0 2938.3,1840.0 2938.3,1843.0 2938.3,1846.0 2938.3,1849.0 2938.3,1852.1 2938.3,1855.1 2938.3,1858.1 2938.3,1861.1 2938.3,1864.1 2938.3,1867.1 2938.3,1870.1 2938.3,1873.1 2938.3,1876.1 2938.3,1879.2 2938.3,1882.2 2938.3,1885.2 2938.3,1888.2 2938.3,1891.2 2938.3,1894.2 2938.3,1897.2 2938.3,1900.2 2938.3,1903.2 2938.3,1906.2 2938.3,1909.3 2938.3,1912.3 2938.3,1915.3 2938.3,1918.3 2938.3,1921.3 2938.4,1924.2 2938.3,1927.2 2938.4,1930.2 2938.5,1933.2 2938.4,1936.2 2938.5,1939.1 2938.5,1942.1 2938.5,1945.1 2938.6,1948.1 2938.6,1951.0 2938.6,1954.0 2938.7,1957.0 2938.7,1960.0 2938.7,1962.9 2938.8,1965.9 2938.8,1968.9 2938.8,1971.9 2938.9,1974.9 2938.9,1977.8 2938.9,1980.8 2938.9,1983.8 2940.5,1986.3 2940.7,1989.2 2941.0,1992.1 2942.2,1994.8 2943.4,1997.1 2945.5,1999.1 2945.7,2001.8 2946.1,2004.4 2947.1,2001.5 2949.2,1998.9 2949.0,1995.5 2949.9,1992.5 2950.7,1989.5 2953.4,1988.1 2955.3,1985.7 2956.6,1983.3 2956.1,1980.3 2956.6,1977.5 2956.7,1974.6 2958.0,1971.9 2958.6,1969.1 2959.0,1966.0 2960.2,1963.8 2963.5,1962.8 2964.0,1960.2 2967.3,1960.0 2967.8,1956.9 2968.1,1953.9 2968.1,1951.0 2968.8,1948.1 2969.8,1945.3 2969.9,1942.6 2972.3,1940.7 2974.0,1938.5 2975.0,1935.8 2975.1,1932.7 2975.8,1929.6 2976.1,1926.6 2976.3,1923.5 2977.1,1920.1 2978.6,1917.9 2978.3,1914.6 2979.0,1911.7 2981.5,1909.2 2982.2,1906.3 2982.6,1903.0 2983.4,1899.8 2983.7,1896.5 2988.1,1896.5 2988.7,1893.4 2989.4,1890.3 2989.9,1887.2 2990.1,1884.0 2990.6,1880.9 2990.8,1877.7 2991.3,1874.3 2994.1,1873.9 2996.8,1874.3 2997.7,1877.7 2997.7,1880.8 2997.8,1884.0 2998.1,1887.1 2998.5,1890.2 2998.8,1893.3 2999.0,1896.4 3000.2,1893.6 3001.7,1890.9 3002.2,1887.5 3002.3,1884.3 3005.7,1882.1 3006.7,1879.0 3006.7,1875.5 3007.7,1872.6 3008.9,1869.9 3009.3,1867.1 3010.3,1864.4 3010.6,1861.6 3011.0,1858.8 3011.1,1855.9 3012.4,1853.3 3013.2,1851.2 3015.5,1848.4 3015.6,1845.0 3017.1,1842.4 3018.6,1839.9 3019.8,1836.9 3020.2,1834.0 3020.0,1830.9 3020.3,1828.0 3020.9,1825.1 3021.9,1821.9 3022.7,1819.0 3024.9,1816.6 3026.7,1814.0 3028.4,1811.4 3028.6,1808.0 3029.2,1804.7 3030.3,1801.5 3030.6,1798.2 3032.0,1795.4 3032.9,1792.4 3033.1,1789.2 3034.8,1786.5 3034.8,1783.2 3037.2,1780.2 3037.0,1777.5 3038.6,1775.0 3041.3,1772.9 3041.5,1769.6 3042.8,1767.3 3043.8,1764.6 3043.2,1761.6 3044.7,1759.0 3045.1,1756.3 3045.5,1753.4 3047.3,1751.0 3047.0,1748.5 3047.9,1744.5 3050.1,1741.9 3052.5,1739.3 3053.4,1736.6 3053.5,1733.8 3054.0,1731.1 3054.6,1728.2 3055.5,1725.5 3056.8,1722.9 3058.2,1720.3 3059.4,1717.7 3061.2,1714.9 3062.0,1712.4 3062.3,1709.4 3064.1,1707.0 3065.5,1704.3 3066.0,1701.6 3066.3,1698.7 3066.3,1695.9 3066.8,1693.0 3067.1,1690.1 3067.8,1687.3 3069.1,1684.6 3071.0,1682.2 3071.5,1679.2 3073.6,1676.8 3074.7,1674.0 3075.2,1671.0 3076.7,1668.4 3077.6,1665.3 3077.7,1662.4 3079.9,1660.0 3080.1,1656.9 3080.5,1653.8 3083.3,1651.7 3084.4,1648.9 3084.6,1645.7 3086.1,1643.1 3087.5,1640.4 3088.2,1637.4 3089.4,1634.4 3090.6,1631.4 3093.3,1629.4 3094.9,1626.6 3096.5,1623.9 3098.7,1621.4 3099.4,1618.6 3100.0,1615.6 3099.9,1612.4 3101.8,1609.7 3102.7,1606.7 3103.2,1603.7 3103.5,1600.6 3104.0,1597.6 3105.4,1594.7 3105.8,1591.7 3106.0,1588.6 3107.5,1586.0 3108.3,1583.1 3109.2,1580.3 3109.6,1577.3 3110.8,1574.6 3112.5,1572.0 3113.6,1569.3 3115.1,1566.6 3115.6,1563.7 3116.3,1560.8 3117.9,1558.2 3117.5,1554.9 3118.2,1552.0 3119.8,1549.3 3121.7,1547.0 3121.6,1543.8 3122.0,1540.9 3123.7,1538.3 3124.8,1535.6 3125.6,1532.8 3127.7,1530.4 3128.0,1527.4 3130.1,1525.0 3131.1,1522.2 3130.5,1518.9 3132.6,1516.5 3133.6,1513.8 3133.9,1511.2 3134.0,1507.6 3136.8,1505.7 3137.9,1503.1 3138.8,1500.3 3140.7,1497.9 3140.1,1494.5 3142.6,1492.5 3143.8,1489.9 3144.9,1487.2 3145.5,1484.3 3145.6,1481.2 3148.0,1478.6 3151.0,1477.0 3150.2,1473.4 3150.8,1470.2 3153.7,1468.2 3154.7,1465.2 3155.3,1462.1 3156.5,1459.3 3158.1,1456.7 3159.6,1454.0 3160.3,1451.3 3161.7,1448.5 3162.4,1445.7 3163.7,1443.2 3164.6,1440.5 3166.7,1438.4 3168.1,1436.0 3169.1,1433.4 3171.2,1431.3 3173.6,1429.6 3176.1,1428.0 3177.9,1425.1 3179.2,1421.9 3181.4,1419.1"/>
</g>
<text font-family="Liberation Serif, serif" fill="#000" stroke="#000" stroke-width="1.1" font-size="87" text-anchor="end" transform="translate(337.5,89.4) scale(0.983,1)">2.8</text>
<text font-family="Liberation Serif, serif" fill="#000" stroke="#000" stroke-width="1.1" font-size="89.5" text-anchor="end" transform="translate(338.7,1087.6) scale(0.983,1)">2.8</text>
<text font-family="Liberation Serif, serif" fill="#000" stroke="#000" stroke-width="1.1" font-size="87" text-anchor="end" transform="translate(337.5,188.9) scale(0.983,1)">2.4</text>
<text font-family="Liberation Serif, serif" fill="#000" stroke="#000" stroke-width="1.1" font-size="89.5" text-anchor="end" transform="translate(338.7,1191.8) scale(0.983,1)">2.4</text>
<text font-family="Liberation Serif, serif" fill="#000" stroke="#000" stroke-width="1.1" font-size="87" text-anchor="end" transform="translate(337.5,288.5) scale(0.983,1)">2.0</text>
<text font-family="Liberation Serif, serif" fill="#000" stroke="#000" stroke-width="1.1" font-size="89.5" text-anchor="end" transform="translate(338.7,1296.0) scale(0.983,1)">2.0</text>
<text font-family="Liberation Serif, serif" fill="#000" stroke="#000" stroke-width="1.1" font-size="87" text-anchor="end" transform="translate(337.5,388.0) scale(0.983,1)">1.6</text>
<text font-family="Liberation Serif, serif" fill="#000" stroke="#000" stroke-width="1.1" font-size="89.5" text-anchor="end" transform="translate(338.7,1400.3) scale(0.983,1)">1.6</text>
<text font-family="Liberation Serif, serif" fill="#000" stroke="#000" stroke-width="1.1" font-size="87" text-anchor="end" transform="translate(337.5,487.6) scale(0.983,1)">1.2</text>
<text font-family="Liberation Serif, serif" fill="#000" stroke="#000" stroke-width="1.1" font-size="89.5" text-anchor="end" transform="translate(338.7,1504.5) scale(0.983,1)">1.2</text>
<text font-family="Liberation Serif, serif" fill="#000" stroke="#000" stroke-width="1.1" font-size="87" text-anchor="end" transform="translate(337.5,587.1) scale(0.983,1)">0.8</text>
<text font-family="Liberation Serif, serif" fill="#000" stroke="#000" stroke-width="1.1" font-size="89.5" text-anchor="end" transform="translate(338.7,1608.7) scale(0.983,1)">0.8</text>
<text font-family="Liberation Serif, serif" fill="#000" stroke="#000" stroke-width="1.1" font-size="87" text-anchor="end" transform="translate(337.5,686.6) scale(0.983,1)">0.4</text>
<text font-family="Liberation Serif, serif" fill="#000" stroke="#000" stroke-width="1.1" font-size="89.5" text-anchor="end" transform="translate(338.7,1712.9) scale(0.983,1)">0.4</text>
<text font-family="Liberation Serif, serif" fill="#000" stroke="#000" stroke-width="1.1" font-size="87" text-anchor="end" transform="translate(337.5,786.2) scale(0.983,1)">0.0</text>
<text font-family="Liberation Serif, serif" fill="#000" stroke="#000" stroke-width="1.1" font-size="89.5" text-anchor="end" transform="translate(338.7,1817.2) scale(0.983,1)">0.0</text>
<text font-family="Liberation Serif, serif" fill="#000" stroke="#000" stroke-width="1.1" font-size="87" text-anchor="end" transform="translate(337.5,885.7) scale(0.983,1)">-0.4</text>
<text font-family="Liberation Serif, serif" fill="#000" stroke="#000" stroke-width="1.1" font-size="89.5" text-anchor="end" transform="translate(338.7,1921.4) scale(0.983,1)">-0.4</text>
<text font-family="Liberation Serif, serif" fill="#000" stroke="#000" stroke-width="1.1" font-size="87" text-anchor="end" transform="translate(337.5,985.3) scale(0.983,1)">-0.8</text>
<text font-family="Liberation Serif, serif" fill="#000" stroke="#000" stroke-width="1.1" font-size="89.5" text-anchor="end" transform="translate(338.7,2025.6) scale(0.983,1)">-0.8</text>
<text font-family="Liberation Serif, serif" fill="#000" stroke="#000" stroke-width="1.1" font-size="89.5" text-anchor="middle" transform="translate(373.0,2167.8) scale(0.983,1)">0</text>
<text font-family="Liberation Serif, serif" fill="#000" stroke="#000" stroke-width="1.1" font-size="89.5" text-anchor="middle" transform="translate(653.8,2167.8) scale(0.983,1)">10</text>
<text font-family="Liberation Serif, serif" fill="#000" stroke="#000" stroke-width="1.1" font-size="89.5" text-anchor="middle" transform="translate(934.6,2167.8) scale(0.983,1)">20</text>
<text font-family="Liberation Serif, serif" fill="#000" stroke="#000" stroke-width="1.1" font-size="89.5" text-anchor="middle" transform="translate(1215.4,2167.8) scale(0.983,1)">30</text>
<text font-family="Liberation Serif, serif" fill="#000" stroke="#000" stroke-width="1.1" font-size="89.5" text-anchor="middle" transform="translate(1496.2,2167.8) scale(0.983,1)">40</text>
<text font-family="Liberation Serif, serif" fill="#000" stroke="#000" stroke-width="1.1" font-size="89.5" text-anchor="middle" transform="translate(1777.0,2167.8) scale(0.983,1)">50</text>
<text font-family="Liberation Serif, serif" fill="#000" stroke="#000" stroke-width="1.1" font-size="89.5" text-anchor="middle" transform="translate(2057.8,2167.8) scale(0.983,1)">60</text>
<text font-family="Liberation Serif, serif" fill="#000" stroke="#000" stroke-width="1.1" font-size="89.5" text-anchor="middle" transform="translate(2338.6,2167.8) scale(0.983,1)">70</text>
<text font-family="Liberation Serif, serif" fill="#000" stroke="#000" stroke-width="1.1" font-size="89.5" text-anchor="middle" transform="translate(2619.4,2167.8) scale(0.983,1)">80</text>
<text font-family="Liberation Serif, serif" fill="#000" stroke="#000" stroke-width="1.1" font-size="89.5" text-anchor="middle" transform="translate(2900.2,2167.8) scale(0.983,1)">90</text>
<text font-family="Liberation Serif, serif" fill="#000" stroke="#000" stroke-width="1.1" font-size="89.5" text-anchor="middle" transform="translate(3181.0,2167.8) scale(0.983,1)">100</text>
<text font-family="Liberation Serif, serif" fill="#000" stroke="#000" stroke-width="1.1" font-size="86" text-anchor="start" transform="translate(397.5,144.3) scale(0.963,1)">vetrical GBs</text>
<text font-family="Liberation Serif, serif" fill="#000" stroke="#000" stroke-width="1.1" font-size="88.6" text-anchor="start" transform="translate(400.5,1144.0) scale(0.968,1)">horizontal GBs</text>
<rect x="2219.5" y="1848" width="513" height="196.5" fill="#fff" stroke="#000" stroke-width="3.4"/>
<line x1="2230" y1="1900" x2="2394.5" y2="1900" stroke="#00ffff" stroke-width="8.4" stroke-linecap="round"/>
<line x1="2230" y1="1992" x2="2394.5" y2="1992" stroke="#800080" stroke-width="8.4" stroke-linecap="round"/>
<text font-family="Liberation Serif, serif" fill="#000" stroke="#000" stroke-width="1.1" font-size="74.5" text-anchor="start" transform="translate(2414.5,1925.8) scale(0.963,1)">Al with Zr</text>
<text font-family="Liberation Serif, serif" fill="#000" stroke="#000" stroke-width="1.1" font-size="74.5" text-anchor="start" transform="translate(2413.5,2017.1) scale(0.98,1)">pure Al</text>
<g transform="translate(116,1210) rotate(-90)">
<text font-family="Liberation Serif, serif" fill="#000" stroke="#000" stroke-width="1.1" font-size="112" font-style="italic" text-anchor="start" transform="translate(-2.0,0.0) scale(1.3,1)">σ</text>
<text font-family="Liberation Serif, serif" fill="#000" stroke="#000" stroke-width="1.1" font-size="122" font-style="italic" text-anchor="start" transform="translate(62.0,76.0) scale(1.0,1)">xy</text>
<text font-family="Liberation Serif, serif" fill="#000" stroke="#000" stroke-width="1.1" font-size="122" text-anchor="start" transform="translate(174.0,0.0) scale(1.0,1)">,</text>
<text font-family="Liberation Serif, serif" fill="#000" stroke="#000" stroke-width="1.1" font-size="122" text-anchor="start" transform="translate(240.0,-2.0) scale(1.0,1)">GPa</text>
</g>
<text font-family="Liberation Serif, serif" fill="#000" stroke="#000" stroke-width="1.1" font-size="127" font-style="italic" text-anchor="start" transform="translate(1646.0,2290.0) scale(1.25,1)">ε</text>
<text font-family="Liberation Serif, serif" fill="#000" stroke="#000" stroke-width="1.1" font-size="124" font-style="italic" text-anchor="start" transform="translate(1694.0,2323.7) scale(1.0,1)">xy</text>
<text font-family="Liberation Serif, serif" fill="#000" stroke="#000" stroke-width="1.1" font-size="127" text-anchor="start" transform="translate(1806.0,2288.0) scale(1.0,1)">,</text>
<text font-family="Liberation Serif, serif" fill="#000" stroke="#000" stroke-width="1.1" font-size="127" text-anchor="start" transform="translate(1871.0,2290.0) scale(1.0,1)">%</text>
</svg>
</body></html>
